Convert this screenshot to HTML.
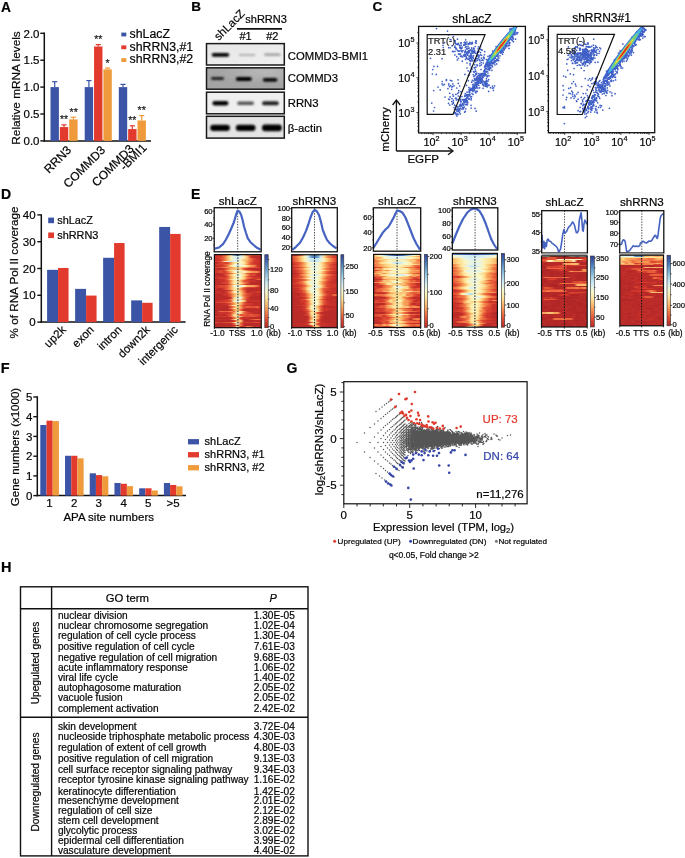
<!DOCTYPE html>
<html><head><meta charset="utf-8"><style>
html,body{margin:0;padding:0;background:#fff;}
body{width:685px;height:858px;position:relative;overflow:hidden;}
.hm{position:absolute;overflow:hidden;}
.hm i{position:absolute;left:0;right:0;display:block;}
svg{position:absolute;left:0;top:0;will-change:transform;}
svg text{font-family:"Liberation Sans",sans-serif;stroke-width:0.22px;}
</style></head><body>
<div class="hm" style="left:214px;top:255px;width:47px;height:73px">
<i style="top:0px;height:1px;background:linear-gradient(90deg,#bd2c29,#d0352b,#d3372c,#e05035,#f69653,#fdf1b6,#8cbedc,#4f7dba,#c1e3ee,#fccf81,#f17b47,#e65938,#d73f2e,#de4b33,#c8312a)"></i>
<i style="top:1px;height:2px;background:linear-gradient(90deg,#bf2d29,#d0352b,#d8402f,#ee683e,#fab165,#fdeeaf,#e4f3e8,#d2ecf2,#e4f3e8,#fdeeaf,#fab165,#d2362b,#b92a28,#b92a28,#b92a28)"></i>
<i style="top:3px;height:1px;background:linear-gradient(90deg,#d4392c,#cd342a,#de4c33,#ee683e,#fab165,#fdeeaf,#e4f3e8,#d2ecf2,#e4f3e8,#fdeeaf,#faba6e,#ee683e,#dd4932,#b92a28,#b92a28)"></i>
<i style="top:4px;height:2px;background:linear-gradient(90deg,#bf2d29,#c9312a,#d8402f,#ee683e,#fab165,#fdeeaf,#e4f3e8,#d2ecf2,#fdf1b7,#fbc77a,#fab165,#ee683e,#d8402f,#c8312a,#bf2d29)"></i>
<i style="top:6px;height:1px;background:linear-gradient(90deg,#d73f2f,#d1362b,#dd4a32,#fcd082,#eff5d9,#c2e3ee,#e5f3e7,#dbf1f4,#fcf8c6,#fdde90,#f58d4f,#ee6a3f,#d3382c,#d4392c,#ca322a)"></i>
<i style="top:7px;height:2px;background:linear-gradient(90deg,#b92a28,#bf2d29,#d94330,#da4430,#d8402f,#f69251,#fddd8e,#fdefb2,#faf7c9,#fde7a1,#f89e57,#e15035,#d2362b,#c8312a,#c6302a)"></i>
<i style="top:9px;height:1px;background:linear-gradient(90deg,#bf2d29,#d8412f,#d2372b,#e25336,#ef6f41,#f79c56,#f6f7ce,#e6f3e6,#edf5dc,#fddc8d,#f4874c,#e45537,#dc4832,#cb332a,#bf2d29)"></i>
<i style="top:10px;height:2px;background:linear-gradient(90deg,#b92a28,#c42f29,#cf352b,#da4531,#f07242,#fddb8c,#f3f6d3,#daf0f4,#f8f7cb,#f4f6d0,#fcd587,#f8a058,#f3824a,#cc332a,#bd2c28)"></i>
<i style="top:12px;height:1px;background:linear-gradient(90deg,#df4e34,#d7402f,#e55838,#f17745,#f79c56,#f48a4e,#fab86b,#fdde8f,#fcc97c,#f9a55a,#f48b4e,#e65a39,#e25236,#dd4a33,#d43a2d)"></i>
<i style="top:13px;height:2px;background:linear-gradient(90deg,#d0352b,#bb2b28,#b92a28,#cf342b,#eb633c,#f9a65b,#faba6d,#fccd7f,#fbbd71,#e55738,#c53029,#c8312a,#b92a28,#b92a28,#b92a28)"></i>
<i style="top:15px;height:1px;background:linear-gradient(90deg,#c32f29,#d2372b,#d94330,#da4430,#f9a45a,#fcd587,#eaf4e0,#ddf1f3,#fdf5be,#fab76b,#f3814a,#df4d34,#d3382c,#b92a28,#bf2d29)"></i>
<i style="top:16px;height:2px;background:linear-gradient(90deg,#d2372b,#cf352b,#e45537,#cf352b,#ec643d,#faae62,#fdf0b5,#f1f5d6,#fde59d,#f5f6d0,#fccd7f,#f9a85d,#f69352,#f4894d,#cd332a)"></i>
<i style="top:18px;height:1px;background:linear-gradient(90deg,#d0352b,#b92a28,#b92a28,#d7402f,#d8412f,#e65938,#f9ac60,#fdedae,#fdecab,#fab166,#e75c39,#d3372c,#d0352b,#c12e29,#b92a28)"></i>
<i style="top:19px;height:2px;background:linear-gradient(90deg,#be2c29,#b92a28,#b92a28,#c9322a,#ec643d,#fab96c,#fdf3ba,#eaf4df,#f4f6d1,#fdda8b,#f4874c,#d8402f,#df4d34,#b92a28,#bf2d29)"></i>
<i style="top:21px;height:1px;background:linear-gradient(90deg,#b92a28,#ce342b,#c6302a,#c32f29,#d73e2e,#f79d56,#fde399,#e9f4e1,#f5f6d0,#fbc275,#e95f3b,#d3392c,#b92a28,#b92a28,#b92a28)"></i>
<i style="top:22px;height:2px;background:linear-gradient(90deg,#d2362b,#c53029,#d73f2e,#d53b2d,#e35437,#f89d56,#fde59e,#f4f6d1,#fdf4bc,#fcd082,#ef6d40,#df4e34,#d3372b,#d1362b,#d43a2d)"></i>
<i style="top:24px;height:1px;background:linear-gradient(90deg,#b92a28,#b92a28,#c53029,#d1352b,#ea613c,#fcd183,#f1f6d5,#f2f6d4,#fde297,#f9a359,#d8402f,#ba2b28,#b92a28,#eb633c,#eb633c)"></i>
<i style="top:25px;height:2px;background:linear-gradient(90deg,#ba2a28,#c02e29,#c53029,#c9322a,#dc4932,#f4874c,#fde49b,#fdf4bd,#fab569,#e35537,#d94330,#ca322a,#c7312a,#b92a28,#c02d29)"></i>
<i style="top:27px;height:2px;background:linear-gradient(90deg,#b92a28,#c12e29,#c7312a,#d94230,#d9422f,#f79c56,#fdeeb0,#fdf3b9,#fdd889,#f27f49,#e35537,#b92a28,#b92a28,#b92a28,#b92a28)"></i>
<i style="top:29px;height:1px;background:linear-gradient(90deg,#b92a28,#b92a28,#b92a28,#b92a28,#cd342a,#f07243,#fbc476,#fde399,#f8a058,#e85d3a,#bb2b28,#b92a28,#b92a28,#b92a28,#b92a28)"></i>
<i style="top:30px;height:2px;background:linear-gradient(90deg,#d2372b,#d1352b,#dd4932,#db4631,#e9603b,#f69653,#f7f7cd,#dbf1f4,#e7f3e4,#fdf8c3,#fab468,#f9a75c,#f79b55,#ef6c40,#b92a28)"></i>
<i style="top:32px;height:1px;background:linear-gradient(90deg,#d1352b,#ce342b,#d8412f,#d9422f,#e65938,#f89f57,#fde9a5,#faf7c8,#fdda8b,#ef7042,#da4430,#d8412f,#d8412f,#c8312a,#cc332a)"></i>
<i style="top:33px;height:2px;background:linear-gradient(90deg,#d1352b,#c53029,#b92a28,#d63e2e,#eb633c,#f89f57,#fde7a2,#fdefb1,#f79754,#dc4832,#c22f29,#b92a28,#b92a28,#bd2c28,#c43029)"></i>
<i style="top:35px;height:1px;background:linear-gradient(90deg,#b92a28,#b92a28,#b92a28,#b92a28,#c53029,#dc4832,#fbc477,#fddd8e,#fab065,#e95f3b,#b92a28,#b92a28,#b92a28,#b92a28,#b92a28)"></i>
<i style="top:36px;height:2px;background:linear-gradient(90deg,#b92a28,#ca322a,#c8312a,#b92a28,#db4631,#f27d48,#fdf0b4,#ebf4df,#fcc97c,#ed673d,#c32f29,#c53029,#c6302a,#d63d2e,#d7402f)"></i>
<i style="top:38px;height:1px;background:linear-gradient(90deg,#d4392c,#bc2c28,#c22f29,#c7312a,#d43a2c,#f17644,#fab367,#fde296,#fccb7d,#f48c4e,#dd4a33,#da4531,#c22e29,#c02d29,#b92a28)"></i>
<i style="top:39px;height:2px;background:linear-gradient(90deg,#b92a28,#b92a28,#b92a28,#cb332a,#d0352b,#e55938,#faad62,#fdeeb1,#fcd586,#ee683e,#dc4732,#cd342a,#be2d29,#c6302a,#b92a28)"></i>
<i style="top:41px;height:1px;background:linear-gradient(90deg,#bd2c28,#b92a28,#b92a28,#b92a28,#c9322a,#e45537,#f9ab60,#fdedad,#fde7a0,#f17a46,#de4c33,#c32f29,#b92a28,#b92a28,#b92a28)"></i>
<i style="top:42px;height:2px;background:linear-gradient(90deg,#b92a28,#b92a28,#b92a28,#b92a28,#b92a28,#ca322a,#fcd587,#e7f3e4,#e8f4e2,#f4884d,#d8412f,#b92a28,#b92a28,#b92a28,#b92a28)"></i>
<i style="top:44px;height:1px;background:linear-gradient(90deg,#b92a28,#b92a28,#bf2d29,#c22e29,#d0352b,#f17a46,#fde195,#f5f6cf,#fccd80,#f07444,#cd342a,#c6302a,#b92a28,#b92a28,#b92a28)"></i>
<i style="top:45px;height:2px;background:linear-gradient(90deg,#bc2c28,#c7312a,#cd342a,#d3382c,#d8412f,#e15135,#fdefb1,#dff2f0,#f5f6d0,#fbc073,#ca322a,#c32f29,#cd342a,#c8312a,#cc332a)"></i>
<i style="top:47px;height:1px;background:linear-gradient(90deg,#b92a28,#dd4a33,#dd4a33,#dd4a33,#e65938,#f48b4e,#fab064,#fde7a2,#fab86c,#e55738,#b92a28,#b92a28,#b92a28,#b92a28,#b92a28)"></i>
<i style="top:48px;height:2px;background:linear-gradient(90deg,#c53029,#bd2c28,#bc2b28,#ca322a,#cd342a,#e45537,#f89d56,#fde7a2,#fab568,#e35437,#d53c2d,#d2362b,#c02e29,#b92a28,#d63d2e)"></i>
<i style="top:50px;height:1px;background:linear-gradient(90deg,#b92a28,#bf2d29,#be2d29,#b92a28,#c53029,#f79854,#fdefb2,#fde7a0,#f17645,#d2362b,#c9322a,#c8312a,#bc2b28,#c12e29,#b92a28)"></i>
<i style="top:51px;height:2px;background:linear-gradient(90deg,#b92a28,#b92a28,#c02e29,#b92a28,#b92a28,#da4531,#f69352,#fde9a5,#f79c56,#df4c34,#e85e3a,#e15135,#e05035,#eb633c,#bd2c28)"></i>
<i style="top:53px;height:1px;background:linear-gradient(90deg,#c42f29,#be2d29,#b92a28,#b92a28,#b92a28,#ec653d,#fde092,#fde49b,#f89e57,#d63d2d,#bb2b28,#c6302a,#bc2c28,#d53b2d,#bc2b28)"></i>
<i style="top:54px;height:2px;background:linear-gradient(90deg,#bd2c29,#b92a28,#ba2b28,#b92a28,#b92a28,#d2362b,#f4874c,#fdd98a,#ec653d,#b92a28,#b92a28,#bf2d29,#b92a28,#b92a28,#b92a28)"></i>
<i style="top:56px;height:1px;background:linear-gradient(90deg,#b92a28,#bd2c29,#ef6c40,#eb633c,#eb633c,#f4884d,#ef7041,#fdf4bb,#fde9a5,#f48a4e,#c7312a,#b92a28,#bf2d29,#c32f29,#b92a28)"></i>
<i style="top:57px;height:2px;background:linear-gradient(90deg,#c02d29,#bd2c29,#cc332a,#cc332a,#c9322a,#dc4832,#f79b56,#f5f6d0,#fddf90,#eb633c,#dd4932,#cf352b,#bf2d29,#b92a28,#b92a28)"></i>
<i style="top:59px;height:2px;background:linear-gradient(90deg,#ba2a28,#ba2b28,#c53029,#b92a28,#d3382c,#e15235,#fde195,#fcd385,#dc4832,#e9603b,#de4b33,#e65a39,#de4b33,#dd4a33,#c7312a)"></i>
<i style="top:61px;height:1px;background:linear-gradient(90deg,#d53b2d,#ce342a,#ca322a,#d8402f,#c53029,#ec643c,#fbc578,#e6f3e5,#fbbc6f,#de4c33,#de4b33,#e25236,#e75c39,#d3372b,#cd342a)"></i>
<i style="top:62px;height:2px;background:linear-gradient(90deg,#bb2b28,#bd2c28,#b92a28,#ba2b28,#b92a28,#b92a28,#ee673e,#fddf90,#d3382c,#c12e29,#ca322a,#ba2a28,#b92a28,#bd2c28,#bb2b28)"></i>
<i style="top:64px;height:1px;background:linear-gradient(90deg,#b92a28,#c43029,#c22e29,#c32f29,#c02d29,#d53c2d,#fcd485,#fcf8c5,#eb633c,#ba2b28,#b92a28,#da4430,#ec653d,#f17645,#ec643d)"></i>
<i style="top:65px;height:2px;background:linear-gradient(90deg,#b92a28,#b92a28,#b92a28,#b92a28,#b92a28,#b92a28,#d2372b,#fbbb6e,#fcca7d,#bc2b28,#b92a28,#b92a28,#b92a28,#b92a28,#b92a28)"></i>
<i style="top:67px;height:1px;background:linear-gradient(90deg,#de4c33,#dd4932,#cd342a,#dd4a32,#de4c33,#e75b39,#fcca7c,#eaf4df,#f28049,#cf352b,#db4731,#cc332a,#dd4a33,#db4631,#d53b2d)"></i>
<i style="top:68px;height:2px;background:linear-gradient(90deg,#b92a28,#b92a28,#b92a28,#b92a28,#bf2d29,#b92a28,#e55838,#f2f6d4,#ec643d,#b92a28,#b92a28,#b92a28,#b92a28,#b92a28,#b92a28)"></i>
<i style="top:70px;height:1px;background:linear-gradient(90deg,#bc2c28,#ba2a28,#b92a28,#ba2b28,#b92a28,#be2d29,#bc2c28,#ee6a3f,#f17b47,#b92a28,#b92a28,#b92a28,#ba2b28,#b92a28,#b92a28)"></i>
<i style="top:71px;height:2px;background:linear-gradient(90deg,#b92a28,#b92a28,#b92a28,#c32f29,#c7312a,#bd2c28,#dd4a33,#fde8a3,#cb332a,#c6302a,#f27c47,#eb633c,#bd2c28,#c8312a,#b92a28)"></i>
</div>
<div class="hm" style="left:292px;top:255px;width:45px;height:73px">
<i style="top:0px;height:1px;background:linear-gradient(90deg,#b92a28,#be2c29,#da4531,#f07142,#fde297,#d4edf2,#6a9ecb,#4672b4,#6a9ecb,#d4edf2,#fde69f,#f8a158,#f48a4e,#e55838,#d7402f)"></i>
<i style="top:1px;height:2px;background:linear-gradient(90deg,#e04f35,#ed663d,#f69753,#fccd7f,#fdf4bc,#d4edf2,#6a9ecb,#4672b4,#6a9ecb,#d4edf2,#fdd88a,#f48a4e,#ec653d,#d53c2d,#d2362b)"></i>
<i style="top:3px;height:1px;background:linear-gradient(90deg,#d94330,#e95f3b,#f58e4f,#fbc87a,#fdf0b3,#e7f3e3,#cae8f0,#bde1ed,#cae8f0,#e7f3e3,#fdf0b3,#fbc87a,#f58e4f,#e95f3b,#d94230)"></i>
<i style="top:4px;height:2px;background:linear-gradient(90deg,#d94230,#e95f3b,#f58e4f,#fbc87a,#fdf0b3,#e7f3e3,#cae8f0,#bde1ed,#cae8f0,#e7f3e3,#fdf0b3,#fbc87a,#f58e4f,#e95f3b,#d94230)"></i>
<i style="top:6px;height:1px;background:linear-gradient(90deg,#d94230,#e95f3b,#f58e4f,#fbc87a,#fdf0b3,#e7f3e3,#cae8f0,#bde1ed,#cae8f0,#e7f3e3,#fdf0b3,#fbc87a,#f58e4f,#e95f3b,#d94230)"></i>
<i style="top:7px;height:2px;background:linear-gradient(90deg,#c9322a,#d94330,#e04f35,#ef6f41,#fab165,#fdeba9,#f7f7cd,#e7f3e4,#f1f5d6,#fde69f,#fab266,#f17a46,#ea603b,#db4731,#ca322a)"></i>
<i style="top:9px;height:1px;background:linear-gradient(90deg,#c02d29,#cf352b,#e25236,#f17a46,#fab165,#fdefb2,#e6f3e6,#d3ecf2,#e6f3e6,#fdf0b4,#fbbc70,#f17946,#e25236,#c6302a,#be2c29)"></i>
<i style="top:10px;height:2px;background:linear-gradient(90deg,#d1362b,#dd4932,#e65a39,#f3854b,#fab76b,#fdeeb0,#f0f5d7,#e4f3e9,#f1f5d6,#fde7a2,#faba6e,#f4874c,#e04f35,#d8412f,#cd332a)"></i>
<i style="top:12px;height:1px;background:linear-gradient(90deg,#c42f29,#ca322a,#d63d2e,#e35537,#f48a4e,#fbc87a,#fdf1b6,#ebf4df,#eef5da,#fdf2b8,#fccb7e,#f48a4d,#e55938,#d53c2d,#d4392c)"></i>
<i style="top:13px;height:2px;background:linear-gradient(90deg,#c42f29,#d63e2e,#e85e3a,#f27e48,#fbc275,#fdeba9,#edf5dc,#dbf0f4,#f4f6d1,#fde9a5,#f9a259,#ee693e,#dc4932,#d3382c,#c9322a)"></i>
<i style="top:15px;height:1px;background:linear-gradient(90deg,#c12e29,#cc332a,#d9422f,#ed673d,#f79954,#fccb7e,#f8f7cc,#e3f2ea,#ecf4dc,#f9f7ca,#fdda8c,#f69753,#ec643d,#d8412f,#cb332a)"></i>
<i style="top:16px;height:2px;background:linear-gradient(90deg,#c02e29,#c53029,#dd4a33,#ea613b,#f8a158,#fddd8e,#fdf8c4,#f0f5d6,#fbf8c7,#fde195,#f89f57,#e85d3a,#d73f2e,#c9322a,#bf2d29)"></i>
<i style="top:18px;height:1px;background:linear-gradient(90deg,#b92a28,#b92a28,#c9322a,#e35436,#f3844b,#fbc77a,#fdf5bd,#f0f5d6,#fdf0b4,#fcd284,#f58d4f,#e25236,#cf352b,#bb2b28,#bd2c28)"></i>
<i style="top:19px;height:2px;background:linear-gradient(90deg,#be2c29,#cc332a,#d53c2d,#f17946,#f9a95d,#fde195,#ebf4de,#d8eff3,#e8f3e3,#fdf2b8,#fbc376,#f4874c,#e95e3a,#d73f2e,#ca322a)"></i>
<i style="top:21px;height:2px;background:linear-gradient(90deg,#ca322a,#cb332a,#d8422f,#e45637,#f59151,#fccd7f,#fdf5bd,#e7f3e4,#f2f6d4,#fde297,#f9a459,#e95f3b,#dc4832,#d0352b,#c8312a)"></i>
<i style="top:23px;height:1px;background:linear-gradient(90deg,#ce342b,#d7402f,#e15035,#f28049,#fab96c,#fdf3bb,#e0f2ee,#dbf0f4,#fdf8c3,#fdda8b,#f17a46,#e25336,#db4631,#d53b2d,#ca322a)"></i>
<i style="top:24px;height:2px;background:linear-gradient(90deg,#c12e29,#cb322a,#d43a2d,#dc4832,#ed673d,#fab569,#fdeeaf,#e6f3e6,#f7f7cc,#fde49b,#f9a459,#eb633c,#d73f2e,#c8312a,#c42f29)"></i>
<i style="top:26px;height:1px;background:linear-gradient(90deg,#ce342b,#c6302a,#d8422f,#f07343,#fab76a,#fdf6c0,#e8f3e3,#e6f3e5,#f9f7ca,#fab76a,#f3824a,#dc4832,#cd342a,#c8312a,#b92a28)"></i>
<i style="top:27px;height:2px;background:linear-gradient(90deg,#cf352b,#d2362b,#df4d34,#ec653d,#f9ab60,#fdeba9,#eff5d9,#eaf4df,#fdf6c0,#fbbc70,#ef6d40,#dc4832,#cf352b,#c53029,#cc332a)"></i>
<i style="top:29px;height:1px;background:linear-gradient(90deg,#cd342a,#d1362b,#d4392c,#df4e34,#f28049,#fddf90,#f8f7cc,#e4f3e8,#f7f7cc,#fcca7c,#f17644,#dd4a32,#d3382c,#d63d2e,#cb332a)"></i>
<i style="top:30px;height:2px;background:linear-gradient(90deg,#c9322a,#c02e29,#d1352b,#dc4832,#eb633c,#fab96c,#fdedad,#e3f2ea,#eff5d8,#fde196,#f4884d,#d8412f,#d53b2d,#d0352b,#ce342b)"></i>
<i style="top:32px;height:1px;background:linear-gradient(90deg,#cf352b,#d3372c,#d9422f,#e04f35,#f3864c,#fdde8f,#f7f7cd,#dbf0f4,#e6f3e6,#fdde8f,#f58c4f,#e55838,#d53b2d,#cb332a,#d2362b)"></i>
<i style="top:33px;height:2px;background:linear-gradient(90deg,#c02d29,#c42f29,#cf342b,#e55838,#f58f50,#fde8a4,#f2f6d4,#e9f4e1,#fdf0b5,#f9a95e,#e35537,#db4631,#cb332a,#c42f29,#c8312a)"></i>
<i style="top:35px;height:1px;background:linear-gradient(90deg,#ce342b,#c32f29,#cb332a,#d3382c,#f17745,#fccd7f,#eff5d8,#edf5db,#fdf0b4,#f9a65b,#e35436,#d63e2e,#cf352b,#ca322a,#c6302a)"></i>
<i style="top:36px;height:2px;background:linear-gradient(90deg,#c02d29,#c42f29,#d0352b,#da4531,#ee683e,#fcca7c,#f5f6d0,#d9f0f3,#fdf8c3,#fab165,#e55938,#cb332a,#ce342a,#cb332a,#c7312a)"></i>
<i style="top:38px;height:1px;background:linear-gradient(90deg,#ba2b28,#b92a28,#b92a28,#c22e29,#df4d34,#f58f50,#fde7a1,#f9f7ca,#faf7c8,#fab96d,#ee683e,#d8412f,#ca322a,#b92a28,#b92a28)"></i>
<i style="top:39px;height:2px;background:linear-gradient(90deg,#be2c29,#c12e29,#b92a28,#d2362b,#d8412f,#f58e50,#fcd687,#eff5d9,#f6f7cd,#fcd385,#f07644,#d94230,#c8312a,#ee683e,#f07544)"></i>
<i style="top:41px;height:1px;background:linear-gradient(90deg,#c22e29,#c53029,#c9312a,#d2362b,#e05035,#f58c4f,#fdebaa,#ecf4dd,#fdeaa8,#f9a55a,#e15035,#d4392c,#c6302a,#ca322a,#c6302a)"></i>
<i style="top:42px;height:2px;background:linear-gradient(90deg,#b92a28,#bf2d29,#c32f29,#bd2c29,#d2362b,#ef7041,#fcd688,#eff5d8,#fdf5be,#f9ab60,#e25236,#c6302a,#c22e29,#bd2c29,#b92a28)"></i>
<i style="top:44px;height:1px;background:linear-gradient(90deg,#b92a28,#bd2c29,#be2d29,#d63d2d,#e85d3a,#fbbc6f,#fdf4bc,#f0f5d6,#fddb8d,#f07443,#d73f2e,#c22f29,#bc2b28,#c22e29,#c7312a)"></i>
<i style="top:45px;height:2px;background:linear-gradient(90deg,#bf2d29,#b92a28,#be2d29,#d1352b,#d2362b,#f07444,#fde093,#e4f3e8,#fdf2b8,#f9a459,#e25236,#cf352b,#c02d29,#c9322a,#bd2c28)"></i>
<i style="top:47px;height:1px;background:linear-gradient(90deg,#c02e29,#c43029,#be2d29,#cd332a,#d43a2c,#ef7042,#fde298,#eff5d8,#fdf2b8,#f79c56,#e25336,#d1352b,#cd332a,#c02e29,#c02e29)"></i>
<i style="top:48px;height:2px;background:linear-gradient(90deg,#b92a28,#b92a28,#c02d29,#c22e29,#d3392c,#ef6d40,#fccb7d,#f0f5d7,#f8f7cb,#f9ac60,#e15035,#d2362b,#c42f29,#c9322a,#bb2b28)"></i>
<i style="top:50px;height:1px;background:linear-gradient(90deg,#c02d29,#c7312a,#ca322a,#c8312a,#d73f2e,#ef6f41,#fdebaa,#e7f3e4,#fdd98a,#ee673e,#c8312a,#ca322a,#c8312a,#cd342a,#bf2d29)"></i>
<i style="top:51px;height:2px;background:linear-gradient(90deg,#b92a28,#b92a28,#b92a28,#c02d29,#d0352b,#f27c47,#fdeaa8,#f7f7cd,#fab367,#e55938,#c12e29,#be2d29,#b92a28,#b92a28,#b92a28)"></i>
<i style="top:53px;height:1px;background:linear-gradient(90deg,#c22e29,#c32f29,#c22e29,#c9322a,#d63d2e,#f9a65b,#f7f7cc,#c9e7f0,#fcd587,#ed673e,#ce342b,#cb332a,#c8312a,#c22e29,#c42f29)"></i>
<i style="top:54px;height:2px;background:linear-gradient(90deg,#bc2c28,#be2d29,#be2d29,#c02d29,#d2362b,#ed663d,#fddf91,#f0f5d7,#fddd8e,#e55938,#c7312a,#ce342b,#bf2d29,#bd2c29,#bf2d29)"></i>
<i style="top:56px;height:1px;background:linear-gradient(90deg,#b92a28,#b92a28,#b92a28,#b92a28,#c9322a,#dc4731,#f9a75c,#f1f5d6,#fde7a2,#ee673e,#c8312a,#b92a28,#b92a28,#b92a28,#b92a28)"></i>
<i style="top:57px;height:2px;background:linear-gradient(90deg,#b92a28,#b92a28,#b92a28,#bd2c29,#c02d29,#e15135,#fde195,#fde39a,#e65a39,#c7312a,#b92a28,#b92a28,#b92a28,#b92a28,#b92a28)"></i>
<i style="top:59px;height:2px;background:linear-gradient(90deg,#ba2b28,#b92a28,#bc2c28,#b92a28,#cb332a,#dc4832,#fbc779,#f5f6cf,#fab165,#db4631,#c32f29,#b92a28,#bc2c28,#b92a28,#c02e29)"></i>
<i style="top:61px;height:1px;background:linear-gradient(90deg,#b92a28,#b92a28,#b92a28,#b92a28,#b92a28,#b92a28,#fab96c,#eef5da,#f69352,#d0352b,#be2d29,#be2c29,#b92a28,#b92a28,#bb2b28)"></i>
<i style="top:62px;height:2px;background:linear-gradient(90deg,#bb2b28,#b92a28,#bb2b28,#b92a28,#bc2b28,#c6302a,#f79c56,#fdf5bd,#f9a65b,#cd342a,#b92a28,#b92a28,#b92a28,#b92a28,#b92a28)"></i>
<i style="top:64px;height:1px;background:linear-gradient(90deg,#c32f29,#b92a28,#b92a28,#bd2c28,#be2c29,#ca322a,#faaf64,#fdf7c2,#ed673e,#c7312a,#b92a28,#b92a28,#b92a28,#b92a28,#bf2d29)"></i>
<i style="top:65px;height:2px;background:linear-gradient(90deg,#be2d29,#bc2c28,#b92a28,#b92a28,#ba2b28,#d53a2d,#fddb8d,#fdf8c3,#e65a39,#c9312a,#bb2b28,#b92a28,#b92a28,#be2d29,#c32f29)"></i>
<i style="top:67px;height:1px;background:linear-gradient(90deg,#b92a28,#b92a28,#b92a28,#b92a28,#b92a28,#b92a28,#d8412f,#fde49c,#f9a75c,#c8312a,#bf2d29,#b92a28,#b92a28,#b92a28,#b92a28)"></i>
<i style="top:68px;height:2px;background:linear-gradient(90deg,#c02d29,#bf2d29,#c43029,#be2c29,#c8312a,#d73f2f,#fde196,#fdefb1,#dd4a32,#ca322a,#ce342b,#c32f29,#c02d29,#c02e29,#c22e29)"></i>
<i style="top:70px;height:1px;background:linear-gradient(90deg,#ba2a28,#bf2d29,#c02d29,#c12e29,#bc2b28,#b92a28,#dd4a32,#fdf4bc,#f79a55,#c7312a,#c32f29,#c6302a,#c02e29,#be2d29,#bf2d29)"></i>
<i style="top:71px;height:2px;background:linear-gradient(90deg,#b92a28,#b92a28,#bd2c28,#b92a28,#b92a28,#bc2c28,#c32f29,#fab76a,#fccc7e,#bc2c28,#be2c29,#ba2a28,#b92a28,#b92a28,#b92a28)"></i>
</div>
<div class="hm" style="left:374px;top:254px;width:47px;height:74px">
<i style="top:0px;height:2px;background:linear-gradient(90deg,#fab064,#fde399,#f2f6d4,#c0e2ed,#83b6d7,#5685be,#4163ac,#3d58a5,#4163ac,#5685be,#83b6d7,#c0e2ed,#f2f6d4,#fde399,#fab064)"></i>
<i style="top:2px;height:1px;background:linear-gradient(90deg,#fab66a,#fcd587,#fde8a4,#fdf6bf,#f1f6d5,#e6f3e6,#dff2f0,#dcf1f4,#dff2f0,#e6f3e6,#fdecac,#fde195,#fbc779,#f9a75c,#f3864c)"></i>
<i style="top:3px;height:2px;background:linear-gradient(90deg,#fab66a,#f79b56,#fbbb6f,#fdf6bf,#f1f6d5,#e6f3e6,#dff2f0,#dcf1f4,#dff2f0,#e6f3e6,#f1f6d5,#fdf6bf,#fde8a4,#fcd587,#fab66a)"></i>
<i style="top:5px;height:1px;background:linear-gradient(90deg,#ef6c40,#fbc375,#fdde8f,#fbc174,#fdda8b,#fde59e,#fdebab,#fdeeaf,#fdebab,#fde59e,#fdda8b,#fccf81,#f9a55a,#f4884d,#ef6c40)"></i>
<i style="top:6px;height:2px;background:linear-gradient(90deg,#ef6c40,#f4884d,#f9a55a,#fcd183,#fdeeaf,#f4f6d1,#fdeeb0,#e1f2ec,#fdf0b5,#f0f5d7,#fde7a0,#fbc87b,#fcd183,#f4884d,#ef6c40)"></i>
<i style="top:8px;height:2px;background:linear-gradient(90deg,#f58f50,#f4884d,#fcd688,#fde6a0,#fdf0b5,#fbf8c7,#d2ecf2,#c9e7f0,#d0ebf1,#f6f6ce,#fdf8c4,#fde9a5,#f9a95e,#f59151,#f69553)"></i>
<i style="top:10px;height:1px;background:linear-gradient(90deg,#ef6c40,#f4884d,#f9a55a,#fbc174,#fdda8b,#fde59e,#fdedad,#eaf4df,#f1f5d6,#fdf2b8,#f7f7cd,#fdeba9,#fdde8f,#fbc375,#f9a95e)"></i>
<i style="top:11px;height:2px;background:linear-gradient(90deg,#ef6c40,#f4884d,#f9a55a,#fbc174,#fdda8b,#fde59e,#fdebab,#fdeeaf,#fdebab,#fde59e,#fdda8b,#fbc174,#f07444,#e65a39,#ef6c40)"></i>
<i style="top:13px;height:1px;background:linear-gradient(90deg,#b92a28,#d7402f,#df4e34,#f59251,#fab569,#fcca7c,#fde196,#fdecac,#fde49a,#f9a85d,#f27f49,#ef6f41,#ef6e41,#d1352b,#d3392c)"></i>
<i style="top:14px;height:2px;background:linear-gradient(90deg,#eb633c,#f9a85d,#f58f50,#fdde90,#fde9a6,#fdf7c2,#f3f6d3,#f2f6d4,#fdeba9,#fdeeb0,#fdeaa7,#f9a55a,#f48b4e,#eb623c,#e65a39)"></i>
<i style="top:16px;height:1px;background:linear-gradient(90deg,#db4631,#dc4832,#f48a4e,#faad62,#f4884d,#fccb7e,#fdedae,#fdeeb0,#fdf5bd,#f2f6d4,#fde6a0,#fbc87b,#f69653,#fab064,#e65a39)"></i>
<i style="top:17px;height:2px;background:linear-gradient(90deg,#eb633c,#f89d56,#fab064,#fde093,#fdd88a,#f4f6d1,#fdf3ba,#eff5d8,#fdf4bc,#fdefb3,#fde59e,#f9a55a,#f69753,#f3834a,#f07343)"></i>
<i style="top:19px;height:1px;background:linear-gradient(90deg,#fbc073,#fab468,#fcd587,#f27c47,#fcd082,#fdde90,#fddf91,#fde094,#fde59d,#fdd789,#fbc376,#f69753,#ea613b,#dc4832,#d43a2d)"></i>
<i style="top:20px;height:2px;background:linear-gradient(90deg,#f58d4f,#ef6e41,#fbc376,#fde194,#fde69f,#e9f4e1,#f5f6d0,#e1f2ec,#d2ecf2,#e0f2ee,#f4f6d1,#fccf81,#f79c56,#f9ac60,#ef6d40)"></i>
<i style="top:22px;height:1px;background:linear-gradient(90deg,#e35436,#ed673e,#ef6c40,#f48b4e,#fdd788,#fdeaa8,#fdefb2,#fdf6bf,#fdf0b5,#fcd688,#fbc477,#ef6b40,#fab96d,#e65a39,#e45637)"></i>
<i style="top:23px;height:2px;background:linear-gradient(90deg,#c8312a,#dc4932,#e15035,#fbc174,#fcce81,#fcc97b,#fddf92,#fde398,#fab367,#fbba6e,#f9aa5e,#f17b47,#d73f2e,#db4731,#f07443)"></i>
<i style="top:25px;height:1px;background:linear-gradient(90deg,#bb2b28,#c53029,#c7312a,#f3814a,#f89f57,#fccb7e,#faaf63,#fcd687,#fddc8d,#f79854,#f27f48,#de4c33,#d3382c,#bb2b28,#b92a28)"></i>
<i style="top:26px;height:2px;background:linear-gradient(90deg,#c7312a,#db4631,#ed653d,#fbc77a,#fbbf73,#fde093,#fdf4bc,#fdf2b7,#fde399,#fbc87b,#f9a95d,#e85d3a,#ee693e,#d3382c,#e04f35)"></i>
<i style="top:28px;height:1px;background:linear-gradient(90deg,#f9a45a,#f27f48,#fbbc6f,#fbc679,#fdde90,#fcd183,#e6f3e5,#f5f6d0,#f8f7cc,#f9aa5e,#f69753,#f69754,#f3834a,#f17946,#f17745)"></i>
<i style="top:29px;height:2px;background:linear-gradient(90deg,#c7312a,#cc332a,#ed663d,#f48b4e,#fde195,#fdeaa8,#fcd284,#fdda8b,#fbbd70,#fbc073,#f3844b,#e35436,#da4430,#bc2b28,#b92a28)"></i>
<i style="top:31px;height:1px;background:linear-gradient(90deg,#b92a28,#ca322a,#c32f29,#e55738,#f28049,#faad61,#fcce80,#fdf1b6,#fdda8c,#f89f57,#f79b55,#e85d3a,#e45537,#ca322a,#b92a28)"></i>
<i style="top:32px;height:2px;background:linear-gradient(90deg,#de4b33,#d4392c,#cf352b,#ed673e,#f48b4e,#f9a85d,#fdf4bc,#e3f2ea,#e7f3e5,#fde297,#fcd183,#e15035,#cf352b,#c8312a,#d1362b)"></i>
<i style="top:34px;height:1px;background:linear-gradient(90deg,#cf352b,#d94330,#ed663d,#f27e48,#f9aa5f,#fcd586,#fde69f,#fbf7c7,#fdf2b9,#fdd98a,#fde093,#ee693e,#dd4932,#e95f3a,#e75b39)"></i>
<i style="top:35px;height:2px;background:linear-gradient(90deg,#d1362b,#e85e3a,#ec653d,#f3814a,#f79954,#fcd082,#fde195,#fdf2b8,#fde69f,#faaf63,#f48b4e,#f4884d,#df4d34,#e55838,#e15235)"></i>
<i style="top:37px;height:1px;background:linear-gradient(90deg,#cb322a,#ed663d,#e45637,#fab367,#f9ac60,#fdeaa7,#fde093,#fdefb2,#fdf3ba,#fab96c,#fdeeaf,#fcd082,#faad61,#f79b56,#f79954)"></i>
<i style="top:38px;height:2px;background:linear-gradient(90deg,#ca322a,#c42f29,#cc332a,#c9322a,#ea623c,#faac61,#fbc376,#fde296,#fbbe71,#fcd082,#f79a55,#ee693e,#e25336,#eb633c,#ef7041)"></i>
<i style="top:40px;height:2px;background:linear-gradient(90deg,#f07343,#ed663d,#ee683e,#f17845,#faac61,#fccb7e,#fdde90,#fddf91,#fcd284,#fde093,#f07544,#f48a4d,#e35436,#d2372b,#d2372b)"></i>
<i style="top:42px;height:1px;background:linear-gradient(90deg,#d43a2d,#d3392c,#d43a2d,#e85d3a,#f4874c,#fab165,#fdefb1,#fdde90,#fde7a1,#f8a058,#fbc174,#f17b47,#de4b33,#cc332a,#e45637)"></i>
<i style="top:43px;height:2px;background:linear-gradient(90deg,#b92a28,#bd2c28,#c12e29,#b92a28,#e15035,#f69452,#fab86c,#fddd8e,#fddc8d,#f69452,#e85e3a,#da4430,#b92a28,#c22e29,#c32f29)"></i>
<i style="top:45px;height:1px;background:linear-gradient(90deg,#cb322a,#cc332a,#cd342a,#e65a39,#ed663d,#fbc275,#fdd98a,#fde8a3,#fde8a4,#fbc477,#ee673e,#e35537,#dc4832,#bf2d29,#b92a28)"></i>
<i style="top:46px;height:2px;background:linear-gradient(90deg,#d8422f,#da4430,#d2372b,#d73e2e,#f69251,#fde195,#fab86c,#fdeaa7,#fdf4bb,#f8a158,#f79a55,#ed663d,#ca322a,#c7312a,#dd4a32)"></i>
<i style="top:48px;height:1px;background:linear-gradient(90deg,#e45637,#e15135,#e04f35,#ee693f,#f07142,#fcd284,#fcd385,#fdf0b3,#fcd385,#f9a459,#f48a4e,#eb643c,#d4392c,#d8412f,#db4731)"></i>
<i style="top:49px;height:2px;background:linear-gradient(90deg,#cd342a,#b92a28,#b92a28,#bb2b28,#ef6d40,#f27e48,#fdda8b,#fde59e,#fde49c,#f79b56,#f8a158,#d63d2e,#b92a28,#d3382c,#c12e29)"></i>
<i style="top:51px;height:1px;background:linear-gradient(90deg,#cd342a,#b92a28,#db4631,#e85d3a,#f8a259,#fde196,#fdd889,#fdf5be,#fdf0b3,#fab66a,#f28049,#e55838,#e65938,#b92a28,#bf2d29)"></i>
<i style="top:52px;height:2px;background:linear-gradient(90deg,#d3382c,#d8412f,#e85d3a,#e45737,#f8a158,#fbc275,#fdebaa,#fde59d,#fde399,#fbba6e,#fbc87a,#f17a46,#f69452,#f3834a,#e75c39)"></i>
<i style="top:54px;height:1px;background:linear-gradient(90deg,#bd2c29,#c12e29,#cd342a,#d73f2e,#f4884d,#f69452,#fccb7e,#fcc97c,#f27f49,#f17a46,#db4731,#d43a2d,#bf2d29,#b92a28,#b92a28)"></i>
<i style="top:55px;height:2px;background:linear-gradient(90deg,#b92a28,#d63e2e,#cc332a,#db4731,#ef6b3f,#ee6a3f,#f69753,#fcd688,#fcc97c,#f27c47,#ec643d,#e45537,#b92a28,#d3382c,#cf342b)"></i>
<i style="top:57px;height:1px;background:linear-gradient(90deg,#cd342a,#d53c2d,#d53c2d,#d9422f,#e95f3b,#f17946,#fab86c,#fddd8e,#fde6a0,#fcd385,#f69553,#f07042,#ee693f,#dc4832,#d94230)"></i>
<i style="top:58px;height:2px;background:linear-gradient(90deg,#b92a28,#b92a28,#b92a28,#b92a28,#de4c33,#ea613b,#fbba6e,#fab86b,#fab76b,#ef6d40,#de4c33,#bc2c28,#c12e29,#b92a28,#b92a28)"></i>
<i style="top:60px;height:1px;background:linear-gradient(90deg,#df4e34,#e25336,#e75b39,#ed673e,#f3844b,#fddd8e,#fde8a3,#fdeeb0,#e1f2ec,#fdd98a,#fbc073,#ef6c40,#eb633c,#e15035,#f17946)"></i>
<i style="top:61px;height:2px;background:linear-gradient(90deg,#dd4a33,#dd4a33,#e75b39,#ca322a,#e9603b,#f59051,#fcd384,#fddf90,#fcce80,#f17b47,#f3814a,#d3372b,#d3382c,#b92a28,#bd2c29)"></i>
<i style="top:63px;height:1px;background:linear-gradient(90deg,#b92a28,#b92a28,#c53029,#dd4932,#cd342a,#e25236,#f4884d,#fab165,#fbbc6f,#f8a259,#f27c47,#e35537,#b92a28,#b92a28,#b92a28)"></i>
<i style="top:64px;height:2px;background:linear-gradient(90deg,#d0352b,#c8312a,#cc332a,#e04f34,#dd4a32,#f27f49,#fab66a,#fde6a0,#fbc275,#f4874c,#e55838,#bb2b28,#f17745,#f4884d,#ef6f41)"></i>
<i style="top:66px;height:1px;background:linear-gradient(90deg,#b92a28,#cb322a,#d63e2e,#de4b33,#ef6e41,#f79954,#fde8a4,#fddd8e,#fab266,#eb623c,#e55838,#df4e34,#c5302a,#dd4a33,#c12e29)"></i>
<i style="top:67px;height:2px;background:linear-gradient(90deg,#d0352b,#b92a28,#d43a2c,#e45637,#d63e2e,#fab266,#fbc073,#fdedad,#fde298,#fbbe71,#f27e48,#ee683e,#ee683e,#ed663d,#d9422f)"></i>
<i style="top:69px;height:1px;background:linear-gradient(90deg,#bc2b28,#c43029,#b92a28,#e35436,#de4c33,#e35436,#f79a55,#fccd7f,#fab468,#f28049,#d94230,#ce342b,#c42f29,#c12e29,#bd2c29)"></i>
<i style="top:70px;height:2px;background:linear-gradient(90deg,#f27f48,#f07242,#e85d3a,#fab468,#f3864c,#fddf91,#fdf8c5,#f3f6d2,#fddd8e,#fcd183,#f69653,#ec643d,#e85d3a,#f07644,#e45737)"></i>
<i style="top:72px;height:2px;background:linear-gradient(90deg,#c02d29,#db4631,#ea613b,#da4531,#da4430,#ee6a3f,#fab66a,#fdf7c1,#fde6a0,#f3834a,#f3834a,#e04f35,#d8412f,#df4d34,#bb2b28)"></i>
</div>
<div class="hm" style="left:452px;top:253px;width:45px;height:74px">
<i style="top:0px;height:2px;background:linear-gradient(90deg,#5a8ac1,#4f7dba,#4672b4,#4369af,#4061aa,#3e5ca7,#3d59a6,#3d58a5,#3d59a6,#3e5ca7,#4061aa,#4369af,#4672b4,#4f7dba,#5a8ac1)"></i>
<i style="top:2px;height:1px;background:linear-gradient(90deg,#fdf6c0,#f5f6cf,#ecf4dd,#e4f3e8,#def1f1,#d8eff3,#d3ecf2,#c7e6ef,#cfeaf1,#d8eff3,#def1f1,#e4f3e8,#ecf4dd,#f5f6cf,#fdf6c0)"></i>
<i style="top:3px;height:2px;background:linear-gradient(90deg,#fdf6c0,#f5f6cf,#ecf4dd,#e4f3e8,#def1f1,#d8eff3,#d3ecf2,#d2ecf2,#d3ecf2,#d8eff3,#def1f1,#e4f3e8,#ecf4dd,#f5f6cf,#fdf6c0)"></i>
<i style="top:5px;height:2px;background:linear-gradient(90deg,#faaf64,#fbc679,#fddc8d,#fdedae,#ecf4dd,#e6f3e6,#dcf1f4,#dbf1f4,#e2f2eb,#f9f7ca,#fdedae,#fde69f,#fddc8d,#fbc679,#faaf64)"></i>
<i style="top:7px;height:1px;background:linear-gradient(90deg,#faaf64,#fbc679,#fddc8d,#fde69f,#fdf7c2,#e6f3e5,#e0f2ef,#d6eef3,#e9f4e1,#e4f3e8,#fdf4bc,#fde69f,#fddc8d,#fbc679,#faaf64)"></i>
<i style="top:8px;height:2px;background:linear-gradient(90deg,#faaf64,#fbc679,#fddc8d,#fde69f,#fdf4bc,#f7f7cd,#ebf4de,#eef5da,#eff5d8,#faf7c8,#fdedae,#fde69f,#fddc8d,#fbc679,#faaf64)"></i>
<i style="top:10px;height:1px;background:linear-gradient(90deg,#faaf64,#fbc679,#fddc8d,#fde69f,#fdf5bd,#eff5d8,#e1f2ed,#d5edf2,#def1f1,#e3f2ea,#fdf5be,#fde69f,#fddc8d,#fbc679,#faaf64)"></i>
<i style="top:11px;height:2px;background:linear-gradient(90deg,#ec643d,#f69653,#fbbb6e,#fde69f,#fdecac,#eaf4df,#e2f2eb,#e0f2ee,#e8f4e2,#f5f6d0,#fdecac,#fcd385,#fab468,#f58c4f,#ee673e)"></i>
<i style="top:13px;height:1px;background:linear-gradient(90deg,#f27e48,#f89e57,#fccc7e,#fde8a3,#ecf4dd,#dcf1f3,#bbe0ec,#b7deeb,#cce9f0,#e6f3e6,#fbf8c7,#fcd587,#fbbd71,#f79854,#f17a46)"></i>
<i style="top:14px;height:2px;background:linear-gradient(90deg,#e25236,#ee6b3f,#f79c56,#fcce80,#fdedae,#fdf4bb,#e4f3e8,#e7f3e4,#f2f6d5,#faf7c8,#fdebaa,#fddf90,#faae62,#f07243,#ee683e)"></i>
<i style="top:16px;height:1px;background:linear-gradient(90deg,#f07544,#f3834a,#f9ab5f,#fcd082,#fde9a5,#f8f7cc,#e8f4e2,#ecf4dd,#f1f5d6,#fdf7c3,#fde196,#fab669,#f79854,#f07544,#e85d3a)"></i>
<i style="top:17px;height:2px;background:linear-gradient(90deg,#e45637,#ee673e,#f58f50,#fab76b,#fdf5be,#e1f2ed,#f1f5d5,#e0f2ee,#e4f3e8,#eaf4e0,#fdf8c4,#fddd8e,#fbbf72,#f69753,#e95f3b)"></i>
<i style="top:19px;height:1px;background:linear-gradient(90deg,#e55838,#f3844b,#f58d4f,#fcce81,#fdecab,#fdf8c4,#eff5d8,#edf5dc,#f0f5d6,#f1f6d5,#fddc8e,#fbc77a,#f59151,#f3854b,#e75b39)"></i>
<i style="top:20px;height:2px;background:linear-gradient(90deg,#e65a39,#ef6c40,#f69251,#fbc578,#fde7a2,#fdf6c0,#edf5dc,#f9f7ca,#f8f7cb,#fde6a0,#fdd98a,#f9ab60,#f27f49,#e9603b,#da4431)"></i>
<i style="top:22px;height:1px;background:linear-gradient(90deg,#ea603b,#eb623c,#f58f50,#f9a65b,#fde39a,#fdf4bd,#f3f6d2,#eaf4df,#f9f7ca,#fdf1b6,#fde297,#f89e57,#f69553,#ef7042,#de4c33)"></i>
<i style="top:23px;height:2px;background:linear-gradient(90deg,#d3382c,#d8412f,#d3382c,#ec653d,#f69452,#fccf81,#fdedad,#f7f7cd,#fbf8c7,#fbf8c6,#fdde90,#f9a459,#f48b4e,#e65a39,#df4c33)"></i>
<i style="top:25px;height:2px;background:linear-gradient(90deg,#d94330,#f07142,#f3864c,#fab266,#fde59d,#fdefb1,#e9f4e1,#e8f3e3,#ecf4dd,#fdf6c0,#fde49b,#fbbb6e,#f69552,#ef6c40,#e65a39)"></i>
<i style="top:27px;height:1px;background:linear-gradient(90deg,#db4731,#ef6c40,#f4894d,#fab66a,#fddf91,#fdf8c5,#ecf4dc,#e7f3e4,#e3f3e9,#fdf0b4,#fcd586,#f17a46,#e25236,#ed663d,#e35437)"></i>
<i style="top:28px;height:2px;background:linear-gradient(90deg,#de4b33,#ec643c,#f07443,#f9a75b,#fddf92,#fdf8c4,#f4f6d1,#e8f4e2,#fbf8c7,#fde59d,#fcc97b,#f9a45a,#ef6d40,#e25336,#d7402f)"></i>
<i style="top:30px;height:1px;background:linear-gradient(90deg,#cd342a,#de4c33,#ef6c40,#f17745,#fab86c,#fde69f,#f6f7ce,#eaf4df,#f6f7ce,#fde399,#f79d56,#ec653d,#e45637,#e85d3a,#d53b2d)"></i>
<i style="top:31px;height:2px;background:linear-gradient(90deg,#d4392c,#d94330,#e35537,#f3834b,#fab266,#fde49a,#fdf3b9,#edf5dc,#f2f6d5,#fdf0b3,#fdd98a,#faac61,#f4894d,#ea603b,#da4531)"></i>
<i style="top:33px;height:1px;background:linear-gradient(90deg,#dd4a33,#de4b33,#f17645,#f9a65b,#fcd788,#fdf2b7,#f1f5d6,#e6f3e6,#edf5db,#fdf3ba,#fde298,#fab76a,#ef7042,#e85e3a,#db4631)"></i>
<i style="top:34px;height:2px;background:linear-gradient(90deg,#ef6c40,#f17745,#f79c56,#fcce80,#fdeaa7,#faf7c8,#dcf1f4,#e7f3e4,#f8f7cb,#fde8a3,#fcce80,#f9a65b,#f3824a,#ec643c,#dc4832)"></i>
<i style="top:36px;height:1px;background:linear-gradient(90deg,#da4430,#db4631,#ee683e,#f79954,#fbc174,#fdf1b5,#fdf3bb,#f0f5d7,#fdf5be,#fde49c,#fab367,#f4874c,#ec653d,#d94230,#d94330)"></i>
<i style="top:37px;height:2px;background:linear-gradient(90deg,#cc332a,#ca322a,#da4430,#e25336,#f69352,#fcd183,#fde8a4,#fdf7c2,#f6f6cf,#fdf1b5,#fcd082,#f79c56,#f17645,#e25336,#db4731)"></i>
<i style="top:39px;height:1px;background:linear-gradient(90deg,#de4c33,#d7402f,#de4b33,#f69251,#faaf64,#fde7a2,#fdf7c2,#e7f3e4,#eef5da,#fdf0b3,#fcd082,#f89e57,#f89e57,#f8a057,#ed653d)"></i>
<i style="top:40px;height:2px;background:linear-gradient(90deg,#dd4932,#e25336,#ee693e,#fde49a,#edf5db,#ceeaf1,#b1dbea,#f5f6d0,#fde69e,#fbc477,#f28149,#e75b39,#d94330,#c32f29,#c7312a)"></i>
<i style="top:42px;height:1px;background:linear-gradient(90deg,#ca322a,#d1352b,#e25336,#ef6c40,#f79b55,#fcd385,#fdeeaf,#faf7c8,#fcf8c6,#fdecab,#fbc779,#f4884d,#e65a39,#d2362b,#d0352b)"></i>
<i style="top:43px;height:2px;background:linear-gradient(90deg,#d53b2d,#d94330,#eb623c,#ef6d40,#f4874c,#fcd385,#fdf7c3,#eff5d8,#e4f3e9,#f0f5d7,#fde59d,#fab367,#f4874c,#eb633c,#df4e34)"></i>
<i style="top:45px;height:2px;background:linear-gradient(90deg,#c9322a,#cb332a,#d94330,#de4c33,#f17644,#fbc073,#fdeba9,#fdf8c4,#f8f7cc,#fdde90,#f9aa5f,#f07142,#d73e2e,#d94330,#c53029)"></i>
<i style="top:47px;height:1px;background:linear-gradient(90deg,#d4392c,#db4531,#e25336,#ea613b,#f89e57,#fcd587,#fdf1b6,#faf7c8,#fdf5be,#fddf91,#f9a65b,#f07644,#da4531,#f58c4f,#f59151)"></i>
<i style="top:48px;height:2px;background:linear-gradient(90deg,#ca322a,#d2372b,#e04f35,#ec643d,#fab064,#fde8a4,#fddb8c,#fddb8c,#fde195,#f9a75c,#eb623c,#df4d34,#c53029,#cd342a,#c53029)"></i>
<i style="top:50px;height:1px;background:linear-gradient(90deg,#c9322a,#c8312a,#be2d29,#d0352b,#f79754,#fab266,#fde69f,#fdf8c3,#fdf6c0,#fdd98b,#f69452,#ee693e,#df4d34,#db4631,#d0352b)"></i>
<i style="top:51px;height:2px;background:linear-gradient(90deg,#d0352b,#c7312a,#d4392c,#e25336,#f17a46,#fbc174,#fdeba9,#fdf6c0,#fdefb2,#fbc779,#f48b4e,#ee683e,#df4e34,#c12e29,#d1362b)"></i>
<i style="top:53px;height:1px;background:linear-gradient(90deg,#b92a28,#c9322a,#d7402f,#ec643d,#f27f49,#fcc97c,#fdf0b3,#fdf5be,#fdf3ba,#fccf81,#f79955,#e35436,#d63d2e,#c7312a,#c42f29)"></i>
<i style="top:54px;height:2px;background:linear-gradient(90deg,#ce342b,#c22f29,#ca322a,#cb332a,#ef6c40,#f8a058,#fde7a2,#f9f7ca,#fde9a5,#fab76b,#ea613b,#df4d34,#d94230,#bf2d29,#c7312a)"></i>
<i style="top:56px;height:1px;background:linear-gradient(90deg,#bc2b28,#c42f29,#ce342b,#dd4932,#ea613b,#f9aa5e,#fde399,#fdf2b8,#fdeba9,#fbc275,#ea613c,#dc4832,#d3372c,#c9322a,#c32f29)"></i>
<i style="top:57px;height:2px;background:linear-gradient(90deg,#c8312a,#d2372b,#da4430,#d94230,#f07443,#fbbe72,#fdeeaf,#f9f7ca,#fdeaa7,#f89e57,#f17b47,#d94330,#d73e2e,#c9322a,#d3372b)"></i>
<i style="top:59px;height:1px;background:linear-gradient(90deg,#bb2b28,#c32f29,#b92a28,#d63d2e,#e35537,#f79b55,#fde196,#fdf3ba,#fdeba9,#fbbb6f,#ec653d,#da4431,#d1362b,#ba2a28,#bc2c28)"></i>
<i style="top:60px;height:2px;background:linear-gradient(90deg,#b92a28,#b92a28,#be2d29,#bb2b28,#db4631,#f27d48,#fbbd70,#fde59d,#fde9a6,#f8a258,#e45637,#d2362b,#c9312a,#b92a28,#b92a28)"></i>
<i style="top:62px;height:1px;background:linear-gradient(90deg,#b92a28,#c22e29,#bf2d29,#d53b2d,#ea603b,#f4884d,#fde8a4,#fdf7c2,#fde298,#f3844b,#db4631,#cc332a,#cd342a,#bb2b28,#c02e29)"></i>
<i style="top:63px;height:2px;background:linear-gradient(90deg,#b92a28,#b92a28,#c42f29,#f07243,#f79955,#ef6e41,#fcd586,#fdeeb0,#fde194,#f79a55,#e35537,#cd342a,#c9322a,#b92a28,#b92a28)"></i>
<i style="top:65px;height:2px;background:linear-gradient(90deg,#c53029,#cf352b,#cd342a,#d94230,#e55838,#f27f49,#fde298,#fdf3ba,#fdda8b,#f28049,#ed663d,#da4531,#d1362b,#c9312a,#c7312a)"></i>
<i style="top:67px;height:1px;background:linear-gradient(90deg,#c8312a,#c12e29,#bc2c28,#d53b2d,#e55938,#f9a75c,#fde196,#fde69f,#f79c56,#e25336,#d94230,#c9322a,#c22e29,#b92a28,#b92a28)"></i>
<i style="top:68px;height:2px;background:linear-gradient(90deg,#c8312a,#c42f29,#e75c39,#ee6a3f,#f3834a,#f27e48,#fddf91,#fdefb1,#fcd183,#f07142,#da4430,#d3372b,#cf352b,#c5302a,#c6302a)"></i>
<i style="top:70px;height:1px;background:linear-gradient(90deg,#b92a28,#b92a28,#b92a28,#b92a28,#c9322a,#e85d3a,#f9ac60,#daf0f4,#fdf8c3,#f8a258,#f07544,#bc2c28,#b92a28,#b92a28,#b92a28)"></i>
<i style="top:71px;height:2px;background:linear-gradient(90deg,#c12e29,#c6302a,#c32f29,#c12e29,#bc2b28,#d73f2e,#f17946,#fbc87b,#fddc8d,#ee693e,#bd2c29,#b92a28,#b92a28,#cf352b,#c8312a)"></i>
<i style="top:73px;height:1px;background:linear-gradient(90deg,#b92a28,#c8312a,#b92a28,#bd2c29,#d2372b,#fbbe72,#f6f7ce,#e4f3e9,#f79c56,#d63d2e,#c53029,#c53029,#c32f29,#be2c29,#c02d29)"></i>
</div>
<div class="hm" style="left:542px;top:256px;width:45px;height:71px">
<i style="top:0px;height:1px;background:linear-gradient(90deg,#fdecac,#f1f5d6,#e9f4e2,#de4b33,#de4b33,#dd4b33,#e45537,#df4e34,#e55938,#fdf8c4,#fdebaa,#73a9d0,#f2f6d4,#f1f5d5,#5f91c4)"></i>
<i style="top:1px;height:2px;background:linear-gradient(90deg,#b42727,#ba2a28,#e45637,#e35436,#e35436,#b02627,#bd2c28,#af2527,#b12627,#b42827,#b32727,#b22727,#c6302a,#cb332a,#dc4832)"></i>
<i style="top:3px;height:1px;background:linear-gradient(90deg,#e04f34,#e65a39,#de4b33,#e25336,#e55938,#fdf3b9,#fdf3b9,#fdf3b9,#fdf3b9,#fdf3b9,#fdf3b9,#fdf3b9,#fdf3b9,#e04f34,#e04f34)"></i>
<i style="top:4px;height:2px;background:linear-gradient(90deg,#e04f34,#e04f34,#fdf3b9,#fdf3b9,#fab367,#fab86c,#fab96c,#fab569,#f8a058,#fab76b,#fdf3b9,#bf2d29,#bf2d29,#d1352b,#cf352b)"></i>
<i style="top:6px;height:1px;background:linear-gradient(90deg,#ba2b28,#bc2c28,#b32727,#ba2b28,#be2d29,#b52827,#ba2b28,#b42827,#ac2427,#b52828,#b02627,#b52828,#b22727,#b62928,#aa2326)"></i>
<i style="top:7px;height:2px;background:linear-gradient(90deg,#bf2d29,#b02627,#b52828,#b82a28,#b72928,#b72928,#ab2326,#fab064,#f79955,#fab266,#fbbc70,#fbbe71,#ad2527,#af2627,#bb2b28)"></i>
<i style="top:9px;height:1px;background:linear-gradient(90deg,#b02627,#b32727,#b82a28,#b32727,#ba2b28,#d73f2e,#da4430,#e15135,#ce342a,#d2362b,#dc4732,#d94230,#d73f2e,#dd4a32,#db4631)"></i>
<i style="top:10px;height:2px;background:linear-gradient(90deg,#ae2527,#ae2527,#db4731,#d53b2d,#d94230,#d63c2d,#e15135,#de4b33,#b62928,#bc2c28,#b42827,#b42727,#b12627,#b52828,#b72928)"></i>
<i style="top:12px;height:1px;background:linear-gradient(90deg,#b62928,#b12627,#ef6f41,#e75b39,#ec643d,#ef6d40,#e85d3a,#ea613b,#b12627,#b12627,#b32727,#b32727,#ba2b28,#b92a28,#b32727)"></i>
<i style="top:13px;height:2px;background:linear-gradient(90deg,#bb2b28,#b32727,#ae2527,#bd2c29,#c22e29,#bf2d29,#db4631,#c32f29,#ca322a,#ba2b28,#b82a28,#b22727,#b12627,#f9a65b,#f07644)"></i>
<i style="top:15px;height:1px;background:linear-gradient(90deg,#b22727,#b52828,#b12627,#b12627,#b22727,#bd2c29,#b52828,#b42827,#b12627,#f9a55a,#f27c47,#f17946,#f3864c,#f28049,#f4874c)"></i>
<i style="top:16px;height:2px;background:linear-gradient(90deg,#b02627,#b22727,#b82a28,#af2527,#b42727,#af2527,#bb2b28,#b32727,#b42827,#b52827,#ba2b28,#be2c29,#af2527,#b42827,#b42827)"></i>
<i style="top:18px;height:1px;background:linear-gradient(90deg,#ae2527,#b12627,#b12627,#b02627,#b92a28,#b22727,#ad2427,#bb2b28,#b62928,#b92a28,#b52828,#b32727,#b92a28,#ae2527,#b12627)"></i>
<i style="top:19px;height:2px;background:linear-gradient(90deg,#b62928,#b82a28,#b92a28,#af2527,#b32727,#b32727,#b72928,#ad2427,#b02627,#b82a28,#b62928,#b82a28,#ad2427,#b42827,#b42827)"></i>
<i style="top:21px;height:1px;background:linear-gradient(90deg,#bc2c28,#f17645,#ee683e,#e9603b,#eb633c,#ed663d,#e85d3a,#f07243,#ef6d40,#b82928,#b72928,#b32727,#b12627,#b12627,#b82a28)"></i>
<i style="top:22px;height:2px;background:linear-gradient(90deg,#b52828,#b02627,#ce342b,#d63e2e,#d63c2d,#b72928,#b82a28,#ae2527,#b12627,#b22727,#c02e29,#b12627,#b42727,#b82a28,#b62928)"></i>
<i style="top:24px;height:1px;background:linear-gradient(90deg,#b52828,#b12627,#ba2b28,#be2d29,#b72928,#af2527,#b42827,#b02627,#b82a28,#b72928,#b42827,#ae2527,#b32727,#ad2527,#bb2b28)"></i>
<i style="top:25px;height:2px;background:linear-gradient(90deg,#b72928,#ad2427,#be2d29,#ba2b28,#b12627,#b52828,#b32727,#b02627,#b72928,#b12627,#de4b33,#db4731,#e25336,#db4531,#df4d34)"></i>
<i style="top:27px;height:1px;background:linear-gradient(90deg,#b62928,#b52828,#b52828,#b62928,#b92a28,#b12627,#ef6e41,#ef6d40,#ef7042,#ed673e,#ef6f41,#ed663d,#f07142,#ed653d,#ee683e)"></i>
<i style="top:28px;height:2px;background:linear-gradient(90deg,#ad2427,#bd2c29,#b22727,#ae2527,#a92226,#b72928,#ba2b28,#ba2a28,#b32727,#bc2b28,#b42827,#fbbb6e,#fab165,#fbc275,#fab266)"></i>
<i style="top:30px;height:1px;background:linear-gradient(90deg,#bd2c28,#b72928,#b82a28,#af2527,#aa2326,#b12627,#b02627,#b52828,#b52827,#bd2c28,#b82a28,#b32727,#b52828,#a82226,#b02627)"></i>
<i style="top:31px;height:2px;background:linear-gradient(90deg,#b62928,#e75b39,#e15035,#d94230,#b62928,#b42827,#b52828,#b62928,#ef7041,#ef6b40,#ef7042,#f17b47,#ea603b,#f3864c,#f17a46)"></i>
<i style="top:33px;height:1px;background:linear-gradient(90deg,#b52828,#d73f2e,#d0352b,#e35436,#d94230,#d94330,#e15035,#b62928,#b12627,#b82a28,#b72928,#bc2c28,#b92a28,#b62928,#b12627)"></i>
<i style="top:34px;height:2px;background:linear-gradient(90deg,#e55838,#ed663d,#f27e48,#ec643d,#ef6c40,#ef6f41,#ef6b3f,#ed673e,#b92a28,#b52828,#b72928,#b42827,#b72928,#b52828,#b12627)"></i>
<i style="top:36px;height:1px;background:linear-gradient(90deg,#bc2c28,#bc2c28,#b82a28,#b32727,#b42827,#b72928,#b52828,#ae2527,#bc2c28,#da4430,#d8412f,#d73f2e,#da4430,#d94230,#d53a2d)"></i>
<i style="top:37px;height:1px;background:linear-gradient(90deg,#b52828,#b22727,#b02627,#bf2d29,#af2627,#b62928,#ad2427,#b82928,#ba2b28,#d63d2e,#d3382c,#cf342b,#bc2c28,#ba2b28,#b32727)"></i>
<i style="top:38px;height:2px;background:linear-gradient(90deg,#b12627,#b52828,#b62928,#b12627,#ac2426,#b42827,#d2362b,#d0352b,#d1362b,#ac2426,#af2527,#ab2426,#ba2b28,#b72928,#b32727)"></i>
<i style="top:40px;height:1px;background:linear-gradient(90deg,#b72928,#b32727,#b62928,#b02627,#b02627,#ab2426,#ae2527,#ae2527,#b42827,#b52828,#ae2527,#b42827,#b72928,#b92a28,#b42827)"></i>
<i style="top:41px;height:2px;background:linear-gradient(90deg,#b62928,#d0352b,#c22f29,#d8402f,#bd2c29,#b92a28,#aa2326,#b22727,#ae2527,#ac2426,#b32727,#b02627,#ba2a28,#b22727,#af2527)"></i>
<i style="top:43px;height:1px;background:linear-gradient(90deg,#ac2426,#ea603b,#e25236,#e25336,#e35437,#b72928,#b52828,#b92a28,#b42827,#af2527,#bc2b28,#bb2b28,#b22727,#af2527,#b22727)"></i>
<i style="top:44px;height:2px;background:linear-gradient(90deg,#b82a28,#bb2b28,#be2c29,#ae2527,#b12627,#b12627,#bb2b28,#b92a28,#ad2427,#b22727,#ad2427,#bc2c28,#b62828,#b92a28,#b42827)"></i>
<i style="top:46px;height:1px;background:linear-gradient(90deg,#bc2b28,#af2527,#ae2527,#b52828,#b62928,#ac2426,#b12627,#ba2b28,#af2527,#b02627,#b72928,#aa2326,#b32727,#b32727,#b82a28)"></i>
<i style="top:47px;height:2px;background:linear-gradient(90deg,#b52828,#b62928,#b92a28,#b92a28,#b22727,#b32727,#b72928,#bb2b28,#b02627,#ae2527,#b42827,#b32727,#ab2326,#b62828,#b92a28)"></i>
<i style="top:49px;height:1px;background:linear-gradient(90deg,#b32727,#b82a28,#b32727,#b12627,#ab2426,#b22727,#b52828,#b62828,#b72928,#b72928,#b62928,#b32727,#b32727,#b52828,#ac2427)"></i>
<i style="top:50px;height:2px;background:linear-gradient(90deg,#b22727,#a92326,#bb2b28,#b32727,#b72928,#b42827,#b62928,#b62928,#b62928,#b92a28,#ad2427,#b72928,#b52827,#b22727,#af2627)"></i>
<i style="top:52px;height:1px;background:linear-gradient(90deg,#b82a28,#b12627,#b22727,#b22727,#af2527,#c02e29,#b22727,#bc2c28,#b82a28,#b42827,#b02627,#b92a28,#b82a28,#b02627,#bb2b28)"></i>
<i style="top:53px;height:2px;background:linear-gradient(90deg,#b32727,#ba2b28,#b22727,#ac2427,#b12627,#b32727,#b02627,#bd2c28,#b32727,#b42827,#b12627,#b62928,#b42827,#b32727,#b42827)"></i>
<i style="top:55px;height:1px;background:linear-gradient(90deg,#b72928,#b02627,#b32727,#b72928,#b42827,#af2527,#bc2b28,#bd2c29,#b52828,#b42827,#b52828,#b52827,#ba2b28,#b02627,#b92a28)"></i>
<i style="top:56px;height:2px;background:linear-gradient(90deg,#f9a95e,#f8a259,#fbc275,#fbc275,#f89f57,#f69653,#b22727,#af2527,#b92a28,#b62928,#b62828,#af2527,#ac2426,#af2527,#b02627)"></i>
<i style="top:58px;height:1px;background:linear-gradient(90deg,#c22e29,#b72928,#b32727,#b62828,#af2627,#c53029,#b22727,#b62928,#ba2a28,#b42827,#ba2b28,#b32727,#bc2b28,#b72928,#b72928)"></i>
<i style="top:59px;height:2px;background:linear-gradient(90deg,#ad2427,#bc2b28,#b72928,#b22727,#be2c29,#b62928,#bb2b28,#b32727,#b72928,#b72928,#bf2d29,#af2527,#b82a28,#b52828,#b12627)"></i>
<i style="top:61px;height:1px;background:linear-gradient(90deg,#b62928,#b52828,#b22727,#a82226,#b32727,#b42827,#b32727,#ba2b28,#b92a28,#b12627,#b82a28,#ae2527,#b62828,#b82a28,#b42827)"></i>
<i style="top:62px;height:2px;background:linear-gradient(90deg,#ad2427,#b22727,#b82a28,#b92a28,#ef6f41,#ef6d40,#ef6c40,#f07544,#ea613b,#ed663d,#b52828,#b32727,#b32727,#b52827,#b12627)"></i>
<i style="top:64px;height:1px;background:linear-gradient(90deg,#bb2b28,#b12627,#b82928,#b82a28,#af2527,#b22727,#ae2527,#b82a28,#b62928,#b32727,#b32727,#ab2426,#b42827,#b12627,#b82a28)"></i>
<i style="top:65px;height:2px;background:linear-gradient(90deg,#bb2b28,#b52828,#b32727,#b42827,#b42827,#b22727,#b82a28,#b12627,#b02627,#bc2c28,#b22727,#b52828,#b72928,#b72928,#b82a28)"></i>
<i style="top:67px;height:1px;background:linear-gradient(90deg,#b52828,#b32727,#ae2527,#bd2c28,#ad2427,#b82a28,#af2527,#ab2326,#b02627,#b32727,#b72928,#ad2427,#b72928,#af2527,#b02627)"></i>
<i style="top:68px;height:2px;background:linear-gradient(90deg,#b02627,#b72928,#af2527,#b42727,#af2527,#b22727,#b22727,#ad2427,#b32727,#ae2527,#bc2c28,#b72928,#b32727,#ba2b28,#ab2426)"></i>
<i style="top:70px;height:1px;background:linear-gradient(90deg,#b22727,#b42827,#ba2a28,#b32727,#ba2a28,#b12727,#be2d29,#b12627,#bb2b28,#b02627,#b52828,#ae2527,#ab2326,#b22727,#bb2b28)"></i>
</div>
<div class="hm" style="left:620px;top:255px;width:44px;height:71px">
<i style="top:0px;height:2px;background:linear-gradient(90deg,#dcf1f4,#dcf1f4,#dcf1f4,#dcf1f4,#dcf1f4,#5c8dc2,#5c8dc2,#5c8dc2,#fbbb6e,#fbbd70,#fcd385,#fab66a,#f9aa5f,#fbbc6f,#fbc376)"></i>
<i style="top:2px;height:1px;background:linear-gradient(90deg,#fde39a,#fde39a,#fde39a,#fde39a,#fde39a,#fde39a,#fde39a,#fde39a,#fde39a,#fde39a,#fde39a,#fde39a,#fde39a,#fde39a,#fde39a)"></i>
<i style="top:3px;height:2px;background:linear-gradient(90deg,#fbbc6f,#fdd889,#f9a55a,#f89e57,#f89d56,#f69352,#f07544,#f07243,#f69352,#f07443,#ef6c40,#f4894d,#fab96d,#fab66a,#f28049)"></i>
<i style="top:5px;height:1px;background:linear-gradient(90deg,#fab569,#fbc174,#fbbc6f,#f69553,#ee693f,#f3814a,#f58c4f,#ef6c40,#ed663d,#f27d48,#ef6c40,#f27c47,#f58e4f,#ea613b,#ee6a3f)"></i>
<i style="top:6px;height:2px;background:linear-gradient(90deg,#fde195,#f79954,#f69653,#f9aa5f,#f07042,#f27c47,#f69352,#f89f57,#f69553,#f69754,#dc4732,#dc4832,#e75b39,#e55838,#e95f3a)"></i>
<i style="top:8px;height:1px;background:linear-gradient(90deg,#f9a55a,#fde296,#f07544,#fab76b,#f9a65b,#d0352b,#de4c33,#dc4832,#f3814a,#f28149,#f4884d,#f58c4f,#faba6d,#f3864c,#ef6e41)"></i>
<i style="top:9px;height:1px;background:linear-gradient(90deg,#f79c56,#f89f57,#faad62,#f79a55,#faac61,#f07142,#f27f49,#f27e48,#f28149,#f17745,#f69251,#da4430,#d94330,#d73f2e,#fbc679)"></i>
<i style="top:10px;height:2px;background:linear-gradient(90deg,#bb2b28,#b72928,#b62928,#b82a28,#b52828,#be2d29,#bc2c28,#b42827,#c02d29,#b62928,#af2627,#bd2c28,#bc2c28,#b92a28,#ba2b28)"></i>
<i style="top:12px;height:1px;background:linear-gradient(90deg,#c22f29,#b92a28,#be2d29,#c22e29,#c43029,#bd2c28,#c02e29,#bb2b28,#fab76b,#fbbd71,#f79954,#faba6e,#faae62,#fbc073,#faba6d)"></i>
<i style="top:13px;height:2px;background:linear-gradient(90deg,#c02d29,#bc2b28,#c42f29,#c32f29,#dc4932,#e45537,#e45537,#df4d34,#bc2b28,#b92a28,#bb2b28,#bb2b28,#bb2b28,#bb2b28,#bc2b28)"></i>
<i style="top:15px;height:1px;background:linear-gradient(90deg,#c22f29,#b52828,#be2c29,#c12e29,#b12627,#bb2b28,#f17b47,#ed663d,#ee6a3f,#e95e3a,#e85d3a,#f07544,#c22e29,#be2c29,#bb2b28)"></i>
<i style="top:16px;height:2px;background:linear-gradient(90deg,#c12e29,#c42f29,#c22e29,#b42827,#b92a28,#be2d29,#d2362b,#df4d34,#d2362b,#e65a39,#e95f3b,#e55838,#c12e29,#be2d29,#bc2c28)"></i>
<i style="top:18px;height:1px;background:linear-gradient(90deg,#bd2c28,#c42f29,#b62928,#b72928,#c22e29,#b82a28,#bd2c29,#b42827,#b02627,#bb2b28,#bc2c28,#ca322a,#d53a2d,#cf342b,#d4392c)"></i>
<i style="top:19px;height:2px;background:linear-gradient(90deg,#bf2d29,#bf2d29,#c12e29,#b82a28,#ba2b28,#b82a28,#be2d29,#ba2b28,#b92a28,#bd2c28,#ea613b,#eb633c,#e95f3a,#e65a39,#e25236)"></i>
<i style="top:21px;height:1px;background:linear-gradient(90deg,#c32f29,#c12e29,#b42827,#c22e29,#bf2d29,#c12e29,#b62928,#bc2b28,#c12e29,#bc2b28,#bc2c28,#b92a28,#ba2b28,#bb2b28,#c8312a)"></i>
<i style="top:22px;height:2px;background:linear-gradient(90deg,#ba2b28,#bd2c29,#bc2c28,#b82a28,#b22727,#c53029,#ba2b28,#b72928,#bc2c28,#b62928,#ba2a28,#f07343,#e35436,#da4430,#bf2d29)"></i>
<i style="top:24px;height:1px;background:linear-gradient(90deg,#b92a28,#b72928,#ba2a28,#bd2c29,#b72928,#bf2d29,#b62928,#bc2c28,#bf2d29,#ba2b28,#bf2d29,#c02d29,#ba2b28,#e25336,#e55738)"></i>
<i style="top:25px;height:2px;background:linear-gradient(90deg,#b72928,#b72928,#c02e29,#b62928,#c12e29,#c12e29,#bd2c28,#bb2b28,#be2c29,#b92a28,#b82928,#bc2c28,#bd2c28,#bb2b28,#b82a28)"></i>
<i style="top:27px;height:1px;background:linear-gradient(90deg,#b62928,#b82a28,#b72928,#bd2c28,#b32727,#c22e29,#d3372b,#d53a2d,#d53b2d,#d0352b,#cd342a,#d63d2e,#bb2b28,#bd2c28,#bb2b28)"></i>
<i style="top:28px;height:2px;background:linear-gradient(90deg,#b32727,#b52828,#b92a28,#b32727,#ba2a28,#c12e29,#b92a28,#b02627,#bb2b28,#bc2b28,#c12e29,#bd2c28,#bd2c28,#b92a28,#bc2c28)"></i>
<i style="top:30px;height:1px;background:linear-gradient(90deg,#b42827,#c22e29,#c02e29,#bd2c28,#bd2c28,#b62928,#be2d29,#bf2d29,#bd2c28,#bc2c28,#bd2c29,#f3844b,#f48a4d,#f89d56,#f58d4f)"></i>
<i style="top:31px;height:2px;background:linear-gradient(90deg,#b72928,#ba2b28,#bd2c29,#b62928,#b62928,#d8412f,#cb322a,#c53029,#d53b2d,#b22727,#b82928,#b92a28,#bf2d29,#bc2b28,#c32f29)"></i>
<i style="top:33px;height:1px;background:linear-gradient(90deg,#bd2c28,#b42827,#ba2b28,#b92a28,#ba2b28,#b92a28,#d2372b,#cd342a,#d63d2e,#d3382c,#d2362b,#b72928,#b92a28,#af2527,#c02e29)"></i>
<i style="top:34px;height:1px;background:linear-gradient(90deg,#bb2b28,#ba2a28,#b22727,#a92326,#b82a28,#bd2c28,#be2c29,#b62928,#ba2b28,#ba2b28,#ba2b28,#bc2c28,#b82928,#bb2b28,#b72928)"></i>
<i style="top:35px;height:2px;background:linear-gradient(90deg,#c32f29,#b32727,#bd2c29,#b72928,#d2362b,#cb332a,#d53b2d,#c6302a,#d7402f,#ec653d,#f28049,#e85e3a,#bd2c29,#c32f29,#bd2c29)"></i>
<i style="top:37px;height:1px;background:linear-gradient(90deg,#b82a28,#b82a28,#be2d29,#c42f29,#b52828,#b92a28,#bf2d29,#c8312a,#b02627,#b92a28,#fbbb6f,#fbc275,#fab266,#fbbf72,#fab165)"></i>
<i style="top:38px;height:2px;background:linear-gradient(90deg,#c53029,#b92a28,#bc2c28,#be2d29,#c32f29,#b02627,#bc2b28,#be2d29,#b82a28,#ba2a28,#bf2d29,#bb2b28,#b22727,#c12e29,#b72928)"></i>
<i style="top:40px;height:1px;background:linear-gradient(90deg,#b42827,#bb2b28,#af2627,#c32f29,#c02e29,#b62928,#b72928,#bc2c28,#bd2c29,#b52828,#b62928,#be2c29,#b72928,#b82a28,#b42827)"></i>
<i style="top:41px;height:2px;background:linear-gradient(90deg,#b82a28,#c32f29,#ba2b28,#bc2c28,#bf2d29,#b92a28,#b82928,#bf2d29,#e55738,#e55838,#e15135,#b42827,#b92a28,#b82928,#bd2c28)"></i>
<i style="top:43px;height:1px;background:linear-gradient(90deg,#be2d29,#bb2b28,#b62928,#c7312a,#bc2b28,#ba2a28,#b72928,#be2c29,#be2c29,#be2d29,#c6302a,#ba2b28,#ba2a28,#c42f29,#c02d29)"></i>
<i style="top:44px;height:2px;background:linear-gradient(90deg,#c02d29,#ae2527,#b22727,#b12627,#b62828,#bb2b28,#c22e29,#bb2b28,#bd2c28,#bc2c28,#bb2b28,#b82a28,#be2d29,#be2c29,#c43029)"></i>
<i style="top:46px;height:1px;background:linear-gradient(90deg,#b22727,#b72928,#c22e29,#be2c29,#bf2d29,#b52828,#b72928,#ba2b28,#bc2c28,#be2c29,#b82a28,#be2d29,#bb2b28,#b82a28,#c12e29)"></i>
<i style="top:47px;height:2px;background:linear-gradient(90deg,#c12e29,#bb2b28,#ba2a28,#b72928,#bf2d29,#b72928,#ba2b28,#c12e29,#b82a28,#b82928,#c12e29,#b62928,#bf2d29,#b82a28,#b92a28)"></i>
<i style="top:49px;height:1px;background:linear-gradient(90deg,#c02d29,#b92a28,#b92a28,#bb2b28,#b62928,#bb2b28,#b52828,#b62928,#bc2c28,#bc2c28,#be2c29,#b92a28,#b72928,#b42827,#bb2b28)"></i>
<i style="top:50px;height:2px;background:linear-gradient(90deg,#ba2b28,#bb2b28,#bb2b28,#c12e29,#b62928,#b92a28,#b32727,#b82a28,#b92a28,#bb2b28,#bc2b28,#b72928,#b52828,#bf2d29,#bb2b28)"></i>
<i style="top:52px;height:1px;background:linear-gradient(90deg,#be2d29,#ba2a28,#c02e29,#b62928,#bb2b28,#b82a28,#bd2c28,#b62928,#bb2b28,#b92a28,#b92a28,#c12e29,#ba2b28,#c12e29,#be2c29)"></i>
<i style="top:53px;height:2px;background:linear-gradient(90deg,#bd2c29,#c02d29,#ba2b28,#b92a28,#c02d29,#b82a28,#b82928,#be2d29,#ba2b28,#b22727,#b62828,#ba2b28,#bf2d29,#b12627,#ba2b28)"></i>
<i style="top:55px;height:1px;background:linear-gradient(90deg,#ba2b28,#b92a28,#bd2c29,#b92a28,#c12e29,#bb2b28,#bc2c28,#bb2b28,#c02d29,#c8312a,#b92a28,#c53029,#be2d29,#ba2a28,#be2c29)"></i>
<i style="top:56px;height:2px;background:linear-gradient(90deg,#bd2c29,#b72928,#c32f29,#bc2b28,#bb2b28,#b62928,#c12e29,#c22e29,#b12627,#c6302a,#b42827,#b72928,#b72928,#c12e29,#bd2c29)"></i>
<i style="top:58px;height:1px;background:linear-gradient(90deg,#b42827,#bc2c28,#bd2c28,#ab2326,#ba2a28,#b42827,#c8312a,#b82928,#c8312a,#bb2b28,#bb2b28,#bb2b28,#ba2b28,#bd2c29,#c42f29)"></i>
<i style="top:59px;height:2px;background:linear-gradient(90deg,#bb2b28,#ba2b28,#b82928,#b82a28,#bf2d29,#b72928,#c22f29,#be2d29,#c42f29,#b62928,#bc2c28,#b52828,#c53029,#bb2b28,#c02d29)"></i>
<i style="top:61px;height:1px;background:linear-gradient(90deg,#c22f29,#bc2b28,#bd2c28,#b72928,#b22727,#be2d29,#bf2d29,#bc2c28,#bb2b28,#b72928,#bb2b28,#c12e29,#ba2b28,#be2c29,#c9322a)"></i>
<i style="top:62px;height:1px;background:linear-gradient(90deg,#c02d29,#bf2d29,#bf2d29,#af2627,#b82a28,#b92a28,#bd2c28,#bd2c28,#b92a28,#bb2b28,#be2d29,#c42f29,#b12627,#b62928,#c02d29)"></i>
<i style="top:63px;height:2px;background:linear-gradient(90deg,#bc2c28,#b72928,#bb2b28,#b82a28,#bd2c28,#bd2c29,#c12e29,#c7312a,#bb2b28,#c22e29,#c53029,#bc2b28,#bb2b28,#b32727,#bc2c28)"></i>
<i style="top:65px;height:1px;background:linear-gradient(90deg,#bb2b28,#bc2b28,#bb2b28,#b82a28,#c12e29,#b22727,#bc2c28,#c53029,#bf2d29,#c7312a,#bc2c28,#bb2b28,#ba2b28,#bd2c29,#bc2b28)"></i>
<i style="top:66px;height:2px;background:linear-gradient(90deg,#bc2c28,#c12e29,#b72928,#bb2b28,#c22e29,#ba2b28,#b12627,#ba2b28,#b32727,#b42827,#bd2c29,#b72928,#c02d29,#b62928,#bf2d29)"></i>
<i style="top:68px;height:1px;background:linear-gradient(90deg,#bc2b28,#b82a28,#b32727,#b92a28,#b02627,#ba2b28,#c6302a,#c22e29,#b52828,#bc2b28,#c22e29,#c12e29,#b32727,#bb2b28,#bc2c28)"></i>
<i style="top:69px;height:2px;background:linear-gradient(90deg,#b82a28,#bb2b28,#c22e29,#c22e29,#ba2a28,#ba2a28,#b72928,#ba2b28,#b32727,#bd2c29,#bc2b28,#ba2b28,#c6302a,#bc2b28,#c12e29)"></i>
</div>
<svg width="685" height="858" viewBox="0 0 685 858">
<text x="1.0" y="11.5" font-size="13.8" font-weight="bold" stroke="#111">A</text>
<text x="191.2" y="10.9" font-size="13.5" font-weight="bold" stroke="#111">B</text>
<text x="0.9" y="199.4" font-size="14" font-weight="bold" stroke="#111">D</text>
<text x="191.0" y="199.4" font-size="14" font-weight="bold" stroke="#111">E</text>
<text x="0.8" y="372.7" font-size="14.5" font-weight="bold" stroke="#111">F</text>
<text x="286.5" y="372.7" font-size="14" font-weight="bold" stroke="#111">G</text>
<text x="1.1" y="571.7" font-size="14.5" font-weight="bold" stroke="#111">H</text>
<line x1="44.3" y1="32.5" x2="44.3" y2="141.6" stroke="#111" stroke-width="1.5"/>
<line x1="43.6" y1="140.9" x2="151.0" y2="140.9" stroke="#111" stroke-width="1.5"/>
<line x1="40.3" y1="33.3" x2="44.3" y2="33.3" stroke="#111" stroke-width="1.4"/>
<text x="39.5" y="37.5" font-size="11.5" text-anchor="end" stroke="#111">2.0</text>
<line x1="40.3" y1="60.2" x2="44.3" y2="60.2" stroke="#111" stroke-width="1.4"/>
<text x="39.5" y="64.4" font-size="11.5" text-anchor="end" stroke="#111">1.5</text>
<line x1="40.3" y1="87.1" x2="44.3" y2="87.1" stroke="#111" stroke-width="1.4"/>
<text x="39.5" y="91.3" font-size="11.5" text-anchor="end" stroke="#111">1.0</text>
<line x1="40.3" y1="114.0" x2="44.3" y2="114.0" stroke="#111" stroke-width="1.4"/>
<text x="39.5" y="118.2" font-size="11.5" text-anchor="end" stroke="#111">0.5</text>
<line x1="40.3" y1="140.9" x2="44.3" y2="140.9" stroke="#111" stroke-width="1.4"/>
<text x="39.5" y="145.1" font-size="11.5" text-anchor="end" stroke="#111">0.0</text>
<text transform="translate(19.5,88.0) rotate(-90)" font-size="11.8" text-anchor="middle" stroke="#111">Relative mRNA levels</text>
<rect x="50.50" y="87.10" width="8.40" height="53.80" fill="#3B54A5"/>
<line x1="54.7" y1="81.7" x2="54.7" y2="87.1" stroke="#3B54A5" stroke-width="1.2"/>
<line x1="52.1" y1="81.7" x2="57.3" y2="81.7" stroke="#3B54A5" stroke-width="1.2"/>
<rect x="59.85" y="127.07" width="8.40" height="13.83" fill="#E23A2D"/>
<line x1="64.0" y1="124.8" x2="64.0" y2="127.1" stroke="#E23A2D" stroke-width="1.2"/>
<line x1="61.4" y1="124.8" x2="66.6" y2="124.8" stroke="#E23A2D" stroke-width="1.2"/>
<rect x="69.20" y="119.38" width="8.40" height="21.52" fill="#EF9B3C"/>
<line x1="73.4" y1="117.2" x2="73.4" y2="119.4" stroke="#EF9B3C" stroke-width="1.2"/>
<line x1="70.8" y1="117.2" x2="76.0" y2="117.2" stroke="#EF9B3C" stroke-width="1.2"/>
<rect x="84.70" y="87.10" width="8.40" height="53.80" fill="#3B54A5"/>
<line x1="88.9" y1="80.6" x2="88.9" y2="87.1" stroke="#3B54A5" stroke-width="1.2"/>
<line x1="86.3" y1="80.6" x2="91.5" y2="80.6" stroke="#3B54A5" stroke-width="1.2"/>
<rect x="94.05" y="46.48" width="8.40" height="94.42" fill="#E23A2D"/>
<line x1="98.2" y1="44.6" x2="98.2" y2="46.5" stroke="#E23A2D" stroke-width="1.2"/>
<line x1="95.7" y1="44.6" x2="100.8" y2="44.6" stroke="#E23A2D" stroke-width="1.2"/>
<rect x="103.40" y="69.35" width="8.40" height="71.55" fill="#EF9B3C"/>
<line x1="107.6" y1="68.0" x2="107.6" y2="69.3" stroke="#EF9B3C" stroke-width="1.2"/>
<line x1="105.0" y1="68.0" x2="110.2" y2="68.0" stroke="#EF9B3C" stroke-width="1.2"/>
<rect x="118.80" y="87.10" width="8.40" height="53.80" fill="#3B54A5"/>
<line x1="123.0" y1="84.4" x2="123.0" y2="87.1" stroke="#3B54A5" stroke-width="1.2"/>
<line x1="120.4" y1="84.4" x2="125.6" y2="84.4" stroke="#3B54A5" stroke-width="1.2"/>
<rect x="128.15" y="129.06" width="8.40" height="11.84" fill="#E23A2D"/>
<line x1="132.3" y1="125.8" x2="132.3" y2="129.1" stroke="#E23A2D" stroke-width="1.2"/>
<line x1="129.8" y1="125.8" x2="134.9" y2="125.8" stroke="#E23A2D" stroke-width="1.2"/>
<rect x="137.50" y="120.46" width="8.40" height="20.44" fill="#EF9B3C"/>
<line x1="141.7" y1="115.6" x2="141.7" y2="120.5" stroke="#EF9B3C" stroke-width="1.2"/>
<line x1="139.1" y1="115.6" x2="144.3" y2="115.6" stroke="#EF9B3C" stroke-width="1.2"/>
<text x="64.1" y="123.3" font-size="10.5" text-anchor="middle" fill="#222" stroke="#222">**</text>
<text x="73.7" y="116.3" font-size="10.5" text-anchor="middle" fill="#222" stroke="#222">**</text>
<text x="98.3" y="43.2" font-size="10.5" text-anchor="middle" fill="#222" stroke="#222">**</text>
<text x="107.6" y="67.4" font-size="10.5" text-anchor="middle" fill="#222" stroke="#222">*</text>
<text x="132.3" y="124.3" font-size="10.5" text-anchor="middle" fill="#222" stroke="#222">**</text>
<text x="141.7" y="114.2" font-size="10.5" text-anchor="middle" fill="#222" stroke="#222">**</text>
<rect x="121.30" y="32.60" width="5.00" height="3.80" fill="#3B54A5"/>
<text x="129.6" y="37.8" font-size="12.3" stroke="#111">shLacZ</text>
<rect x="121.30" y="45.40" width="5.00" height="3.80" fill="#E23A2D"/>
<text x="129.6" y="50.6" font-size="12.3" stroke="#111">shRRN3,#1</text>
<rect x="121.30" y="58.20" width="5.00" height="3.80" fill="#EF9B3C"/>
<text x="129.6" y="63.4" font-size="12.3" stroke="#111">shRRN3,#2</text>
<text transform="translate(72.0,150.8) rotate(-45)" font-size="12" text-anchor="end" stroke="#111">RRN3</text>
<text transform="translate(106.0,150.8) rotate(-45)" font-size="12" text-anchor="end" stroke="#111">COMMD3</text>
<text transform="translate(134.5,149.6) rotate(-45)" font-size="12" text-anchor="end" stroke="#111">COMMD3</text>
<text transform="translate(147.4,148.5) rotate(-45)" font-size="12" text-anchor="end" stroke="#111">-BMI1</text>
<text transform="translate(218.8,41.0) rotate(-45)" font-size="11.5" stroke="#111">shLacZ</text>
<text x="245.3" y="23.2" font-size="11" stroke="#111">shRRN3</text>
<line x1="237.0" y1="28.8" x2="282.0" y2="28.8" stroke="#111" stroke-width="1.8"/>
<text x="239.5" y="40.1" font-size="11" stroke="#111">#1</text>
<text x="266.2" y="40.1" font-size="11" stroke="#111">#2</text>
<defs><filter id="bl" x="-30%" y="-100%" width="160%" height="300%"><feGaussianBlur stdDeviation="1.3 0.8"/></filter><linearGradient id="b2g" x1="0" y1="0" x2="1" y2="0"><stop offset="0" stop-color="#a2a2a2"/><stop offset="0.5" stop-color="#b0b0b0"/><stop offset="1" stop-color="#a6a6a6"/></linearGradient></defs>
<defs><linearGradient id="b1g" x1="0" y1="0" x2="1" y2="1"><stop offset="0" stop-color="#e6e6e6"/><stop offset="1" stop-color="#f0f0f0"/></linearGradient><radialGradient id="b2r" cx="0.75" cy="0.2" r="0.6"><stop offset="0" stop-color="#b8b8b8"/><stop offset="1" stop-color="#a4a4a4"/></radialGradient></defs>
<rect x="206.5" y="43.6" width="77.8" height="21.4" fill="url(#b1g)" stroke="#1a1a1a" stroke-width="1.5"/>
<rect x="211.7" y="52.9" width="17.5" height="3.8" rx="1.9" fill="#000" opacity="1.0" filter="url(#bl)"/>
<rect x="238.9" y="53.9" width="16.5" height="2.0" rx="1.0" fill="#000" opacity="0.25" filter="url(#bl)"/>
<rect x="264.1" y="53.6" width="16.5" height="2.2" rx="1.1" fill="#000" opacity="0.36" filter="url(#bl)"/>
<rect x="206.5" y="67.8" width="77.8" height="21.4" fill="url(#b2r)" stroke="#1a1a1a" stroke-width="1.5"/>
<rect x="211.0" y="77.1" width="13.0" height="2.8" rx="1.4" fill="#000" opacity="0.8" filter="url(#bl)"/>
<rect x="235.8" y="77.0" width="16.0" height="3.9" rx="1.9" fill="#000" opacity="1.0" filter="url(#bl)"/>
<rect x="262.8" y="78.0" width="14.6" height="3.7" rx="1.9" fill="#000" opacity="0.95" filter="url(#bl)"/>
<rect x="206.5" y="92.2" width="77.8" height="21.6" fill="#efefef" stroke="#1a1a1a" stroke-width="1.5"/>
<rect x="212.4" y="101.1" width="16.0" height="4.3" rx="2.1" fill="#000" opacity="1.0" filter="url(#bl)"/>
<rect x="237.2" y="101.5" width="16.8" height="3.6" rx="1.8" fill="#000" opacity="0.65" filter="url(#bl)"/>
<rect x="262.0" y="101.3" width="16.8" height="4.0" rx="2.0" fill="#000" opacity="0.88" filter="url(#bl)"/>
<rect x="206.5" y="116.3" width="77.8" height="21.8" fill="#e4e4e4" stroke="#1a1a1a" stroke-width="1.5"/>
<rect x="210.2" y="124.7" width="19.7" height="6.4" rx="3.0" fill="#000" opacity="1.0" filter="url(#bl)"/>
<rect x="235.8" y="124.7" width="19.7" height="6.4" rx="3.0" fill="#000" opacity="1.0" filter="url(#bl)"/>
<rect x="262.0" y="124.6" width="19.8" height="6.6" rx="3.0" fill="#000" opacity="1.0" filter="url(#bl)"/>
<text x="287.8" y="59.8" font-size="11.3" stroke="#111">COMMD3-BMI1</text>
<text x="287.8" y="82.0" font-size="11.3" stroke="#111">COMMD3</text>
<text x="287.8" y="107.2" font-size="11.3" stroke="#111">RRN3</text>
<text x="287.8" y="131.5" font-size="11.3" stroke="#111">&#946;-actin</text>
<text x="372.6" y="10.9" font-size="13.5" font-weight="bold" stroke="#111">C</text>
<g fill="#3F5FC6">
<circle cx="468.8" cy="99.2" r="0.85"/>
<circle cx="472.6" cy="84.7" r="0.85"/>
<circle cx="486.7" cy="64.8" r="0.85"/>
<circle cx="505.4" cy="45.3" r="0.85"/>
<circle cx="467.4" cy="104.6" r="0.85"/>
<circle cx="486.3" cy="71.9" r="0.85"/>
<circle cx="505.2" cy="48.0" r="0.85"/>
<circle cx="501.2" cy="49.6" r="0.85"/>
<circle cx="477.1" cy="91.5" r="0.85"/>
<circle cx="457.4" cy="108.9" r="0.85"/>
<circle cx="454.1" cy="107.6" r="0.85"/>
<circle cx="481.6" cy="74.9" r="0.85"/>
<circle cx="472.3" cy="89.7" r="0.85"/>
<circle cx="473.2" cy="89.7" r="0.85"/>
<circle cx="484.7" cy="70.2" r="0.85"/>
<circle cx="473.6" cy="88.7" r="0.85"/>
<circle cx="471.4" cy="88.8" r="0.85"/>
<circle cx="458.2" cy="111.3" r="0.85"/>
<circle cx="504.7" cy="39.5" r="0.85"/>
<circle cx="469.7" cy="92.2" r="0.85"/>
<circle cx="515.2" cy="30.9" r="0.85"/>
<circle cx="479.2" cy="79.3" r="0.85"/>
<circle cx="500.2" cy="48.8" r="0.85"/>
<circle cx="481.0" cy="69.5" r="0.85"/>
<circle cx="506.0" cy="41.3" r="0.85"/>
<circle cx="492.9" cy="58.5" r="0.85"/>
<circle cx="510.5" cy="38.9" r="0.85"/>
<circle cx="492.5" cy="58.1" r="0.85"/>
<circle cx="459.2" cy="109.3" r="0.85"/>
<circle cx="487.9" cy="75.3" r="0.85"/>
<circle cx="467.1" cy="92.2" r="0.85"/>
<circle cx="497.9" cy="52.4" r="0.85"/>
<circle cx="480.4" cy="74.8" r="0.85"/>
<circle cx="504.9" cy="46.0" r="0.85"/>
<circle cx="489.0" cy="63.4" r="0.85"/>
<circle cx="459.9" cy="110.8" r="0.85"/>
<circle cx="458.4" cy="107.0" r="0.85"/>
<circle cx="489.6" cy="55.6" r="0.85"/>
<circle cx="484.5" cy="75.4" r="0.85"/>
<circle cx="516.0" cy="32.5" r="0.85"/>
<circle cx="500.2" cy="43.6" r="0.85"/>
<circle cx="472.8" cy="88.0" r="0.85"/>
<circle cx="492.5" cy="66.7" r="0.85"/>
<circle cx="486.5" cy="68.9" r="0.85"/>
<circle cx="471.7" cy="82.2" r="0.85"/>
<circle cx="454.6" cy="112.7" r="0.85"/>
<circle cx="506.0" cy="46.2" r="0.85"/>
<circle cx="498.8" cy="45.8" r="0.85"/>
<circle cx="503.4" cy="41.6" r="0.85"/>
<circle cx="485.1" cy="71.9" r="0.85"/>
<circle cx="462.6" cy="107.6" r="0.85"/>
<circle cx="469.8" cy="90.4" r="0.85"/>
<circle cx="488.0" cy="64.6" r="0.85"/>
<circle cx="480.8" cy="78.7" r="0.85"/>
<circle cx="489.8" cy="62.0" r="0.85"/>
<circle cx="485.4" cy="68.3" r="0.85"/>
<circle cx="458.6" cy="110.2" r="0.85"/>
<circle cx="495.2" cy="60.5" r="0.85"/>
<circle cx="509.2" cy="40.3" r="0.85"/>
<circle cx="503.0" cy="40.6" r="0.85"/>
<circle cx="476.6" cy="87.5" r="0.85"/>
<circle cx="461.0" cy="101.8" r="0.85"/>
<circle cx="460.3" cy="113.9" r="0.85"/>
<circle cx="475.0" cy="87.2" r="0.85"/>
<circle cx="464.1" cy="99.7" r="0.85"/>
<circle cx="460.9" cy="104.1" r="0.85"/>
<circle cx="467.7" cy="94.7" r="0.85"/>
<circle cx="476.0" cy="84.8" r="0.85"/>
<circle cx="499.2" cy="49.2" r="0.85"/>
<circle cx="488.5" cy="68.6" r="0.85"/>
<circle cx="456.6" cy="109.7" r="0.85"/>
<circle cx="472.0" cy="93.5" r="0.85"/>
<circle cx="466.9" cy="101.8" r="0.85"/>
<circle cx="470.9" cy="89.8" r="0.85"/>
<circle cx="495.3" cy="58.2" r="0.85"/>
<circle cx="457.1" cy="111.4" r="0.85"/>
<circle cx="467.7" cy="96.6" r="0.85"/>
<circle cx="499.3" cy="50.0" r="0.85"/>
<circle cx="497.8" cy="51.8" r="0.85"/>
<circle cx="513.5" cy="31.4" r="0.85"/>
<circle cx="503.8" cy="43.2" r="0.85"/>
<circle cx="497.3" cy="54.8" r="0.85"/>
<circle cx="482.1" cy="73.6" r="0.85"/>
<circle cx="495.8" cy="55.7" r="0.85"/>
<circle cx="459.8" cy="105.2" r="0.85"/>
<circle cx="513.4" cy="41.7" r="0.85"/>
<circle cx="479.3" cy="82.7" r="0.85"/>
<circle cx="510.9" cy="33.3" r="0.85"/>
<circle cx="501.2" cy="47.1" r="0.85"/>
<circle cx="457.0" cy="113.6" r="0.85"/>
<circle cx="512.3" cy="40.6" r="0.85"/>
<circle cx="514.0" cy="33.1" r="0.85"/>
<circle cx="495.0" cy="62.0" r="0.85"/>
<circle cx="516.9" cy="34.0" r="0.85"/>
<circle cx="498.6" cy="49.6" r="0.85"/>
<circle cx="480.6" cy="78.5" r="0.85"/>
<circle cx="471.1" cy="90.4" r="0.85"/>
<circle cx="469.5" cy="90.9" r="0.85"/>
<circle cx="464.1" cy="100.5" r="0.85"/>
<circle cx="488.1" cy="65.3" r="0.85"/>
<circle cx="482.1" cy="82.3" r="0.85"/>
<circle cx="454.6" cy="109.6" r="0.85"/>
<circle cx="469.1" cy="89.7" r="0.85"/>
<circle cx="509.0" cy="48.4" r="0.85"/>
<circle cx="480.9" cy="79.7" r="0.85"/>
<circle cx="509.7" cy="43.1" r="0.85"/>
<circle cx="509.7" cy="33.2" r="0.85"/>
<circle cx="502.5" cy="54.2" r="0.85"/>
<circle cx="489.9" cy="68.3" r="0.85"/>
<circle cx="501.3" cy="49.2" r="0.85"/>
<circle cx="465.2" cy="104.6" r="0.85"/>
<circle cx="475.9" cy="92.8" r="0.85"/>
<circle cx="500.3" cy="44.9" r="0.85"/>
<circle cx="479.9" cy="75.4" r="0.85"/>
<circle cx="479.4" cy="78.5" r="0.85"/>
<circle cx="498.6" cy="60.7" r="0.85"/>
<circle cx="513.5" cy="33.6" r="0.85"/>
<circle cx="491.6" cy="61.8" r="0.85"/>
<circle cx="465.5" cy="101.5" r="0.85"/>
<circle cx="508.7" cy="39.3" r="0.85"/>
<circle cx="505.4" cy="45.3" r="0.85"/>
<circle cx="494.2" cy="56.4" r="0.85"/>
<circle cx="502.6" cy="44.0" r="0.85"/>
<circle cx="474.7" cy="90.5" r="0.85"/>
<circle cx="462.7" cy="103.3" r="0.85"/>
<circle cx="496.7" cy="63.9" r="0.85"/>
<circle cx="510.0" cy="34.1" r="0.85"/>
<circle cx="504.9" cy="45.1" r="0.85"/>
<circle cx="509.2" cy="43.8" r="0.85"/>
<circle cx="464.1" cy="102.6" r="0.85"/>
<circle cx="466.0" cy="100.2" r="0.85"/>
<circle cx="473.8" cy="87.7" r="0.85"/>
<circle cx="513.6" cy="30.3" r="0.85"/>
<circle cx="469.8" cy="95.0" r="0.85"/>
<circle cx="474.2" cy="87.7" r="0.85"/>
<circle cx="509.8" cy="35.5" r="0.85"/>
<circle cx="486.4" cy="78.7" r="0.85"/>
<circle cx="476.8" cy="82.6" r="0.85"/>
<circle cx="474.2" cy="86.1" r="0.85"/>
<circle cx="497.7" cy="54.7" r="0.85"/>
<circle cx="464.6" cy="112.2" r="0.85"/>
<circle cx="478.0" cy="83.2" r="0.85"/>
<circle cx="493.2" cy="57.7" r="0.85"/>
<circle cx="462.1" cy="106.0" r="0.85"/>
<circle cx="515.5" cy="39.2" r="0.85"/>
<circle cx="464.5" cy="99.7" r="0.85"/>
<circle cx="468.8" cy="87.5" r="0.85"/>
<circle cx="488.4" cy="60.5" r="0.85"/>
<circle cx="498.8" cy="51.4" r="0.85"/>
<circle cx="490.6" cy="62.1" r="0.85"/>
<circle cx="478.4" cy="81.9" r="0.85"/>
<circle cx="477.5" cy="84.8" r="0.85"/>
<circle cx="511.7" cy="29.4" r="0.85"/>
<circle cx="498.0" cy="55.9" r="0.85"/>
<circle cx="510.9" cy="33.2" r="0.85"/>
<circle cx="480.5" cy="80.9" r="0.85"/>
<circle cx="481.1" cy="82.7" r="0.85"/>
<circle cx="475.0" cy="80.1" r="0.85"/>
<circle cx="477.7" cy="78.0" r="0.85"/>
<circle cx="494.0" cy="58.4" r="0.85"/>
<circle cx="475.8" cy="88.3" r="0.85"/>
<circle cx="462.5" cy="104.7" r="0.85"/>
<circle cx="492.9" cy="62.7" r="0.85"/>
<circle cx="497.0" cy="56.1" r="0.85"/>
<circle cx="477.9" cy="83.7" r="0.85"/>
<circle cx="506.3" cy="38.0" r="0.85"/>
<circle cx="465.2" cy="93.7" r="0.85"/>
<circle cx="462.7" cy="104.0" r="0.85"/>
<circle cx="514.0" cy="34.5" r="0.85"/>
<circle cx="517.0" cy="33.0" r="0.85"/>
<circle cx="505.9" cy="42.1" r="0.85"/>
<circle cx="491.0" cy="65.6" r="0.85"/>
<circle cx="510.1" cy="34.8" r="0.85"/>
<circle cx="471.2" cy="99.8" r="0.85"/>
<circle cx="512.2" cy="37.2" r="0.85"/>
<circle cx="510.6" cy="36.9" r="0.85"/>
<circle cx="508.3" cy="45.7" r="0.85"/>
<circle cx="500.6" cy="46.4" r="0.85"/>
<circle cx="500.4" cy="52.5" r="0.85"/>
<circle cx="470.4" cy="96.8" r="0.85"/>
<circle cx="500.2" cy="49.5" r="0.85"/>
<circle cx="460.5" cy="104.7" r="0.85"/>
<circle cx="514.0" cy="33.1" r="0.85"/>
<circle cx="489.6" cy="61.5" r="0.85"/>
<circle cx="506.0" cy="39.1" r="0.85"/>
<circle cx="480.8" cy="79.6" r="0.85"/>
<circle cx="477.9" cy="88.1" r="0.85"/>
<circle cx="485.2" cy="73.1" r="0.85"/>
<circle cx="494.9" cy="61.8" r="0.85"/>
<circle cx="468.0" cy="98.0" r="0.85"/>
<circle cx="466.2" cy="98.7" r="0.85"/>
<circle cx="487.1" cy="76.7" r="0.85"/>
<circle cx="482.9" cy="73.4" r="0.85"/>
<circle cx="455.3" cy="112.7" r="0.85"/>
<circle cx="488.4" cy="62.1" r="0.85"/>
<circle cx="486.0" cy="71.1" r="0.85"/>
<circle cx="499.3" cy="52.0" r="0.85"/>
<circle cx="487.9" cy="65.6" r="0.85"/>
<circle cx="488.6" cy="68.0" r="0.85"/>
<circle cx="494.6" cy="62.8" r="0.85"/>
<circle cx="511.7" cy="37.3" r="0.85"/>
<circle cx="496.6" cy="54.5" r="0.85"/>
<circle cx="462.2" cy="108.9" r="0.85"/>
<circle cx="510.0" cy="39.1" r="0.85"/>
<circle cx="469.2" cy="95.7" r="0.85"/>
<circle cx="474.9" cy="78.9" r="0.85"/>
<circle cx="500.7" cy="52.4" r="0.85"/>
<circle cx="498.8" cy="50.0" r="0.85"/>
<circle cx="499.0" cy="46.4" r="0.85"/>
<circle cx="508.0" cy="35.7" r="0.85"/>
<circle cx="512.1" cy="32.0" r="0.85"/>
<circle cx="474.3" cy="86.6" r="0.85"/>
<circle cx="470.0" cy="88.0" r="0.85"/>
<circle cx="459.4" cy="106.1" r="0.85"/>
<circle cx="498.8" cy="52.2" r="0.85"/>
<circle cx="488.7" cy="63.9" r="0.85"/>
<circle cx="469.1" cy="94.9" r="0.85"/>
<circle cx="513.6" cy="30.9" r="0.85"/>
<circle cx="504.6" cy="42.6" r="0.85"/>
<circle cx="509.8" cy="35.3" r="0.85"/>
<circle cx="515.0" cy="34.2" r="0.85"/>
<circle cx="509.7" cy="42.6" r="0.85"/>
<circle cx="497.4" cy="53.6" r="0.85"/>
<circle cx="509.5" cy="33.9" r="0.85"/>
<circle cx="511.2" cy="30.3" r="0.85"/>
<circle cx="487.9" cy="73.0" r="0.85"/>
<circle cx="468.8" cy="94.6" r="0.85"/>
<circle cx="511.4" cy="36.8" r="0.85"/>
<circle cx="514.8" cy="34.0" r="0.85"/>
<circle cx="486.0" cy="74.7" r="0.85"/>
<circle cx="465.5" cy="99.3" r="0.85"/>
<circle cx="503.9" cy="48.4" r="0.85"/>
<circle cx="456.4" cy="114.5" r="0.85"/>
<circle cx="459.5" cy="112.4" r="0.85"/>
<circle cx="493.6" cy="54.6" r="0.85"/>
<circle cx="469.9" cy="89.4" r="0.85"/>
<circle cx="475.6" cy="82.9" r="0.85"/>
<circle cx="493.7" cy="59.3" r="0.85"/>
<circle cx="473.6" cy="86.0" r="0.85"/>
<circle cx="502.7" cy="41.2" r="0.85"/>
<circle cx="511.7" cy="30.4" r="0.85"/>
<circle cx="507.4" cy="39.5" r="0.85"/>
<circle cx="502.0" cy="45.0" r="0.85"/>
<circle cx="476.2" cy="83.4" r="0.85"/>
<circle cx="465.4" cy="100.9" r="0.85"/>
<circle cx="501.7" cy="47.1" r="0.85"/>
<circle cx="494.9" cy="64.8" r="0.85"/>
<circle cx="513.1" cy="31.3" r="0.85"/>
<circle cx="464.9" cy="96.1" r="0.85"/>
<circle cx="478.6" cy="81.6" r="0.85"/>
<circle cx="488.3" cy="65.0" r="0.85"/>
<circle cx="456.9" cy="115.9" r="0.85"/>
<circle cx="484.8" cy="69.7" r="0.85"/>
<circle cx="484.3" cy="74.5" r="0.85"/>
<circle cx="503.5" cy="44.5" r="0.85"/>
<circle cx="495.5" cy="53.6" r="0.85"/>
<circle cx="482.6" cy="76.0" r="0.85"/>
<circle cx="476.7" cy="84.6" r="0.85"/>
<circle cx="497.3" cy="60.4" r="0.85"/>
<circle cx="487.8" cy="63.7" r="0.85"/>
<circle cx="511.1" cy="28.5" r="0.85"/>
<circle cx="485.2" cy="74.0" r="0.85"/>
<circle cx="503.9" cy="48.9" r="0.85"/>
<circle cx="469.4" cy="94.3" r="0.85"/>
<circle cx="494.3" cy="55.8" r="0.85"/>
<circle cx="455.3" cy="113.8" r="0.85"/>
<circle cx="481.6" cy="73.9" r="0.85"/>
<circle cx="509.1" cy="40.2" r="0.85"/>
<circle cx="493.7" cy="59.4" r="0.85"/>
<circle cx="498.8" cy="44.9" r="0.85"/>
<circle cx="489.0" cy="66.7" r="0.85"/>
<circle cx="494.9" cy="53.1" r="0.85"/>
<circle cx="494.3" cy="54.8" r="0.85"/>
<circle cx="498.1" cy="57.0" r="0.85"/>
<circle cx="512.7" cy="34.8" r="0.85"/>
<circle cx="500.1" cy="43.8" r="0.85"/>
<circle cx="504.6" cy="41.9" r="0.85"/>
<circle cx="474.7" cy="84.9" r="0.85"/>
<circle cx="502.1" cy="51.6" r="0.85"/>
<circle cx="466.7" cy="95.0" r="0.85"/>
<circle cx="504.8" cy="40.1" r="0.85"/>
<circle cx="460.3" cy="108.0" r="0.85"/>
<circle cx="490.0" cy="65.3" r="0.85"/>
<circle cx="479.3" cy="76.5" r="0.85"/>
<circle cx="500.0" cy="55.8" r="0.85"/>
<circle cx="512.7" cy="33.9" r="0.85"/>
<circle cx="497.4" cy="50.2" r="0.85"/>
<circle cx="496.7" cy="59.3" r="0.85"/>
<circle cx="473.1" cy="91.4" r="0.85"/>
<circle cx="479.6" cy="87.8" r="0.85"/>
<circle cx="463.6" cy="105.1" r="0.85"/>
<circle cx="480.1" cy="75.4" r="0.85"/>
<circle cx="490.0" cy="65.2" r="0.85"/>
<circle cx="496.6" cy="53.8" r="0.85"/>
<circle cx="501.4" cy="50.5" r="0.85"/>
<circle cx="494.1" cy="56.9" r="0.85"/>
<circle cx="472.6" cy="87.9" r="0.85"/>
<circle cx="504.3" cy="44.3" r="0.85"/>
<circle cx="507.9" cy="38.8" r="0.85"/>
<circle cx="514.4" cy="33.3" r="0.85"/>
<circle cx="500.7" cy="50.8" r="0.85"/>
<circle cx="509.7" cy="36.7" r="0.85"/>
<circle cx="495.3" cy="56.3" r="0.85"/>
<circle cx="505.0" cy="47.9" r="0.85"/>
<circle cx="505.4" cy="45.6" r="0.85"/>
<circle cx="471.6" cy="96.5" r="0.85"/>
<circle cx="510.0" cy="29.2" r="0.85"/>
<circle cx="502.9" cy="50.0" r="0.85"/>
<circle cx="495.0" cy="57.9" r="0.85"/>
<circle cx="469.5" cy="99.1" r="0.85"/>
<circle cx="466.9" cy="97.3" r="0.85"/>
<circle cx="501.1" cy="46.2" r="0.85"/>
<circle cx="473.6" cy="87.4" r="0.85"/>
<circle cx="475.4" cy="80.1" r="0.85"/>
<circle cx="463.3" cy="99.7" r="0.85"/>
<circle cx="465.8" cy="102.4" r="0.85"/>
<circle cx="473.0" cy="94.4" r="0.85"/>
<circle cx="510.4" cy="38.2" r="0.85"/>
<circle cx="475.4" cy="91.9" r="0.85"/>
<circle cx="506.5" cy="43.3" r="0.85"/>
<circle cx="512.0" cy="31.6" r="0.85"/>
<circle cx="506.0" cy="40.5" r="0.85"/>
<circle cx="465.6" cy="99.4" r="0.85"/>
<circle cx="483.1" cy="73.7" r="0.85"/>
<circle cx="488.4" cy="66.0" r="0.85"/>
<circle cx="474.4" cy="89.1" r="0.85"/>
<circle cx="503.9" cy="40.8" r="0.85"/>
<circle cx="472.9" cy="90.8" r="0.85"/>
<circle cx="499.7" cy="49.2" r="0.85"/>
<circle cx="512.7" cy="37.7" r="0.85"/>
<circle cx="517.8" cy="32.6" r="0.85"/>
<circle cx="509.0" cy="40.5" r="0.85"/>
<circle cx="477.3" cy="79.6" r="0.85"/>
<circle cx="512.7" cy="36.7" r="0.85"/>
<circle cx="486.0" cy="75.7" r="0.85"/>
<circle cx="466.2" cy="94.7" r="0.85"/>
<circle cx="511.8" cy="36.6" r="0.85"/>
<circle cx="498.4" cy="53.8" r="0.85"/>
<circle cx="460.4" cy="105.9" r="0.85"/>
<circle cx="488.1" cy="69.6" r="0.85"/>
<circle cx="507.6" cy="41.4" r="0.85"/>
<circle cx="461.1" cy="105.8" r="0.85"/>
<circle cx="508.6" cy="42.0" r="0.85"/>
<circle cx="466.2" cy="99.9" r="0.85"/>
<circle cx="466.3" cy="104.3" r="0.85"/>
<circle cx="502.8" cy="48.2" r="0.85"/>
<circle cx="500.9" cy="53.1" r="0.85"/>
<circle cx="481.0" cy="73.5" r="0.85"/>
<circle cx="499.0" cy="58.0" r="0.85"/>
<circle cx="473.9" cy="87.2" r="0.85"/>
<circle cx="463.5" cy="107.6" r="0.85"/>
<circle cx="479.9" cy="77.7" r="0.85"/>
<circle cx="493.1" cy="56.7" r="0.85"/>
<circle cx="460.6" cy="105.4" r="0.85"/>
<circle cx="480.1" cy="77.3" r="0.85"/>
<circle cx="509.8" cy="38.7" r="0.85"/>
<circle cx="483.7" cy="71.2" r="0.85"/>
<circle cx="499.9" cy="46.2" r="0.85"/>
<circle cx="501.2" cy="49.6" r="0.85"/>
<circle cx="512.5" cy="30.6" r="0.85"/>
<circle cx="471.3" cy="98.4" r="0.85"/>
<circle cx="506.1" cy="39.0" r="0.85"/>
<circle cx="463.5" cy="108.9" r="0.85"/>
<circle cx="489.5" cy="69.9" r="0.85"/>
<circle cx="482.6" cy="77.0" r="0.85"/>
<circle cx="491.1" cy="63.7" r="0.85"/>
<circle cx="487.5" cy="71.5" r="0.85"/>
<circle cx="501.8" cy="51.5" r="0.85"/>
<circle cx="511.4" cy="39.6" r="0.85"/>
<circle cx="464.1" cy="102.8" r="0.85"/>
<circle cx="505.6" cy="44.2" r="0.85"/>
<circle cx="483.2" cy="75.6" r="0.85"/>
<circle cx="501.4" cy="48.5" r="0.85"/>
<circle cx="505.8" cy="44.9" r="0.85"/>
<circle cx="506.5" cy="44.1" r="0.85"/>
<circle cx="484.0" cy="71.3" r="0.85"/>
<circle cx="473.0" cy="86.3" r="0.85"/>
<circle cx="479.7" cy="78.9" r="0.85"/>
<circle cx="506.7" cy="46.7" r="0.85"/>
<circle cx="464.2" cy="100.6" r="0.85"/>
<circle cx="492.6" cy="51.0" r="0.85"/>
<circle cx="502.8" cy="50.9" r="0.85"/>
<circle cx="506.3" cy="41.0" r="0.85"/>
<circle cx="507.9" cy="35.6" r="0.85"/>
<circle cx="506.5" cy="41.5" r="0.85"/>
<circle cx="483.1" cy="77.3" r="0.85"/>
<circle cx="492.0" cy="65.5" r="0.85"/>
<circle cx="494.5" cy="61.1" r="0.85"/>
<circle cx="460.9" cy="108.8" r="0.85"/>
<circle cx="476.3" cy="79.7" r="0.85"/>
<circle cx="476.8" cy="82.0" r="0.85"/>
<circle cx="503.9" cy="48.5" r="0.85"/>
<circle cx="488.5" cy="65.4" r="0.85"/>
<circle cx="510.7" cy="35.8" r="0.85"/>
<circle cx="479.1" cy="80.1" r="0.85"/>
<circle cx="514.6" cy="31.8" r="0.85"/>
<circle cx="491.9" cy="70.3" r="0.85"/>
<circle cx="511.4" cy="30.6" r="0.85"/>
<circle cx="509.6" cy="45.3" r="0.85"/>
<circle cx="503.4" cy="42.5" r="0.85"/>
<circle cx="464.7" cy="96.3" r="0.85"/>
<circle cx="514.3" cy="30.3" r="0.85"/>
<circle cx="503.5" cy="44.4" r="0.85"/>
<circle cx="478.7" cy="75.3" r="0.85"/>
<circle cx="511.1" cy="33.1" r="0.85"/>
<circle cx="486.1" cy="68.0" r="0.85"/>
<circle cx="513.0" cy="30.6" r="0.85"/>
<circle cx="467.8" cy="96.4" r="0.85"/>
<circle cx="495.8" cy="49.5" r="0.85"/>
<circle cx="469.0" cy="91.9" r="0.85"/>
<circle cx="484.4" cy="73.2" r="0.85"/>
<circle cx="463.9" cy="101.2" r="0.85"/>
<circle cx="491.9" cy="62.6" r="0.85"/>
<circle cx="476.4" cy="86.5" r="0.85"/>
<circle cx="495.9" cy="55.6" r="0.85"/>
<circle cx="462.3" cy="104.5" r="0.85"/>
<circle cx="507.0" cy="39.8" r="0.85"/>
<circle cx="507.4" cy="38.9" r="0.85"/>
<circle cx="455.5" cy="109.3" r="0.85"/>
<circle cx="503.2" cy="52.2" r="0.85"/>
<circle cx="478.8" cy="85.3" r="0.85"/>
<circle cx="506.9" cy="38.2" r="0.85"/>
<circle cx="507.4" cy="35.7" r="0.85"/>
<circle cx="493.1" cy="63.6" r="0.85"/>
<circle cx="513.2" cy="34.4" r="0.85"/>
<circle cx="503.1" cy="41.0" r="0.85"/>
<circle cx="514.9" cy="30.1" r="0.85"/>
<circle cx="503.7" cy="48.6" r="0.85"/>
<circle cx="501.6" cy="44.6" r="0.85"/>
<circle cx="483.9" cy="73.7" r="0.85"/>
<circle cx="510.0" cy="38.6" r="0.85"/>
<circle cx="457.3" cy="106.9" r="0.85"/>
<circle cx="506.6" cy="39.5" r="0.85"/>
<circle cx="478.2" cy="82.8" r="0.85"/>
<circle cx="500.6" cy="52.4" r="0.85"/>
<circle cx="478.1" cy="82.4" r="0.85"/>
<circle cx="509.4" cy="37.7" r="0.85"/>
<circle cx="487.0" cy="59.5" r="0.85"/>
<circle cx="491.3" cy="59.2" r="0.85"/>
<circle cx="491.1" cy="62.4" r="0.85"/>
<circle cx="507.9" cy="43.8" r="0.85"/>
<circle cx="495.9" cy="55.9" r="0.85"/>
<circle cx="477.7" cy="81.4" r="0.85"/>
<circle cx="496.2" cy="61.0" r="0.85"/>
<circle cx="493.3" cy="63.1" r="0.85"/>
<circle cx="496.7" cy="55.7" r="0.85"/>
<circle cx="514.5" cy="30.2" r="0.85"/>
<circle cx="479.7" cy="75.1" r="0.85"/>
<circle cx="487.5" cy="76.5" r="0.85"/>
<circle cx="497.1" cy="52.3" r="0.85"/>
<circle cx="513.2" cy="39.1" r="0.85"/>
<circle cx="481.3" cy="74.4" r="0.85"/>
<circle cx="488.0" cy="69.3" r="0.85"/>
<circle cx="501.0" cy="46.3" r="0.85"/>
<circle cx="487.4" cy="66.9" r="0.85"/>
<circle cx="467.4" cy="101.0" r="0.85"/>
<circle cx="480.9" cy="77.7" r="0.85"/>
<circle cx="469.9" cy="94.3" r="0.85"/>
<circle cx="476.9" cy="87.1" r="0.85"/>
<circle cx="475.2" cy="82.4" r="0.85"/>
<circle cx="514.8" cy="30.1" r="0.85"/>
<circle cx="504.3" cy="49.8" r="0.85"/>
<circle cx="496.8" cy="49.7" r="0.85"/>
<circle cx="489.9" cy="68.2" r="0.85"/>
<circle cx="496.1" cy="46.6" r="0.85"/>
<circle cx="501.2" cy="50.1" r="0.85"/>
<circle cx="467.1" cy="104.7" r="0.85"/>
<circle cx="476.9" cy="91.2" r="0.85"/>
<circle cx="458.2" cy="110.4" r="0.85"/>
<circle cx="514.7" cy="34.7" r="0.85"/>
<circle cx="483.2" cy="73.8" r="0.85"/>
<circle cx="460.3" cy="100.3" r="0.85"/>
<circle cx="497.8" cy="59.2" r="0.85"/>
<circle cx="491.3" cy="63.5" r="0.85"/>
<circle cx="485.2" cy="81.7" r="0.85"/>
<circle cx="463.2" cy="100.1" r="0.85"/>
<circle cx="490.0" cy="60.4" r="0.85"/>
<circle cx="467.2" cy="100.5" r="0.85"/>
<circle cx="475.4" cy="85.3" r="0.85"/>
<circle cx="506.9" cy="45.8" r="0.85"/>
<circle cx="508.7" cy="40.2" r="0.85"/>
<circle cx="460.9" cy="101.1" r="0.85"/>
<circle cx="482.5" cy="74.5" r="0.85"/>
<circle cx="488.6" cy="64.6" r="0.85"/>
<circle cx="513.0" cy="38.4" r="0.85"/>
<circle cx="467.3" cy="102.6" r="0.85"/>
<circle cx="484.0" cy="76.0" r="0.85"/>
<circle cx="489.9" cy="64.1" r="0.85"/>
<circle cx="489.0" cy="75.8" r="0.85"/>
<circle cx="473.6" cy="81.0" r="0.85"/>
<circle cx="490.8" cy="68.0" r="0.85"/>
<circle cx="471.1" cy="89.2" r="0.85"/>
<circle cx="502.1" cy="46.0" r="0.85"/>
<circle cx="458.1" cy="114.4" r="0.85"/>
<circle cx="512.2" cy="29.2" r="0.85"/>
<circle cx="510.1" cy="29.7" r="0.85"/>
<circle cx="474.0" cy="84.1" r="0.85"/>
<circle cx="502.7" cy="46.4" r="0.85"/>
<circle cx="507.5" cy="41.0" r="0.85"/>
<circle cx="501.9" cy="51.7" r="0.85"/>
<circle cx="485.3" cy="73.8" r="0.85"/>
<circle cx="493.6" cy="62.1" r="0.85"/>
<circle cx="496.9" cy="60.1" r="0.85"/>
<circle cx="494.8" cy="57.5" r="0.85"/>
<circle cx="466.8" cy="95.6" r="0.85"/>
<circle cx="500.6" cy="52.0" r="0.85"/>
<circle cx="476.2" cy="85.7" r="0.85"/>
<circle cx="489.5" cy="69.7" r="0.85"/>
<circle cx="479.3" cy="78.6" r="0.85"/>
<circle cx="508.5" cy="37.8" r="0.85"/>
<circle cx="499.2" cy="51.1" r="0.85"/>
<circle cx="479.3" cy="80.2" r="0.85"/>
<circle cx="497.6" cy="50.4" r="0.85"/>
<circle cx="507.1" cy="35.6" r="0.85"/>
<circle cx="477.2" cy="80.1" r="0.85"/>
<circle cx="466.6" cy="98.6" r="0.85"/>
<circle cx="467.4" cy="97.3" r="0.85"/>
<circle cx="492.4" cy="63.7" r="0.85"/>
<circle cx="497.7" cy="49.1" r="0.85"/>
<circle cx="472.2" cy="88.4" r="0.85"/>
<circle cx="479.2" cy="55.9" r="0.85"/>
<circle cx="464.4" cy="45.0" r="0.85"/>
<circle cx="468.6" cy="51.1" r="0.85"/>
<circle cx="477.4" cy="60.4" r="0.85"/>
<circle cx="472.7" cy="50.8" r="0.85"/>
<circle cx="443.0" cy="45.3" r="0.85"/>
<circle cx="475.4" cy="60.9" r="0.85"/>
<circle cx="467.2" cy="52.9" r="0.85"/>
<circle cx="471.2" cy="55.5" r="0.85"/>
<circle cx="482.1" cy="60.2" r="0.85"/>
<circle cx="465.5" cy="51.3" r="0.85"/>
<circle cx="478.1" cy="48.8" r="0.85"/>
<circle cx="474.3" cy="51.2" r="0.85"/>
<circle cx="470.5" cy="53.7" r="0.85"/>
<circle cx="470.4" cy="49.9" r="0.85"/>
<circle cx="474.2" cy="67.5" r="0.85"/>
<circle cx="462.0" cy="51.6" r="0.85"/>
<circle cx="461.1" cy="50.2" r="0.85"/>
<circle cx="464.9" cy="55.8" r="0.85"/>
<circle cx="468.0" cy="46.4" r="0.85"/>
<circle cx="458.2" cy="43.3" r="0.85"/>
<circle cx="460.7" cy="43.0" r="0.85"/>
<circle cx="463.8" cy="45.1" r="0.85"/>
<circle cx="456.0" cy="48.9" r="0.85"/>
<circle cx="462.7" cy="57.0" r="0.85"/>
<circle cx="463.5" cy="55.6" r="0.85"/>
<circle cx="464.2" cy="42.6" r="0.85"/>
<circle cx="466.3" cy="53.0" r="0.85"/>
<circle cx="466.0" cy="54.8" r="0.85"/>
<circle cx="477.2" cy="55.8" r="0.85"/>
<circle cx="464.2" cy="54.4" r="0.85"/>
<circle cx="477.6" cy="58.6" r="0.85"/>
<circle cx="466.6" cy="57.6" r="0.85"/>
<circle cx="474.9" cy="51.1" r="0.85"/>
<circle cx="457.5" cy="50.5" r="0.85"/>
<circle cx="458.5" cy="58.3" r="0.85"/>
<circle cx="455.0" cy="46.1" r="0.85"/>
<circle cx="471.7" cy="48.8" r="0.85"/>
<circle cx="463.0" cy="50.6" r="0.85"/>
<circle cx="466.9" cy="48.4" r="0.85"/>
<circle cx="465.4" cy="47.3" r="0.85"/>
<circle cx="457.5" cy="39.2" r="0.85"/>
<circle cx="479.9" cy="65.7" r="0.85"/>
<circle cx="484.4" cy="54.8" r="0.85"/>
<circle cx="471.8" cy="59.2" r="0.85"/>
<circle cx="478.3" cy="51.6" r="0.85"/>
<circle cx="479.6" cy="59.9" r="0.85"/>
<circle cx="458.5" cy="43.9" r="0.85"/>
<circle cx="475.8" cy="40.9" r="0.85"/>
<circle cx="465.7" cy="42.7" r="0.85"/>
<circle cx="472.7" cy="60.6" r="0.85"/>
<circle cx="464.1" cy="44.5" r="0.85"/>
<circle cx="457.7" cy="44.5" r="0.85"/>
<circle cx="471.3" cy="67.0" r="0.85"/>
<circle cx="471.0" cy="61.0" r="0.85"/>
<circle cx="474.0" cy="48.7" r="0.85"/>
<circle cx="475.2" cy="46.5" r="0.85"/>
<circle cx="468.8" cy="50.6" r="0.85"/>
<circle cx="472.1" cy="51.7" r="0.85"/>
<circle cx="465.0" cy="56.2" r="0.85"/>
<circle cx="490.4" cy="67.3" r="0.85"/>
<circle cx="464.9" cy="42.4" r="0.85"/>
<circle cx="455.2" cy="40.8" r="0.85"/>
<circle cx="483.1" cy="60.4" r="0.85"/>
<circle cx="478.8" cy="57.7" r="0.85"/>
<circle cx="470.8" cy="55.9" r="0.85"/>
<circle cx="451.0" cy="39.8" r="0.85"/>
<circle cx="481.4" cy="64.8" r="0.85"/>
<circle cx="475.6" cy="61.7" r="0.85"/>
<circle cx="472.4" cy="43.6" r="0.85"/>
<circle cx="473.8" cy="49.0" r="0.85"/>
<circle cx="471.2" cy="57.6" r="0.85"/>
<circle cx="461.1" cy="45.2" r="0.85"/>
<circle cx="455.7" cy="47.7" r="0.85"/>
<circle cx="466.7" cy="53.4" r="0.85"/>
<circle cx="450.0" cy="47.8" r="0.85"/>
<circle cx="480.3" cy="54.8" r="0.85"/>
<circle cx="466.1" cy="56.7" r="0.85"/>
<circle cx="444.5" cy="42.7" r="0.85"/>
<circle cx="476.2" cy="43.3" r="0.85"/>
<circle cx="474.6" cy="64.7" r="0.85"/>
<circle cx="481.6" cy="55.3" r="0.85"/>
<circle cx="474.4" cy="51.0" r="0.85"/>
<circle cx="469.7" cy="43.9" r="0.85"/>
<circle cx="459.7" cy="45.7" r="0.85"/>
<circle cx="466.6" cy="58.5" r="0.85"/>
<circle cx="455.6" cy="43.4" r="0.85"/>
<circle cx="477.3" cy="55.0" r="0.85"/>
<circle cx="461.7" cy="56.4" r="0.85"/>
<circle cx="465.7" cy="39.8" r="0.85"/>
<circle cx="476.0" cy="53.0" r="0.85"/>
<circle cx="469.7" cy="51.8" r="0.85"/>
<circle cx="471.9" cy="50.7" r="0.85"/>
<circle cx="456.3" cy="44.3" r="0.85"/>
<circle cx="462.2" cy="47.1" r="0.85"/>
<circle cx="490.4" cy="55.4" r="0.85"/>
<circle cx="453.4" cy="36.5" r="0.85"/>
<circle cx="471.7" cy="47.8" r="0.85"/>
<circle cx="455.0" cy="51.4" r="0.85"/>
<circle cx="465.6" cy="43.9" r="0.85"/>
<circle cx="468.3" cy="52.7" r="0.85"/>
<circle cx="448.6" cy="34.8" r="0.85"/>
<circle cx="464.7" cy="42.3" r="0.85"/>
<circle cx="472.0" cy="56.9" r="0.85"/>
<circle cx="450.0" cy="39.3" r="0.85"/>
<circle cx="468.4" cy="48.4" r="0.85"/>
<circle cx="460.1" cy="54.0" r="0.85"/>
<circle cx="470.1" cy="63.3" r="0.85"/>
<circle cx="466.9" cy="42.0" r="0.85"/>
<circle cx="454.7" cy="47.3" r="0.85"/>
<circle cx="457.7" cy="50.5" r="0.85"/>
<circle cx="482.4" cy="60.2" r="0.85"/>
<circle cx="478.9" cy="51.6" r="0.85"/>
<circle cx="472.2" cy="60.6" r="0.85"/>
<circle cx="458.7" cy="51.2" r="0.85"/>
<circle cx="469.2" cy="48.0" r="0.85"/>
<circle cx="476.4" cy="41.1" r="0.85"/>
<circle cx="473.3" cy="57.0" r="0.85"/>
<circle cx="470.4" cy="60.8" r="0.85"/>
<circle cx="471.2" cy="43.9" r="0.85"/>
<circle cx="475.8" cy="59.8" r="0.85"/>
<circle cx="468.0" cy="59.1" r="0.85"/>
<circle cx="469.0" cy="55.9" r="0.85"/>
<circle cx="470.8" cy="58.6" r="0.85"/>
<circle cx="484.0" cy="57.7" r="0.85"/>
<circle cx="470.6" cy="55.8" r="0.85"/>
<circle cx="456.7" cy="56.7" r="0.85"/>
<circle cx="457.5" cy="44.2" r="0.85"/>
<circle cx="460.3" cy="48.2" r="0.85"/>
<circle cx="474.2" cy="52.6" r="0.85"/>
<circle cx="472.1" cy="57.4" r="0.85"/>
<circle cx="467.4" cy="55.2" r="0.85"/>
<circle cx="474.0" cy="52.2" r="0.85"/>
<circle cx="483.6" cy="57.2" r="0.85"/>
<circle cx="464.9" cy="54.3" r="0.85"/>
<circle cx="470.1" cy="64.9" r="0.85"/>
<circle cx="460.0" cy="54.5" r="0.85"/>
<circle cx="470.0" cy="56.4" r="0.85"/>
<circle cx="464.9" cy="52.0" r="0.85"/>
<circle cx="465.5" cy="50.0" r="0.85"/>
<circle cx="459.9" cy="47.4" r="0.85"/>
<circle cx="456.5" cy="48.8" r="0.85"/>
<circle cx="477.8" cy="52.2" r="0.85"/>
<circle cx="472.6" cy="50.4" r="0.85"/>
<circle cx="470.9" cy="57.5" r="0.85"/>
<circle cx="443.2" cy="47.5" r="0.85"/>
<circle cx="477.0" cy="64.8" r="0.85"/>
<circle cx="481.4" cy="58.2" r="0.85"/>
<circle cx="474.4" cy="60.2" r="0.85"/>
<circle cx="480.5" cy="49.1" r="0.85"/>
<circle cx="477.7" cy="55.8" r="0.85"/>
<circle cx="481.3" cy="62.6" r="0.85"/>
<circle cx="458.6" cy="53.9" r="0.85"/>
<circle cx="461.8" cy="48.2" r="0.85"/>
<circle cx="478.4" cy="46.8" r="0.85"/>
<circle cx="479.8" cy="63.5" r="0.85"/>
<circle cx="468.6" cy="43.7" r="0.85"/>
<circle cx="482.1" cy="50.2" r="0.85"/>
<circle cx="462.0" cy="51.7" r="0.85"/>
<circle cx="478.3" cy="56.0" r="0.85"/>
<circle cx="484.7" cy="51.7" r="0.85"/>
<circle cx="452.0" cy="45.8" r="0.85"/>
<circle cx="475.8" cy="67.2" r="0.85"/>
<circle cx="480.6" cy="52.6" r="0.85"/>
<circle cx="468.7" cy="52.4" r="0.85"/>
<circle cx="473.1" cy="51.9" r="0.85"/>
<circle cx="460.2" cy="47.0" r="0.85"/>
<circle cx="465.5" cy="59.3" r="0.85"/>
<circle cx="479.2" cy="59.5" r="0.85"/>
<circle cx="448.7" cy="47.6" r="0.85"/>
<circle cx="462.3" cy="61.2" r="0.85"/>
<circle cx="469.8" cy="42.4" r="0.85"/>
<circle cx="469.2" cy="57.1" r="0.85"/>
<circle cx="481.2" cy="49.8" r="0.85"/>
<circle cx="478.1" cy="52.2" r="0.85"/>
<circle cx="467.9" cy="53.8" r="0.85"/>
<circle cx="484.1" cy="58.6" r="0.85"/>
<circle cx="457.4" cy="59.9" r="0.85"/>
<circle cx="467.0" cy="49.1" r="0.85"/>
<circle cx="465.5" cy="51.4" r="0.85"/>
<circle cx="469.5" cy="58.9" r="0.85"/>
<circle cx="468.6" cy="44.1" r="0.85"/>
<circle cx="478.3" cy="55.2" r="0.85"/>
<circle cx="465.4" cy="54.7" r="0.85"/>
<circle cx="477.4" cy="65.7" r="0.85"/>
<circle cx="471.1" cy="42.9" r="0.85"/>
<circle cx="480.5" cy="46.6" r="0.85"/>
<circle cx="467.0" cy="63.0" r="0.85"/>
<circle cx="472.9" cy="53.2" r="0.85"/>
<circle cx="466.1" cy="46.6" r="0.85"/>
<circle cx="473.7" cy="48.1" r="0.85"/>
<circle cx="472.3" cy="42.4" r="0.85"/>
<circle cx="476.8" cy="73.0" r="0.85"/>
<circle cx="454.4" cy="40.6" r="0.85"/>
<circle cx="459.8" cy="51.1" r="0.85"/>
<circle cx="465.4" cy="44.6" r="0.85"/>
<circle cx="467.0" cy="44.1" r="0.85"/>
<circle cx="465.6" cy="44.5" r="0.85"/>
<circle cx="469.6" cy="60.5" r="0.85"/>
<circle cx="471.6" cy="55.6" r="0.85"/>
<circle cx="454.9" cy="54.9" r="0.85"/>
<circle cx="483.3" cy="63.0" r="0.85"/>
<circle cx="455.3" cy="42.1" r="0.85"/>
<circle cx="474.6" cy="75.8" r="0.85"/>
<circle cx="458.5" cy="44.4" r="0.85"/>
<circle cx="477.7" cy="51.4" r="0.85"/>
<circle cx="475.5" cy="42.7" r="0.85"/>
<circle cx="473.4" cy="58.3" r="0.85"/>
<circle cx="460.6" cy="56.3" r="0.85"/>
<circle cx="460.5" cy="54.0" r="0.85"/>
<circle cx="452.5" cy="51.3" r="0.85"/>
<circle cx="468.2" cy="59.1" r="0.85"/>
<circle cx="467.5" cy="51.5" r="0.85"/>
<circle cx="475.5" cy="53.3" r="0.85"/>
<circle cx="486.4" cy="59.6" r="0.85"/>
<circle cx="471.9" cy="52.5" r="0.85"/>
<circle cx="475.6" cy="59.5" r="0.85"/>
<circle cx="447.5" cy="31.1" r="0.85"/>
<circle cx="461.2" cy="42.9" r="0.85"/>
<circle cx="469.7" cy="50.7" r="0.85"/>
<circle cx="453.4" cy="51.6" r="0.85"/>
<circle cx="488.9" cy="65.7" r="0.85"/>
<circle cx="461.2" cy="56.0" r="0.85"/>
<circle cx="465.0" cy="52.1" r="0.85"/>
<circle cx="488.0" cy="56.4" r="0.85"/>
<circle cx="471.3" cy="54.2" r="0.85"/>
<circle cx="480.1" cy="61.0" r="0.85"/>
<circle cx="473.5" cy="55.5" r="0.85"/>
<circle cx="476.7" cy="58.3" r="0.85"/>
<circle cx="460.9" cy="48.3" r="0.85"/>
<circle cx="437.5" cy="66.4" r="0.85"/>
<circle cx="448.8" cy="85.0" r="0.85"/>
<circle cx="471.0" cy="105.3" r="0.85"/>
<circle cx="448.7" cy="83.8" r="0.85"/>
<circle cx="452.8" cy="94.6" r="0.85"/>
<circle cx="449.5" cy="86.6" r="0.85"/>
<circle cx="465.9" cy="100.6" r="0.85"/>
<circle cx="450.7" cy="85.7" r="0.85"/>
<circle cx="440.2" cy="89.9" r="0.85"/>
<circle cx="446.4" cy="79.7" r="0.85"/>
<circle cx="452.8" cy="83.9" r="0.85"/>
<circle cx="456.8" cy="88.0" r="0.85"/>
<circle cx="447.9" cy="88.7" r="0.85"/>
<circle cx="458.6" cy="92.3" r="0.85"/>
<circle cx="468.3" cy="80.7" r="0.85"/>
<circle cx="471.1" cy="108.1" r="0.85"/>
<circle cx="444.4" cy="84.4" r="0.85"/>
<circle cx="451.8" cy="87.0" r="0.85"/>
<circle cx="452.5" cy="86.5" r="0.85"/>
<circle cx="465.1" cy="95.7" r="0.85"/>
<circle cx="458.1" cy="79.8" r="0.85"/>
<circle cx="466.5" cy="85.4" r="0.85"/>
<circle cx="458.4" cy="83.4" r="0.85"/>
<circle cx="460.9" cy="91.7" r="0.85"/>
<circle cx="449.7" cy="93.3" r="0.85"/>
<circle cx="458.1" cy="99.4" r="0.85"/>
<circle cx="458.8" cy="90.5" r="0.85"/>
<circle cx="443.0" cy="85.1" r="0.85"/>
<circle cx="450.4" cy="80.4" r="0.85"/>
<circle cx="451.7" cy="89.3" r="0.85"/>
<circle cx="454.0" cy="85.9" r="0.85"/>
<circle cx="438.0" cy="87.1" r="0.85"/>
<circle cx="451.8" cy="80.8" r="0.85"/>
<circle cx="442.1" cy="83.9" r="0.85"/>
<circle cx="459.7" cy="86.0" r="0.85"/>
<circle cx="445.0" cy="97.0" r="0.85"/>
<circle cx="457.7" cy="93.5" r="0.85"/>
<circle cx="452.3" cy="104.1" r="0.85"/>
<circle cx="455.7" cy="105.9" r="0.85"/>
<circle cx="448.7" cy="99.2" r="0.85"/>
<circle cx="453.4" cy="96.2" r="0.85"/>
<circle cx="456.6" cy="109.8" r="0.85"/>
<circle cx="449.4" cy="99.5" r="0.85"/>
<circle cx="449.8" cy="105.0" r="0.85"/>
<circle cx="453.4" cy="102.2" r="0.85"/>
<circle cx="465.8" cy="108.8" r="0.85"/>
<circle cx="462.3" cy="99.6" r="0.85"/>
<circle cx="456.0" cy="98.2" r="0.85"/>
<circle cx="458.8" cy="109.2" r="0.85"/>
<circle cx="455.9" cy="94.4" r="0.85"/>
<circle cx="451.8" cy="101.6" r="0.85"/>
<circle cx="459.2" cy="108.8" r="0.85"/>
<circle cx="465.4" cy="111.3" r="0.85"/>
<circle cx="461.9" cy="96.6" r="0.85"/>
<circle cx="452.0" cy="98.7" r="0.85"/>
<circle cx="460.4" cy="99.2" r="0.85"/>
<circle cx="448.5" cy="103.4" r="0.85"/>
<circle cx="455.5" cy="98.4" r="0.85"/>
<circle cx="460.6" cy="101.5" r="0.85"/>
<circle cx="460.2" cy="96.6" r="0.85"/>
<circle cx="467.8" cy="102.8" r="0.85"/>
<circle cx="458.3" cy="96.0" r="0.85"/>
<circle cx="476.2" cy="111.2" r="0.85"/>
<circle cx="453.4" cy="100.3" r="0.85"/>
<circle cx="450.1" cy="96.9" r="0.85"/>
<circle cx="453.3" cy="103.2" r="0.85"/>
<circle cx="464.4" cy="107.0" r="0.85"/>
<circle cx="454.5" cy="105.1" r="0.85"/>
<circle cx="456.5" cy="99.9" r="0.85"/>
<circle cx="475.0" cy="108.4" r="0.85"/>
<circle cx="430.5" cy="58.3" r="0.85"/>
<circle cx="433.9" cy="66.4" r="0.85"/>
<circle cx="433.7" cy="90.6" r="0.85"/>
<circle cx="436.5" cy="28.6" r="0.85"/>
<circle cx="446.4" cy="80.4" r="0.85"/>
<circle cx="434.5" cy="107.5" r="0.85"/>
<circle cx="436.3" cy="74.4" r="0.85"/>
<circle cx="431.8" cy="103.1" r="0.85"/>
<circle cx="442.1" cy="58.7" r="0.85"/>
<circle cx="433.6" cy="111.0" r="0.85"/>
<circle cx="432.7" cy="69.6" r="0.85"/>
<circle cx="432.4" cy="74.0" r="0.85"/>
<circle cx="442.2" cy="81.5" r="0.85"/>
<circle cx="485.8" cy="81.4" r="0.85"/>
<circle cx="476.8" cy="83.9" r="0.85"/>
<circle cx="468.2" cy="70.8" r="0.85"/>
<circle cx="480.8" cy="78.2" r="0.85"/>
<circle cx="482.9" cy="83.9" r="0.85"/>
<circle cx="486.6" cy="82.1" r="0.85"/>
<circle cx="478.9" cy="80.8" r="0.85"/>
<circle cx="474.6" cy="68.0" r="0.85"/>
<circle cx="480.3" cy="80.0" r="0.85"/>
<circle cx="486.7" cy="80.4" r="0.85"/>
<circle cx="478.2" cy="77.9" r="0.85"/>
<circle cx="482.4" cy="77.9" r="0.85"/>
<circle cx="481.0" cy="81.1" r="0.85"/>
<circle cx="481.3" cy="78.9" r="0.85"/>
<circle cx="486.0" cy="83.9" r="0.85"/>
<circle cx="477.2" cy="80.1" r="0.85"/>
<circle cx="485.0" cy="83.7" r="0.85"/>
<circle cx="477.4" cy="76.2" r="0.85"/>
<circle cx="475.8" cy="80.0" r="0.85"/>
<circle cx="485.6" cy="85.9" r="0.85"/>
<circle cx="481.4" cy="79.1" r="0.85"/>
<circle cx="469.1" cy="74.9" r="0.85"/>
<circle cx="484.5" cy="83.1" r="0.85"/>
<circle cx="478.8" cy="77.9" r="0.85"/>
<circle cx="466.9" cy="68.0" r="0.85"/>
<circle cx="492.4" cy="86.1" r="0.85"/>
<circle cx="482.0" cy="81.0" r="0.85"/>
<circle cx="486.0" cy="85.4" r="0.85"/>
<circle cx="474.5" cy="78.6" r="0.85"/>
<circle cx="470.5" cy="71.3" r="0.85"/>
<circle cx="484.0" cy="81.6" r="0.85"/>
<circle cx="476.5" cy="77.3" r="0.85"/>
<circle cx="478.9" cy="73.6" r="0.85"/>
<circle cx="486.0" cy="84.2" r="0.85"/>
<circle cx="487.4" cy="85.8" r="0.85"/>
<circle cx="481.8" cy="81.4" r="0.85"/>
<circle cx="484.7" cy="83.7" r="0.85"/>
<circle cx="485.3" cy="86.2" r="0.85"/>
<circle cx="474.2" cy="72.2" r="0.85"/>
<circle cx="468.3" cy="75.6" r="0.85"/>
<circle cx="483.7" cy="85.4" r="0.85"/>
<circle cx="493.4" cy="90.3" r="0.85"/>
<circle cx="471.6" cy="68.4" r="0.85"/>
<circle cx="477.3" cy="79.1" r="0.85"/>
<circle cx="488.0" cy="81.2" r="0.85"/>
<circle cx="475.7" cy="73.7" r="0.85"/>
<circle cx="475.3" cy="69.9" r="0.85"/>
<circle cx="473.2" cy="74.6" r="0.85"/>
<circle cx="480.4" cy="83.2" r="0.85"/>
<circle cx="483.5" cy="85.6" r="0.85"/>
<circle cx="481.2" cy="79.3" r="0.85"/>
<circle cx="489.0" cy="85.0" r="0.85"/>
<circle cx="473.6" cy="71.5" r="0.85"/>
<circle cx="487.3" cy="83.7" r="0.85"/>
<circle cx="476.7" cy="78.6" r="0.85"/>
<circle cx="486.5" cy="81.3" r="0.85"/>
<circle cx="490.4" cy="87.7" r="0.85"/>
<circle cx="493.7" cy="87.8" r="0.85"/>
<circle cx="486.4" cy="86.2" r="0.85"/>
<circle cx="472.4" cy="80.3" r="0.85"/>
<circle cx="475.7" cy="71.3" r="0.85"/>
<circle cx="477.3" cy="78.4" r="0.85"/>
<circle cx="488.8" cy="85.4" r="0.85"/>
<circle cx="481.4" cy="76.0" r="0.85"/>
<circle cx="486.7" cy="84.2" r="0.85"/>
<circle cx="479.8" cy="76.2" r="0.85"/>
<circle cx="471.9" cy="69.4" r="0.85"/>
<circle cx="470.7" cy="71.8" r="0.85"/>
<circle cx="473.7" cy="76.5" r="0.85"/>
<circle cx="494.6" cy="85.8" r="0.85"/>
<circle cx="482.3" cy="79.4" r="0.85"/>
<circle cx="464.9" cy="74.4" r="0.85"/>
<circle cx="485.5" cy="83.7" r="0.85"/>
<circle cx="475.6" cy="75.0" r="0.85"/>
<circle cx="482.6" cy="84.5" r="0.85"/>
<circle cx="488.7" cy="79.6" r="0.85"/>
<circle cx="479.2" cy="79.5" r="0.85"/>
<circle cx="482.9" cy="80.8" r="0.85"/>
<circle cx="488.7" cy="91.4" r="0.85"/>
<circle cx="484.7" cy="82.2" r="0.85"/>
<circle cx="487.2" cy="87.0" r="0.85"/>
<circle cx="476.4" cy="74.0" r="0.85"/>
<circle cx="476.5" cy="74.0" r="0.85"/>
<circle cx="483.1" cy="88.3" r="0.85"/>
<circle cx="474.6" cy="78.9" r="0.85"/>
<circle cx="478.0" cy="81.4" r="0.85"/>
<circle cx="480.6" cy="81.6" r="0.85"/>
<circle cx="492.3" cy="88.1" r="0.85"/>
<circle cx="484.3" cy="81.9" r="0.85"/>
<circle cx="486.5" cy="83.5" r="0.85"/>
</g>
<clipPath id="cp1"><rect x="418.6" y="26.4" width="106.8" height="106.5"/></clipPath><g clip-path="url(#cp1)">
<ellipse cx="501.0" cy="46.0" rx="27.8" ry="3.3" transform="rotate(-52.3 501.0 46.0)" fill="#3F62CC"/>
<ellipse cx="502.4" cy="44.2" rx="22.8" ry="2.5" transform="rotate(-52.3 502.4 44.2)" fill="#46B4E2"/>
<ellipse cx="502.0" cy="44.7" rx="17.8" ry="1.9" transform="rotate(-52.3 502.0 44.7)" fill="#74D36C"/>
<ellipse cx="501.7" cy="45.1" rx="12.8" ry="1.4" transform="rotate(-52.3 501.7 45.1)" fill="#E6DE3E"/>
<ellipse cx="501.7" cy="45.1" rx="10.0" ry="1.1" transform="rotate(-52.3 501.7 45.1)" fill="#F28A2A"/>
<ellipse cx="501.7" cy="45.1" rx="7.8" ry="0.8" transform="rotate(-52.3 501.7 45.1)" fill="#E02A1E"/>
</g>
<rect x="418.6" y="26.4" width="106.8" height="106.5" fill="none" stroke="#111" stroke-width="1.3"/>
<polygon points="427.2,34.6 485.0,34.6 453.0,114.4 427.2,114.4" fill="none" stroke="#111" stroke-width="1.2"/>
<text x="472.0" y="23.4" font-size="12" text-anchor="middle" stroke="#111">shLacZ</text>
<text x="428.0" y="43.8" font-size="9.3" fill="#222" stroke="#222">TRT(-)</text>
<text x="428.0" y="54.5" font-size="9.3" fill="#222" stroke="#222">2.31</text>
<line x1="417.4" y1="130.8" x2="418.6" y2="130.8" stroke="#111" stroke-width="0.8"/>
<line x1="417.4" y1="126.4" x2="418.6" y2="126.4" stroke="#111" stroke-width="0.8"/>
<line x1="417.4" y1="123.1" x2="418.6" y2="123.1" stroke="#111" stroke-width="0.8"/>
<line x1="417.4" y1="120.3" x2="418.6" y2="120.3" stroke="#111" stroke-width="0.8"/>
<line x1="417.4" y1="118.0" x2="418.6" y2="118.0" stroke="#111" stroke-width="0.8"/>
<line x1="417.4" y1="116.0" x2="418.6" y2="116.0" stroke="#111" stroke-width="0.8"/>
<line x1="417.4" y1="114.2" x2="418.6" y2="114.2" stroke="#111" stroke-width="0.8"/>
<line x1="416.4" y1="112.6" x2="418.6" y2="112.6" stroke="#111" stroke-width="0.8"/>
<line x1="417.4" y1="102.1" x2="418.6" y2="102.1" stroke="#111" stroke-width="0.8"/>
<line x1="417.4" y1="96.0" x2="418.6" y2="96.0" stroke="#111" stroke-width="0.8"/>
<line x1="417.4" y1="91.6" x2="418.6" y2="91.6" stroke="#111" stroke-width="0.8"/>
<line x1="417.4" y1="88.3" x2="418.6" y2="88.3" stroke="#111" stroke-width="0.8"/>
<line x1="417.4" y1="85.5" x2="418.6" y2="85.5" stroke="#111" stroke-width="0.8"/>
<line x1="417.4" y1="83.2" x2="418.6" y2="83.2" stroke="#111" stroke-width="0.8"/>
<line x1="417.4" y1="81.2" x2="418.6" y2="81.2" stroke="#111" stroke-width="0.8"/>
<line x1="417.4" y1="79.4" x2="418.6" y2="79.4" stroke="#111" stroke-width="0.8"/>
<line x1="416.4" y1="77.8" x2="418.6" y2="77.8" stroke="#111" stroke-width="0.8"/>
<line x1="417.4" y1="67.3" x2="418.6" y2="67.3" stroke="#111" stroke-width="0.8"/>
<line x1="417.4" y1="61.2" x2="418.6" y2="61.2" stroke="#111" stroke-width="0.8"/>
<line x1="417.4" y1="56.8" x2="418.6" y2="56.8" stroke="#111" stroke-width="0.8"/>
<line x1="417.4" y1="53.5" x2="418.6" y2="53.5" stroke="#111" stroke-width="0.8"/>
<line x1="417.4" y1="50.7" x2="418.6" y2="50.7" stroke="#111" stroke-width="0.8"/>
<line x1="417.4" y1="48.4" x2="418.6" y2="48.4" stroke="#111" stroke-width="0.8"/>
<line x1="417.4" y1="46.4" x2="418.6" y2="46.4" stroke="#111" stroke-width="0.8"/>
<line x1="417.4" y1="44.6" x2="418.6" y2="44.6" stroke="#111" stroke-width="0.8"/>
<line x1="416.4" y1="43.0" x2="418.6" y2="43.0" stroke="#111" stroke-width="0.8"/>
<line x1="417.4" y1="32.5" x2="418.6" y2="32.5" stroke="#111" stroke-width="0.8"/>
<line x1="421.8" y1="132.9" x2="421.8" y2="134.1" stroke="#111" stroke-width="0.8"/>
<line x1="424.5" y1="132.9" x2="424.5" y2="134.1" stroke="#111" stroke-width="0.8"/>
<line x1="426.8" y1="132.9" x2="426.8" y2="134.1" stroke="#111" stroke-width="0.8"/>
<line x1="428.6" y1="132.9" x2="428.6" y2="134.1" stroke="#111" stroke-width="0.8"/>
<line x1="430.3" y1="132.9" x2="430.3" y2="134.1" stroke="#111" stroke-width="0.8"/>
<line x1="431.7" y1="132.9" x2="431.7" y2="134.1" stroke="#111" stroke-width="0.8"/>
<line x1="433.0" y1="132.9" x2="433.0" y2="135.1" stroke="#111" stroke-width="0.8"/>
<line x1="441.5" y1="132.9" x2="441.5" y2="134.1" stroke="#111" stroke-width="0.8"/>
<line x1="446.4" y1="132.9" x2="446.4" y2="134.1" stroke="#111" stroke-width="0.8"/>
<line x1="449.9" y1="132.9" x2="449.9" y2="134.1" stroke="#111" stroke-width="0.8"/>
<line x1="452.6" y1="132.9" x2="452.6" y2="134.1" stroke="#111" stroke-width="0.8"/>
<line x1="454.9" y1="132.9" x2="454.9" y2="134.1" stroke="#111" stroke-width="0.8"/>
<line x1="456.7" y1="132.9" x2="456.7" y2="134.1" stroke="#111" stroke-width="0.8"/>
<line x1="458.4" y1="132.9" x2="458.4" y2="134.1" stroke="#111" stroke-width="0.8"/>
<line x1="459.8" y1="132.9" x2="459.8" y2="134.1" stroke="#111" stroke-width="0.8"/>
<line x1="461.1" y1="132.9" x2="461.1" y2="135.1" stroke="#111" stroke-width="0.8"/>
<line x1="469.6" y1="132.9" x2="469.6" y2="134.1" stroke="#111" stroke-width="0.8"/>
<line x1="474.5" y1="132.9" x2="474.5" y2="134.1" stroke="#111" stroke-width="0.8"/>
<line x1="478.0" y1="132.9" x2="478.0" y2="134.1" stroke="#111" stroke-width="0.8"/>
<line x1="480.7" y1="132.9" x2="480.7" y2="134.1" stroke="#111" stroke-width="0.8"/>
<line x1="483.0" y1="132.9" x2="483.0" y2="134.1" stroke="#111" stroke-width="0.8"/>
<line x1="484.8" y1="132.9" x2="484.8" y2="134.1" stroke="#111" stroke-width="0.8"/>
<line x1="486.5" y1="132.9" x2="486.5" y2="134.1" stroke="#111" stroke-width="0.8"/>
<line x1="487.9" y1="132.9" x2="487.9" y2="134.1" stroke="#111" stroke-width="0.8"/>
<line x1="489.2" y1="132.9" x2="489.2" y2="135.1" stroke="#111" stroke-width="0.8"/>
<line x1="497.7" y1="132.9" x2="497.7" y2="134.1" stroke="#111" stroke-width="0.8"/>
<line x1="502.6" y1="132.9" x2="502.6" y2="134.1" stroke="#111" stroke-width="0.8"/>
<line x1="506.1" y1="132.9" x2="506.1" y2="134.1" stroke="#111" stroke-width="0.8"/>
<line x1="508.8" y1="132.9" x2="508.8" y2="134.1" stroke="#111" stroke-width="0.8"/>
<line x1="511.1" y1="132.9" x2="511.1" y2="134.1" stroke="#111" stroke-width="0.8"/>
<line x1="512.9" y1="132.9" x2="512.9" y2="134.1" stroke="#111" stroke-width="0.8"/>
<line x1="514.6" y1="132.9" x2="514.6" y2="134.1" stroke="#111" stroke-width="0.8"/>
<line x1="516.0" y1="132.9" x2="516.0" y2="134.1" stroke="#111" stroke-width="0.8"/>
<line x1="517.3" y1="132.9" x2="517.3" y2="135.1" stroke="#111" stroke-width="0.8"/>
<text x="410.3" y="46.9" font-size="10.8" text-anchor="end" stroke="#111">10</text><text x="410.5" y="42.4" font-size="7.2" stroke="#111">5</text>
<text x="410.3" y="81.7" font-size="10.8" text-anchor="end" stroke="#111">10</text><text x="410.5" y="77.2" font-size="7.2" stroke="#111">4</text>
<text x="410.3" y="116.5" font-size="10.8" text-anchor="end" stroke="#111">10</text><text x="410.5" y="112.0" font-size="7.2" stroke="#111">3</text>
<text x="435.4" y="145.8" font-size="10.8" text-anchor="end" stroke="#111">10</text><text x="435.6" y="141.3" font-size="7.2" stroke="#111">2</text>
<text x="463.5" y="145.8" font-size="10.8" text-anchor="end" stroke="#111">10</text><text x="463.7" y="141.3" font-size="7.2" stroke="#111">3</text>
<text x="491.6" y="145.8" font-size="10.8" text-anchor="end" stroke="#111">10</text><text x="491.8" y="141.3" font-size="7.2" stroke="#111">4</text>
<text x="519.7" y="145.8" font-size="10.8" text-anchor="end" stroke="#111">10</text><text x="519.9" y="141.3" font-size="7.2" stroke="#111">5</text>
<g fill="#3F5FC6">
<circle cx="642.4" cy="31.6" r="0.85"/>
<circle cx="590.4" cy="103.6" r="0.85"/>
<circle cx="635.4" cy="39.6" r="0.85"/>
<circle cx="603.3" cy="79.6" r="0.85"/>
<circle cx="621.5" cy="55.6" r="0.85"/>
<circle cx="594.6" cy="94.7" r="0.85"/>
<circle cx="611.1" cy="69.4" r="0.85"/>
<circle cx="645.7" cy="29.7" r="0.85"/>
<circle cx="639.4" cy="30.1" r="0.85"/>
<circle cx="603.1" cy="84.9" r="0.85"/>
<circle cx="588.5" cy="111.4" r="0.85"/>
<circle cx="607.2" cy="81.0" r="0.85"/>
<circle cx="612.5" cy="76.7" r="0.85"/>
<circle cx="619.5" cy="59.6" r="0.85"/>
<circle cx="603.3" cy="89.5" r="0.85"/>
<circle cx="594.9" cy="98.3" r="0.85"/>
<circle cx="621.1" cy="66.7" r="0.85"/>
<circle cx="597.8" cy="93.5" r="0.85"/>
<circle cx="639.6" cy="36.2" r="0.85"/>
<circle cx="636.3" cy="32.5" r="0.85"/>
<circle cx="632.4" cy="45.5" r="0.85"/>
<circle cx="641.3" cy="28.1" r="0.85"/>
<circle cx="643.8" cy="31.9" r="0.85"/>
<circle cx="632.2" cy="50.7" r="0.85"/>
<circle cx="613.2" cy="67.0" r="0.85"/>
<circle cx="639.8" cy="33.0" r="0.85"/>
<circle cx="618.6" cy="66.0" r="0.85"/>
<circle cx="636.5" cy="35.2" r="0.85"/>
<circle cx="636.5" cy="33.4" r="0.85"/>
<circle cx="640.6" cy="34.1" r="0.85"/>
<circle cx="628.5" cy="47.1" r="0.85"/>
<circle cx="607.3" cy="80.3" r="0.85"/>
<circle cx="630.7" cy="51.4" r="0.85"/>
<circle cx="607.3" cy="87.9" r="0.85"/>
<circle cx="637.8" cy="33.0" r="0.85"/>
<circle cx="633.5" cy="52.6" r="0.85"/>
<circle cx="615.0" cy="63.1" r="0.85"/>
<circle cx="622.2" cy="58.2" r="0.85"/>
<circle cx="607.0" cy="81.8" r="0.85"/>
<circle cx="643.0" cy="34.3" r="0.85"/>
<circle cx="627.7" cy="58.0" r="0.85"/>
<circle cx="631.6" cy="49.1" r="0.85"/>
<circle cx="640.5" cy="35.4" r="0.85"/>
<circle cx="591.4" cy="109.0" r="0.85"/>
<circle cx="625.9" cy="53.3" r="0.85"/>
<circle cx="639.1" cy="37.9" r="0.85"/>
<circle cx="588.5" cy="98.7" r="0.85"/>
<circle cx="601.6" cy="87.1" r="0.85"/>
<circle cx="601.3" cy="91.8" r="0.85"/>
<circle cx="628.1" cy="47.6" r="0.85"/>
<circle cx="585.2" cy="109.9" r="0.85"/>
<circle cx="628.1" cy="52.6" r="0.85"/>
<circle cx="590.9" cy="104.3" r="0.85"/>
<circle cx="630.0" cy="47.5" r="0.85"/>
<circle cx="584.7" cy="111.9" r="0.85"/>
<circle cx="599.7" cy="98.5" r="0.85"/>
<circle cx="597.3" cy="92.8" r="0.85"/>
<circle cx="585.2" cy="107.6" r="0.85"/>
<circle cx="643.8" cy="28.9" r="0.85"/>
<circle cx="608.8" cy="78.8" r="0.85"/>
<circle cx="624.0" cy="56.3" r="0.85"/>
<circle cx="607.0" cy="78.4" r="0.85"/>
<circle cx="582.7" cy="108.3" r="0.85"/>
<circle cx="631.8" cy="47.6" r="0.85"/>
<circle cx="639.2" cy="35.1" r="0.85"/>
<circle cx="625.0" cy="46.7" r="0.85"/>
<circle cx="616.5" cy="68.0" r="0.85"/>
<circle cx="609.5" cy="83.0" r="0.85"/>
<circle cx="588.2" cy="99.2" r="0.85"/>
<circle cx="595.2" cy="100.0" r="0.85"/>
<circle cx="620.5" cy="57.4" r="0.85"/>
<circle cx="596.6" cy="98.4" r="0.85"/>
<circle cx="641.8" cy="30.7" r="0.85"/>
<circle cx="615.6" cy="73.9" r="0.85"/>
<circle cx="583.5" cy="111.7" r="0.85"/>
<circle cx="587.9" cy="106.9" r="0.85"/>
<circle cx="586.6" cy="110.5" r="0.85"/>
<circle cx="625.9" cy="55.3" r="0.85"/>
<circle cx="622.6" cy="68.0" r="0.85"/>
<circle cx="643.3" cy="28.1" r="0.85"/>
<circle cx="599.9" cy="87.6" r="0.85"/>
<circle cx="623.2" cy="58.6" r="0.85"/>
<circle cx="625.5" cy="56.3" r="0.85"/>
<circle cx="600.0" cy="84.3" r="0.85"/>
<circle cx="613.0" cy="71.7" r="0.85"/>
<circle cx="586.3" cy="109.9" r="0.85"/>
<circle cx="614.7" cy="74.7" r="0.85"/>
<circle cx="603.9" cy="89.2" r="0.85"/>
<circle cx="592.4" cy="102.5" r="0.85"/>
<circle cx="601.6" cy="91.0" r="0.85"/>
<circle cx="617.1" cy="62.6" r="0.85"/>
<circle cx="625.9" cy="54.6" r="0.85"/>
<circle cx="604.2" cy="93.5" r="0.85"/>
<circle cx="627.4" cy="45.7" r="0.85"/>
<circle cx="611.2" cy="69.1" r="0.85"/>
<circle cx="587.6" cy="107.7" r="0.85"/>
<circle cx="611.6" cy="71.3" r="0.85"/>
<circle cx="591.1" cy="102.6" r="0.85"/>
<circle cx="632.4" cy="41.1" r="0.85"/>
<circle cx="641.8" cy="34.8" r="0.85"/>
<circle cx="622.4" cy="55.7" r="0.85"/>
<circle cx="615.6" cy="79.9" r="0.85"/>
<circle cx="584.3" cy="112.0" r="0.85"/>
<circle cx="605.2" cy="81.3" r="0.85"/>
<circle cx="635.8" cy="39.3" r="0.85"/>
<circle cx="614.5" cy="69.2" r="0.85"/>
<circle cx="611.1" cy="71.9" r="0.85"/>
<circle cx="622.7" cy="58.5" r="0.85"/>
<circle cx="589.3" cy="104.8" r="0.85"/>
<circle cx="642.6" cy="33.9" r="0.85"/>
<circle cx="590.0" cy="104.8" r="0.85"/>
<circle cx="620.3" cy="58.8" r="0.85"/>
<circle cx="608.1" cy="72.2" r="0.85"/>
<circle cx="612.2" cy="74.7" r="0.85"/>
<circle cx="594.1" cy="100.1" r="0.85"/>
<circle cx="637.0" cy="39.1" r="0.85"/>
<circle cx="628.4" cy="56.4" r="0.85"/>
<circle cx="584.5" cy="110.9" r="0.85"/>
<circle cx="627.0" cy="53.3" r="0.85"/>
<circle cx="614.4" cy="63.4" r="0.85"/>
<circle cx="605.8" cy="75.0" r="0.85"/>
<circle cx="604.6" cy="85.9" r="0.85"/>
<circle cx="614.3" cy="59.9" r="0.85"/>
<circle cx="634.8" cy="42.6" r="0.85"/>
<circle cx="641.5" cy="33.4" r="0.85"/>
<circle cx="599.8" cy="87.7" r="0.85"/>
<circle cx="616.8" cy="66.3" r="0.85"/>
<circle cx="629.6" cy="52.9" r="0.85"/>
<circle cx="636.8" cy="31.6" r="0.85"/>
<circle cx="589.6" cy="101.2" r="0.85"/>
<circle cx="610.2" cy="78.3" r="0.85"/>
<circle cx="612.8" cy="72.3" r="0.85"/>
<circle cx="592.7" cy="108.4" r="0.85"/>
<circle cx="645.6" cy="30.3" r="0.85"/>
<circle cx="627.0" cy="54.6" r="0.85"/>
<circle cx="602.4" cy="89.5" r="0.85"/>
<circle cx="626.2" cy="51.4" r="0.85"/>
<circle cx="617.1" cy="62.2" r="0.85"/>
<circle cx="588.1" cy="97.4" r="0.85"/>
<circle cx="630.3" cy="44.8" r="0.85"/>
<circle cx="588.4" cy="100.3" r="0.85"/>
<circle cx="602.6" cy="86.1" r="0.85"/>
<circle cx="635.8" cy="33.4" r="0.85"/>
<circle cx="612.8" cy="73.9" r="0.85"/>
<circle cx="644.3" cy="28.7" r="0.85"/>
<circle cx="592.7" cy="95.5" r="0.85"/>
<circle cx="616.8" cy="72.1" r="0.85"/>
<circle cx="638.5" cy="36.8" r="0.85"/>
<circle cx="595.5" cy="92.1" r="0.85"/>
<circle cx="611.9" cy="73.2" r="0.85"/>
<circle cx="632.0" cy="51.0" r="0.85"/>
<circle cx="614.8" cy="66.9" r="0.85"/>
<circle cx="640.5" cy="29.6" r="0.85"/>
<circle cx="629.2" cy="55.0" r="0.85"/>
<circle cx="632.7" cy="45.8" r="0.85"/>
<circle cx="623.2" cy="55.1" r="0.85"/>
<circle cx="609.3" cy="71.6" r="0.85"/>
<circle cx="620.4" cy="51.5" r="0.85"/>
<circle cx="580.7" cy="111.4" r="0.85"/>
<circle cx="638.8" cy="36.8" r="0.85"/>
<circle cx="626.1" cy="53.8" r="0.85"/>
<circle cx="640.8" cy="31.8" r="0.85"/>
<circle cx="626.8" cy="45.3" r="0.85"/>
<circle cx="635.6" cy="34.4" r="0.85"/>
<circle cx="593.2" cy="102.9" r="0.85"/>
<circle cx="596.0" cy="89.6" r="0.85"/>
<circle cx="629.9" cy="45.7" r="0.85"/>
<circle cx="633.4" cy="41.6" r="0.85"/>
<circle cx="593.1" cy="96.8" r="0.85"/>
<circle cx="601.3" cy="85.7" r="0.85"/>
<circle cx="620.0" cy="59.3" r="0.85"/>
<circle cx="642.6" cy="30.5" r="0.85"/>
<circle cx="591.9" cy="106.8" r="0.85"/>
<circle cx="635.8" cy="39.7" r="0.85"/>
<circle cx="626.4" cy="53.1" r="0.85"/>
<circle cx="625.0" cy="50.2" r="0.85"/>
<circle cx="607.6" cy="79.1" r="0.85"/>
<circle cx="587.8" cy="112.7" r="0.85"/>
<circle cx="590.2" cy="104.4" r="0.85"/>
<circle cx="630.1" cy="45.2" r="0.85"/>
<circle cx="630.6" cy="41.8" r="0.85"/>
<circle cx="634.9" cy="44.5" r="0.85"/>
<circle cx="637.9" cy="38.3" r="0.85"/>
<circle cx="611.6" cy="75.9" r="0.85"/>
<circle cx="615.5" cy="68.3" r="0.85"/>
<circle cx="621.1" cy="61.1" r="0.85"/>
<circle cx="640.7" cy="29.2" r="0.85"/>
<circle cx="612.5" cy="76.5" r="0.85"/>
<circle cx="615.5" cy="71.0" r="0.85"/>
<circle cx="624.7" cy="52.9" r="0.85"/>
<circle cx="612.5" cy="63.8" r="0.85"/>
<circle cx="588.9" cy="104.0" r="0.85"/>
<circle cx="634.2" cy="39.9" r="0.85"/>
<circle cx="636.3" cy="44.6" r="0.85"/>
<circle cx="623.2" cy="51.3" r="0.85"/>
<circle cx="593.6" cy="104.5" r="0.85"/>
<circle cx="623.2" cy="53.6" r="0.85"/>
<circle cx="638.0" cy="39.7" r="0.85"/>
<circle cx="632.6" cy="41.7" r="0.85"/>
<circle cx="600.1" cy="87.7" r="0.85"/>
<circle cx="615.3" cy="69.0" r="0.85"/>
<circle cx="643.5" cy="32.1" r="0.85"/>
<circle cx="593.6" cy="101.3" r="0.85"/>
<circle cx="607.9" cy="75.5" r="0.85"/>
<circle cx="608.7" cy="82.1" r="0.85"/>
<circle cx="597.8" cy="95.7" r="0.85"/>
<circle cx="613.2" cy="69.4" r="0.85"/>
<circle cx="644.1" cy="36.4" r="0.85"/>
<circle cx="611.4" cy="68.2" r="0.85"/>
<circle cx="603.8" cy="77.6" r="0.85"/>
<circle cx="591.9" cy="102.2" r="0.85"/>
<circle cx="628.7" cy="52.4" r="0.85"/>
<circle cx="608.1" cy="74.4" r="0.85"/>
<circle cx="604.1" cy="90.5" r="0.85"/>
<circle cx="633.0" cy="40.8" r="0.85"/>
<circle cx="633.6" cy="39.6" r="0.85"/>
<circle cx="611.5" cy="81.0" r="0.85"/>
<circle cx="614.7" cy="63.1" r="0.85"/>
<circle cx="631.1" cy="52.8" r="0.85"/>
<circle cx="630.3" cy="45.3" r="0.85"/>
<circle cx="640.4" cy="39.5" r="0.85"/>
<circle cx="641.7" cy="28.6" r="0.85"/>
<circle cx="603.0" cy="81.7" r="0.85"/>
<circle cx="607.8" cy="75.1" r="0.85"/>
<circle cx="613.7" cy="75.7" r="0.85"/>
<circle cx="613.4" cy="80.8" r="0.85"/>
<circle cx="617.3" cy="68.1" r="0.85"/>
<circle cx="641.3" cy="30.2" r="0.85"/>
<circle cx="595.7" cy="100.4" r="0.85"/>
<circle cx="609.6" cy="77.4" r="0.85"/>
<circle cx="642.3" cy="35.6" r="0.85"/>
<circle cx="611.7" cy="69.1" r="0.85"/>
<circle cx="620.3" cy="62.3" r="0.85"/>
<circle cx="614.9" cy="77.2" r="0.85"/>
<circle cx="604.0" cy="83.3" r="0.85"/>
<circle cx="605.8" cy="80.4" r="0.85"/>
<circle cx="641.2" cy="33.9" r="0.85"/>
<circle cx="600.0" cy="91.7" r="0.85"/>
<circle cx="601.2" cy="86.0" r="0.85"/>
<circle cx="609.0" cy="79.1" r="0.85"/>
<circle cx="602.4" cy="87.4" r="0.85"/>
<circle cx="610.6" cy="81.1" r="0.85"/>
<circle cx="610.2" cy="76.1" r="0.85"/>
<circle cx="594.5" cy="96.8" r="0.85"/>
<circle cx="633.4" cy="36.5" r="0.85"/>
<circle cx="595.8" cy="99.5" r="0.85"/>
<circle cx="619.9" cy="64.3" r="0.85"/>
<circle cx="630.7" cy="43.7" r="0.85"/>
<circle cx="618.4" cy="53.0" r="0.85"/>
<circle cx="615.5" cy="77.3" r="0.85"/>
<circle cx="614.9" cy="66.7" r="0.85"/>
<circle cx="634.6" cy="38.8" r="0.85"/>
<circle cx="621.0" cy="56.2" r="0.85"/>
<circle cx="642.0" cy="28.2" r="0.85"/>
<circle cx="644.6" cy="29.6" r="0.85"/>
<circle cx="610.7" cy="71.4" r="0.85"/>
<circle cx="619.9" cy="64.1" r="0.85"/>
<circle cx="644.0" cy="28.5" r="0.85"/>
<circle cx="596.7" cy="100.9" r="0.85"/>
<circle cx="638.6" cy="33.2" r="0.85"/>
<circle cx="588.8" cy="103.8" r="0.85"/>
<circle cx="586.7" cy="116.3" r="0.85"/>
<circle cx="591.6" cy="100.9" r="0.85"/>
<circle cx="596.3" cy="97.7" r="0.85"/>
<circle cx="631.4" cy="55.2" r="0.85"/>
<circle cx="628.7" cy="55.7" r="0.85"/>
<circle cx="588.8" cy="108.8" r="0.85"/>
<circle cx="615.7" cy="66.4" r="0.85"/>
<circle cx="622.4" cy="61.8" r="0.85"/>
<circle cx="590.3" cy="107.9" r="0.85"/>
<circle cx="602.3" cy="94.0" r="0.85"/>
<circle cx="617.1" cy="62.4" r="0.85"/>
<circle cx="628.4" cy="51.8" r="0.85"/>
<circle cx="616.4" cy="65.6" r="0.85"/>
<circle cx="595.0" cy="99.1" r="0.85"/>
<circle cx="600.5" cy="91.0" r="0.85"/>
<circle cx="588.3" cy="107.9" r="0.85"/>
<circle cx="626.3" cy="57.1" r="0.85"/>
<circle cx="639.5" cy="39.9" r="0.85"/>
<circle cx="616.2" cy="63.6" r="0.85"/>
<circle cx="640.3" cy="34.2" r="0.85"/>
<circle cx="635.6" cy="41.6" r="0.85"/>
<circle cx="625.2" cy="55.7" r="0.85"/>
<circle cx="607.4" cy="83.9" r="0.85"/>
<circle cx="611.8" cy="69.9" r="0.85"/>
<circle cx="634.6" cy="43.2" r="0.85"/>
<circle cx="632.4" cy="40.1" r="0.85"/>
<circle cx="603.8" cy="83.2" r="0.85"/>
<circle cx="633.5" cy="45.9" r="0.85"/>
<circle cx="628.7" cy="49.5" r="0.85"/>
<circle cx="628.3" cy="49.7" r="0.85"/>
<circle cx="620.1" cy="61.0" r="0.85"/>
<circle cx="600.1" cy="92.1" r="0.85"/>
<circle cx="628.1" cy="55.7" r="0.85"/>
<circle cx="624.4" cy="55.4" r="0.85"/>
<circle cx="613.1" cy="65.3" r="0.85"/>
<circle cx="588.0" cy="108.6" r="0.85"/>
<circle cx="632.1" cy="37.2" r="0.85"/>
<circle cx="624.4" cy="58.6" r="0.85"/>
<circle cx="592.8" cy="101.3" r="0.85"/>
<circle cx="623.9" cy="53.9" r="0.85"/>
<circle cx="641.5" cy="30.9" r="0.85"/>
<circle cx="644.7" cy="30.8" r="0.85"/>
<circle cx="603.8" cy="82.2" r="0.85"/>
<circle cx="601.1" cy="91.8" r="0.85"/>
<circle cx="601.5" cy="82.5" r="0.85"/>
<circle cx="637.3" cy="33.6" r="0.85"/>
<circle cx="611.9" cy="71.8" r="0.85"/>
<circle cx="626.9" cy="46.4" r="0.85"/>
<circle cx="594.3" cy="100.2" r="0.85"/>
<circle cx="628.1" cy="49.2" r="0.85"/>
<circle cx="604.4" cy="93.3" r="0.85"/>
<circle cx="605.8" cy="78.1" r="0.85"/>
<circle cx="618.6" cy="63.1" r="0.85"/>
<circle cx="641.2" cy="34.1" r="0.85"/>
<circle cx="631.5" cy="52.6" r="0.85"/>
<circle cx="631.1" cy="42.0" r="0.85"/>
<circle cx="609.2" cy="78.9" r="0.85"/>
<circle cx="616.0" cy="67.6" r="0.85"/>
<circle cx="617.5" cy="68.3" r="0.85"/>
<circle cx="596.1" cy="90.7" r="0.85"/>
<circle cx="606.7" cy="81.9" r="0.85"/>
<circle cx="594.0" cy="92.5" r="0.85"/>
<circle cx="598.2" cy="87.9" r="0.85"/>
<circle cx="621.8" cy="54.7" r="0.85"/>
<circle cx="624.2" cy="48.8" r="0.85"/>
<circle cx="607.1" cy="82.4" r="0.85"/>
<circle cx="609.2" cy="85.0" r="0.85"/>
<circle cx="584.8" cy="114.0" r="0.85"/>
<circle cx="605.5" cy="80.6" r="0.85"/>
<circle cx="606.7" cy="80.6" r="0.85"/>
<circle cx="611.5" cy="80.8" r="0.85"/>
<circle cx="610.9" cy="68.0" r="0.85"/>
<circle cx="586.3" cy="113.7" r="0.85"/>
<circle cx="622.8" cy="59.6" r="0.85"/>
<circle cx="624.4" cy="57.6" r="0.85"/>
<circle cx="612.7" cy="77.5" r="0.85"/>
<circle cx="640.8" cy="34.8" r="0.85"/>
<circle cx="622.1" cy="51.5" r="0.85"/>
<circle cx="639.9" cy="34.0" r="0.85"/>
<circle cx="594.1" cy="95.5" r="0.85"/>
<circle cx="645.1" cy="36.7" r="0.85"/>
<circle cx="598.2" cy="90.6" r="0.85"/>
<circle cx="618.9" cy="55.5" r="0.85"/>
<circle cx="627.3" cy="48.7" r="0.85"/>
<circle cx="599.8" cy="90.3" r="0.85"/>
<circle cx="588.2" cy="106.1" r="0.85"/>
<circle cx="623.5" cy="55.2" r="0.85"/>
<circle cx="606.5" cy="71.1" r="0.85"/>
<circle cx="613.3" cy="75.8" r="0.85"/>
<circle cx="615.2" cy="66.8" r="0.85"/>
<circle cx="601.7" cy="90.1" r="0.85"/>
<circle cx="619.8" cy="63.1" r="0.85"/>
<circle cx="640.5" cy="31.3" r="0.85"/>
<circle cx="630.1" cy="53.8" r="0.85"/>
<circle cx="612.9" cy="74.3" r="0.85"/>
<circle cx="620.3" cy="65.6" r="0.85"/>
<circle cx="620.1" cy="64.8" r="0.85"/>
<circle cx="630.3" cy="41.8" r="0.85"/>
<circle cx="628.9" cy="46.2" r="0.85"/>
<circle cx="602.8" cy="91.2" r="0.85"/>
<circle cx="594.4" cy="99.1" r="0.85"/>
<circle cx="593.9" cy="96.8" r="0.85"/>
<circle cx="626.3" cy="57.8" r="0.85"/>
<circle cx="626.6" cy="54.5" r="0.85"/>
<circle cx="620.6" cy="60.6" r="0.85"/>
<circle cx="589.7" cy="102.9" r="0.85"/>
<circle cx="593.0" cy="96.4" r="0.85"/>
<circle cx="605.1" cy="80.6" r="0.85"/>
<circle cx="639.3" cy="30.6" r="0.85"/>
<circle cx="606.7" cy="75.9" r="0.85"/>
<circle cx="627.3" cy="59.7" r="0.85"/>
<circle cx="592.8" cy="101.6" r="0.85"/>
<circle cx="639.6" cy="30.4" r="0.85"/>
<circle cx="626.6" cy="55.7" r="0.85"/>
<circle cx="614.2" cy="61.9" r="0.85"/>
<circle cx="644.1" cy="31.6" r="0.85"/>
<circle cx="636.1" cy="39.8" r="0.85"/>
<circle cx="579.9" cy="111.7" r="0.85"/>
<circle cx="622.9" cy="44.1" r="0.85"/>
<circle cx="639.2" cy="39.4" r="0.85"/>
<circle cx="624.9" cy="57.6" r="0.85"/>
<circle cx="610.9" cy="68.6" r="0.85"/>
<circle cx="598.2" cy="96.6" r="0.85"/>
<circle cx="582.9" cy="105.6" r="0.85"/>
<circle cx="632.4" cy="38.4" r="0.85"/>
<circle cx="626.0" cy="51.1" r="0.85"/>
<circle cx="590.8" cy="112.1" r="0.85"/>
<circle cx="603.2" cy="88.0" r="0.85"/>
<circle cx="607.9" cy="70.6" r="0.85"/>
<circle cx="641.5" cy="35.9" r="0.85"/>
<circle cx="590.9" cy="107.0" r="0.85"/>
<circle cx="601.4" cy="88.6" r="0.85"/>
<circle cx="612.3" cy="73.4" r="0.85"/>
<circle cx="617.1" cy="65.1" r="0.85"/>
<circle cx="590.7" cy="109.6" r="0.85"/>
<circle cx="616.6" cy="62.7" r="0.85"/>
<circle cx="639.4" cy="33.8" r="0.85"/>
<circle cx="591.9" cy="97.8" r="0.85"/>
<circle cx="611.1" cy="76.7" r="0.85"/>
<circle cx="640.6" cy="28.4" r="0.85"/>
<circle cx="613.1" cy="69.6" r="0.85"/>
<circle cx="617.3" cy="72.9" r="0.85"/>
<circle cx="624.7" cy="53.1" r="0.85"/>
<circle cx="595.6" cy="94.8" r="0.85"/>
<circle cx="608.3" cy="77.5" r="0.85"/>
<circle cx="583.5" cy="110.6" r="0.85"/>
<circle cx="620.1" cy="50.9" r="0.85"/>
<circle cx="621.5" cy="59.9" r="0.85"/>
<circle cx="617.7" cy="69.8" r="0.85"/>
<circle cx="613.0" cy="71.7" r="0.85"/>
<circle cx="632.7" cy="47.0" r="0.85"/>
<circle cx="642.8" cy="32.2" r="0.85"/>
<circle cx="583.1" cy="109.2" r="0.85"/>
<circle cx="608.6" cy="84.2" r="0.85"/>
<circle cx="615.9" cy="58.5" r="0.85"/>
<circle cx="620.9" cy="59.6" r="0.85"/>
<circle cx="627.9" cy="48.0" r="0.85"/>
<circle cx="610.9" cy="77.6" r="0.85"/>
<circle cx="624.9" cy="51.4" r="0.85"/>
<circle cx="618.6" cy="59.5" r="0.85"/>
<circle cx="641.1" cy="31.0" r="0.85"/>
<circle cx="629.5" cy="44.3" r="0.85"/>
<circle cx="640.0" cy="36.1" r="0.85"/>
<circle cx="628.3" cy="44.3" r="0.85"/>
<circle cx="589.1" cy="97.3" r="0.85"/>
<circle cx="621.6" cy="56.6" r="0.85"/>
<circle cx="640.6" cy="29.5" r="0.85"/>
<circle cx="640.3" cy="28.8" r="0.85"/>
<circle cx="633.8" cy="46.1" r="0.85"/>
<circle cx="626.1" cy="48.5" r="0.85"/>
<circle cx="611.4" cy="80.0" r="0.85"/>
<circle cx="593.9" cy="96.0" r="0.85"/>
<circle cx="609.9" cy="71.3" r="0.85"/>
<circle cx="621.1" cy="68.1" r="0.85"/>
<circle cx="611.9" cy="72.9" r="0.85"/>
<circle cx="637.8" cy="33.0" r="0.85"/>
<circle cx="624.9" cy="53.3" r="0.85"/>
<circle cx="635.3" cy="45.2" r="0.85"/>
<circle cx="625.1" cy="51.1" r="0.85"/>
<circle cx="613.9" cy="75.1" r="0.85"/>
<circle cx="593.5" cy="100.9" r="0.85"/>
<circle cx="639.4" cy="30.9" r="0.85"/>
<circle cx="632.4" cy="48.8" r="0.85"/>
<circle cx="598.5" cy="94.4" r="0.85"/>
<circle cx="588.7" cy="103.2" r="0.85"/>
<circle cx="619.6" cy="55.0" r="0.85"/>
<circle cx="617.0" cy="71.8" r="0.85"/>
<circle cx="591.9" cy="103.0" r="0.85"/>
<circle cx="617.3" cy="66.0" r="0.85"/>
<circle cx="631.0" cy="49.9" r="0.85"/>
<circle cx="616.9" cy="67.6" r="0.85"/>
<circle cx="642.8" cy="38.1" r="0.85"/>
<circle cx="624.6" cy="54.0" r="0.85"/>
<circle cx="622.3" cy="59.8" r="0.85"/>
<circle cx="599.4" cy="97.0" r="0.85"/>
<circle cx="607.1" cy="83.0" r="0.85"/>
<circle cx="627.8" cy="46.3" r="0.85"/>
<circle cx="615.2" cy="68.0" r="0.85"/>
<circle cx="624.0" cy="61.2" r="0.85"/>
<circle cx="605.0" cy="89.9" r="0.85"/>
<circle cx="593.2" cy="90.3" r="0.85"/>
<circle cx="603.1" cy="88.5" r="0.85"/>
<circle cx="597.9" cy="87.3" r="0.85"/>
<circle cx="622.7" cy="58.8" r="0.85"/>
<circle cx="626.4" cy="61.2" r="0.85"/>
<circle cx="619.3" cy="65.3" r="0.85"/>
<circle cx="617.8" cy="68.9" r="0.85"/>
<circle cx="610.0" cy="77.4" r="0.85"/>
<circle cx="629.8" cy="50.7" r="0.85"/>
<circle cx="641.8" cy="34.4" r="0.85"/>
<circle cx="631.1" cy="41.5" r="0.85"/>
<circle cx="595.2" cy="99.0" r="0.85"/>
<circle cx="585.3" cy="117.6" r="0.85"/>
<circle cx="590.8" cy="104.0" r="0.85"/>
<circle cx="596.8" cy="92.3" r="0.85"/>
<circle cx="611.7" cy="74.2" r="0.85"/>
<circle cx="637.6" cy="36.6" r="0.85"/>
<circle cx="604.0" cy="80.6" r="0.85"/>
<circle cx="592.5" cy="99.0" r="0.85"/>
<circle cx="587.6" cy="53.5" r="0.85"/>
<circle cx="585.9" cy="44.4" r="0.85"/>
<circle cx="566.8" cy="63.9" r="0.85"/>
<circle cx="587.6" cy="55.6" r="0.85"/>
<circle cx="580.7" cy="56.5" r="0.85"/>
<circle cx="585.1" cy="48.9" r="0.85"/>
<circle cx="584.2" cy="51.1" r="0.85"/>
<circle cx="599.0" cy="53.3" r="0.85"/>
<circle cx="586.8" cy="60.0" r="0.85"/>
<circle cx="591.6" cy="58.4" r="0.85"/>
<circle cx="579.0" cy="57.5" r="0.85"/>
<circle cx="590.2" cy="54.9" r="0.85"/>
<circle cx="583.6" cy="52.4" r="0.85"/>
<circle cx="586.7" cy="62.0" r="0.85"/>
<circle cx="573.0" cy="51.0" r="0.85"/>
<circle cx="572.8" cy="50.1" r="0.85"/>
<circle cx="595.2" cy="62.4" r="0.85"/>
<circle cx="587.2" cy="55.0" r="0.85"/>
<circle cx="594.9" cy="58.1" r="0.85"/>
<circle cx="567.1" cy="59.5" r="0.85"/>
<circle cx="600.6" cy="48.8" r="0.85"/>
<circle cx="577.6" cy="53.8" r="0.85"/>
<circle cx="594.3" cy="50.3" r="0.85"/>
<circle cx="588.2" cy="60.7" r="0.85"/>
<circle cx="584.9" cy="55.3" r="0.85"/>
<circle cx="574.4" cy="51.4" r="0.85"/>
<circle cx="589.6" cy="47.0" r="0.85"/>
<circle cx="592.9" cy="59.7" r="0.85"/>
<circle cx="594.1" cy="51.7" r="0.85"/>
<circle cx="577.6" cy="57.6" r="0.85"/>
<circle cx="593.6" cy="55.7" r="0.85"/>
<circle cx="586.8" cy="54.0" r="0.85"/>
<circle cx="587.6" cy="44.0" r="0.85"/>
<circle cx="577.2" cy="65.5" r="0.85"/>
<circle cx="587.9" cy="58.1" r="0.85"/>
<circle cx="568.8" cy="55.0" r="0.85"/>
<circle cx="580.3" cy="55.8" r="0.85"/>
<circle cx="591.3" cy="50.4" r="0.85"/>
<circle cx="583.5" cy="51.7" r="0.85"/>
<circle cx="582.4" cy="57.8" r="0.85"/>
<circle cx="587.8" cy="59.7" r="0.85"/>
<circle cx="575.6" cy="61.8" r="0.85"/>
<circle cx="585.7" cy="50.7" r="0.85"/>
<circle cx="592.0" cy="49.7" r="0.85"/>
<circle cx="581.6" cy="58.9" r="0.85"/>
<circle cx="593.2" cy="50.8" r="0.85"/>
<circle cx="594.7" cy="54.7" r="0.85"/>
<circle cx="579.0" cy="60.6" r="0.85"/>
<circle cx="583.1" cy="51.8" r="0.85"/>
<circle cx="584.1" cy="62.0" r="0.85"/>
<circle cx="585.7" cy="53.6" r="0.85"/>
<circle cx="587.5" cy="47.0" r="0.85"/>
<circle cx="590.0" cy="60.9" r="0.85"/>
<circle cx="573.8" cy="52.3" r="0.85"/>
<circle cx="577.1" cy="56.1" r="0.85"/>
<circle cx="578.1" cy="56.9" r="0.85"/>
<circle cx="576.8" cy="58.8" r="0.85"/>
<circle cx="588.2" cy="56.7" r="0.85"/>
<circle cx="580.6" cy="60.8" r="0.85"/>
<circle cx="571.6" cy="55.2" r="0.85"/>
<circle cx="584.7" cy="62.0" r="0.85"/>
<circle cx="581.6" cy="59.3" r="0.85"/>
<circle cx="597.9" cy="62.2" r="0.85"/>
<circle cx="594.9" cy="48.3" r="0.85"/>
<circle cx="586.1" cy="57.5" r="0.85"/>
<circle cx="589.0" cy="56.8" r="0.85"/>
<circle cx="582.8" cy="56.0" r="0.85"/>
<circle cx="574.7" cy="61.7" r="0.85"/>
<circle cx="585.1" cy="52.0" r="0.85"/>
<circle cx="596.4" cy="52.1" r="0.85"/>
<circle cx="579.7" cy="59.7" r="0.85"/>
<circle cx="587.6" cy="57.9" r="0.85"/>
<circle cx="584.0" cy="59.5" r="0.85"/>
<circle cx="586.1" cy="61.3" r="0.85"/>
<circle cx="584.8" cy="50.9" r="0.85"/>
<circle cx="577.1" cy="60.3" r="0.85"/>
<circle cx="588.3" cy="46.5" r="0.85"/>
<circle cx="587.9" cy="54.0" r="0.85"/>
<circle cx="584.5" cy="51.0" r="0.85"/>
<circle cx="574.9" cy="54.8" r="0.85"/>
<circle cx="577.3" cy="55.0" r="0.85"/>
<circle cx="584.4" cy="55.6" r="0.85"/>
<circle cx="595.8" cy="47.3" r="0.85"/>
<circle cx="580.6" cy="56.9" r="0.85"/>
<circle cx="586.6" cy="49.3" r="0.85"/>
<circle cx="573.7" cy="59.6" r="0.85"/>
<circle cx="587.1" cy="57.7" r="0.85"/>
<circle cx="586.2" cy="46.7" r="0.85"/>
<circle cx="591.0" cy="52.9" r="0.85"/>
<circle cx="598.0" cy="49.6" r="0.85"/>
<circle cx="568.1" cy="59.1" r="0.85"/>
<circle cx="585.4" cy="56.7" r="0.85"/>
<circle cx="584.4" cy="52.5" r="0.85"/>
<circle cx="571.5" cy="57.9" r="0.85"/>
<circle cx="580.4" cy="52.9" r="0.85"/>
<circle cx="583.6" cy="53.9" r="0.85"/>
<circle cx="568.1" cy="55.3" r="0.85"/>
<circle cx="577.3" cy="55.9" r="0.85"/>
<circle cx="595.1" cy="52.2" r="0.85"/>
<circle cx="584.7" cy="44.1" r="0.85"/>
<circle cx="591.5" cy="50.6" r="0.85"/>
<circle cx="585.9" cy="49.2" r="0.85"/>
<circle cx="584.4" cy="59.6" r="0.85"/>
<circle cx="583.7" cy="56.7" r="0.85"/>
<circle cx="577.2" cy="53.5" r="0.85"/>
<circle cx="585.3" cy="54.1" r="0.85"/>
<circle cx="583.6" cy="52.0" r="0.85"/>
<circle cx="581.8" cy="60.0" r="0.85"/>
<circle cx="593.1" cy="50.9" r="0.85"/>
<circle cx="579.1" cy="57.4" r="0.85"/>
<circle cx="590.5" cy="55.1" r="0.85"/>
<circle cx="591.0" cy="52.5" r="0.85"/>
<circle cx="574.3" cy="48.1" r="0.85"/>
<circle cx="589.9" cy="55.2" r="0.85"/>
<circle cx="579.5" cy="58.5" r="0.85"/>
<circle cx="576.7" cy="62.8" r="0.85"/>
<circle cx="592.4" cy="59.3" r="0.85"/>
<circle cx="582.3" cy="63.4" r="0.85"/>
<circle cx="591.5" cy="61.8" r="0.85"/>
<circle cx="572.8" cy="63.3" r="0.85"/>
<circle cx="592.5" cy="51.6" r="0.85"/>
<circle cx="590.5" cy="54.3" r="0.85"/>
<circle cx="593.6" cy="51.6" r="0.85"/>
<circle cx="582.4" cy="49.7" r="0.85"/>
<circle cx="597.1" cy="47.6" r="0.85"/>
<circle cx="575.0" cy="53.1" r="0.85"/>
<circle cx="584.3" cy="55.7" r="0.85"/>
<circle cx="588.8" cy="62.4" r="0.85"/>
<circle cx="588.7" cy="46.5" r="0.85"/>
<circle cx="584.6" cy="54.3" r="0.85"/>
<circle cx="589.2" cy="54.7" r="0.85"/>
<circle cx="593.3" cy="53.7" r="0.85"/>
<circle cx="596.3" cy="47.1" r="0.85"/>
<circle cx="593.1" cy="57.8" r="0.85"/>
<circle cx="576.7" cy="50.4" r="0.85"/>
<circle cx="579.5" cy="58.7" r="0.85"/>
<circle cx="593.4" cy="45.2" r="0.85"/>
<circle cx="580.0" cy="49.9" r="0.85"/>
<circle cx="589.4" cy="54.8" r="0.85"/>
<circle cx="584.9" cy="59.1" r="0.85"/>
<circle cx="587.7" cy="62.2" r="0.85"/>
<circle cx="580.8" cy="53.2" r="0.85"/>
<circle cx="583.7" cy="55.4" r="0.85"/>
<circle cx="592.2" cy="51.2" r="0.85"/>
<circle cx="579.0" cy="53.2" r="0.85"/>
<circle cx="575.6" cy="47.3" r="0.85"/>
<circle cx="585.3" cy="57.8" r="0.85"/>
<circle cx="583.8" cy="51.5" r="0.85"/>
<circle cx="591.1" cy="57.3" r="0.85"/>
<circle cx="586.3" cy="58.2" r="0.85"/>
<circle cx="583.4" cy="57.7" r="0.85"/>
<circle cx="585.8" cy="48.6" r="0.85"/>
<circle cx="579.1" cy="53.0" r="0.85"/>
<circle cx="583.0" cy="42.1" r="0.85"/>
<circle cx="585.6" cy="54.9" r="0.85"/>
<circle cx="582.9" cy="57.8" r="0.85"/>
<circle cx="573.3" cy="59.5" r="0.85"/>
<circle cx="577.4" cy="54.0" r="0.85"/>
<circle cx="592.9" cy="51.3" r="0.85"/>
<circle cx="591.1" cy="53.3" r="0.85"/>
<circle cx="581.0" cy="54.2" r="0.85"/>
<circle cx="572.9" cy="56.6" r="0.85"/>
<circle cx="586.5" cy="62.2" r="0.85"/>
<circle cx="590.0" cy="58.2" r="0.85"/>
<circle cx="576.1" cy="53.7" r="0.85"/>
<circle cx="586.9" cy="57.4" r="0.85"/>
<circle cx="577.4" cy="62.7" r="0.85"/>
<circle cx="579.4" cy="58.1" r="0.85"/>
<circle cx="581.2" cy="60.0" r="0.85"/>
<circle cx="591.1" cy="58.9" r="0.85"/>
<circle cx="577.4" cy="58.0" r="0.85"/>
<circle cx="599.6" cy="51.3" r="0.85"/>
<circle cx="587.1" cy="55.3" r="0.85"/>
<circle cx="582.3" cy="65.0" r="0.85"/>
<circle cx="593.9" cy="49.2" r="0.85"/>
<circle cx="589.7" cy="63.7" r="0.85"/>
<circle cx="587.1" cy="55.1" r="0.85"/>
<circle cx="591.7" cy="57.8" r="0.85"/>
<circle cx="574.0" cy="53.9" r="0.85"/>
<circle cx="594.2" cy="49.7" r="0.85"/>
<circle cx="582.5" cy="52.5" r="0.85"/>
<circle cx="595.6" cy="45.8" r="0.85"/>
<circle cx="584.4" cy="53.3" r="0.85"/>
<circle cx="579.9" cy="50.1" r="0.85"/>
<circle cx="577.7" cy="56.1" r="0.85"/>
<circle cx="583.0" cy="46.0" r="0.85"/>
<circle cx="583.1" cy="51.1" r="0.85"/>
<circle cx="582.7" cy="53.4" r="0.85"/>
<circle cx="582.4" cy="54.6" r="0.85"/>
<circle cx="586.9" cy="54.7" r="0.85"/>
<circle cx="568.4" cy="46.9" r="0.85"/>
<circle cx="573.7" cy="59.7" r="0.85"/>
<circle cx="570.3" cy="53.7" r="0.85"/>
<circle cx="596.2" cy="50.2" r="0.85"/>
<circle cx="582.6" cy="57.6" r="0.85"/>
<circle cx="587.4" cy="51.7" r="0.85"/>
<circle cx="581.6" cy="45.3" r="0.85"/>
<circle cx="586.6" cy="57.7" r="0.85"/>
<circle cx="572.4" cy="63.3" r="0.85"/>
<circle cx="593.7" cy="39.2" r="0.85"/>
<circle cx="583.9" cy="62.8" r="0.85"/>
<circle cx="587.5" cy="50.7" r="0.85"/>
<circle cx="578.6" cy="54.8" r="0.85"/>
<circle cx="587.2" cy="49.9" r="0.85"/>
<circle cx="573.1" cy="59.0" r="0.85"/>
<circle cx="580.2" cy="65.3" r="0.85"/>
<circle cx="576.4" cy="58.8" r="0.85"/>
<circle cx="579.9" cy="48.6" r="0.85"/>
<circle cx="577.1" cy="46.6" r="0.85"/>
<circle cx="584.9" cy="50.0" r="0.85"/>
<circle cx="572.4" cy="50.0" r="0.85"/>
<circle cx="594.2" cy="55.4" r="0.85"/>
<circle cx="576.0" cy="56.6" r="0.85"/>
<circle cx="588.6" cy="57.1" r="0.85"/>
<circle cx="580.7" cy="45.1" r="0.85"/>
<circle cx="595.4" cy="51.6" r="0.85"/>
<circle cx="591.7" cy="46.4" r="0.85"/>
<circle cx="590.9" cy="60.6" r="0.85"/>
<circle cx="590.1" cy="47.1" r="0.85"/>
<circle cx="583.7" cy="63.7" r="0.85"/>
<circle cx="578.5" cy="60.5" r="0.85"/>
<circle cx="580.2" cy="48.4" r="0.85"/>
<circle cx="591.8" cy="59.1" r="0.85"/>
<circle cx="588.4" cy="55.5" r="0.85"/>
<circle cx="588.1" cy="43.7" r="0.85"/>
<circle cx="585.5" cy="64.1" r="0.85"/>
<circle cx="588.4" cy="59.9" r="0.85"/>
<circle cx="582.2" cy="57.7" r="0.85"/>
<circle cx="575.8" cy="60.3" r="0.85"/>
<circle cx="585.0" cy="53.1" r="0.85"/>
<circle cx="583.5" cy="56.0" r="0.85"/>
<circle cx="586.0" cy="58.9" r="0.85"/>
<circle cx="587.9" cy="42.8" r="0.85"/>
<circle cx="586.8" cy="60.6" r="0.85"/>
<circle cx="574.9" cy="56.9" r="0.85"/>
<circle cx="599.8" cy="47.8" r="0.85"/>
<circle cx="591.0" cy="54.8" r="0.85"/>
<circle cx="572.8" cy="57.0" r="0.85"/>
<circle cx="569.9" cy="57.3" r="0.85"/>
<circle cx="590.9" cy="57.0" r="0.85"/>
<circle cx="584.9" cy="52.2" r="0.85"/>
<circle cx="589.8" cy="60.4" r="0.85"/>
<circle cx="590.4" cy="59.0" r="0.85"/>
<circle cx="587.4" cy="56.9" r="0.85"/>
<circle cx="579.1" cy="64.8" r="0.85"/>
<circle cx="574.7" cy="53.1" r="0.85"/>
<circle cx="577.5" cy="53.2" r="0.85"/>
<circle cx="592.9" cy="51.9" r="0.85"/>
<circle cx="581.3" cy="54.6" r="0.85"/>
<circle cx="585.3" cy="62.2" r="0.85"/>
<circle cx="593.8" cy="50.4" r="0.85"/>
<circle cx="596.7" cy="55.2" r="0.85"/>
<circle cx="587.5" cy="61.5" r="0.85"/>
<circle cx="584.9" cy="56.9" r="0.85"/>
<circle cx="583.2" cy="49.4" r="0.85"/>
<circle cx="573.3" cy="53.1" r="0.85"/>
<circle cx="576.5" cy="54.3" r="0.85"/>
<circle cx="581.1" cy="62.1" r="0.85"/>
<circle cx="584.7" cy="59.4" r="0.85"/>
<circle cx="584.8" cy="50.6" r="0.85"/>
<circle cx="579.5" cy="48.6" r="0.85"/>
<circle cx="571.6" cy="60.7" r="0.85"/>
<circle cx="583.3" cy="56.0" r="0.85"/>
<circle cx="588.7" cy="46.8" r="0.85"/>
<circle cx="579.3" cy="44.6" r="0.85"/>
<circle cx="577.9" cy="60.1" r="0.85"/>
<circle cx="570.6" cy="51.9" r="0.85"/>
<circle cx="583.4" cy="64.4" r="0.85"/>
<circle cx="588.6" cy="53.0" r="0.85"/>
<circle cx="587.9" cy="54.7" r="0.85"/>
<circle cx="579.7" cy="53.6" r="0.85"/>
<circle cx="586.3" cy="54.0" r="0.85"/>
<circle cx="588.1" cy="51.2" r="0.85"/>
<circle cx="588.7" cy="51.8" r="0.85"/>
<circle cx="593.1" cy="58.1" r="0.85"/>
<circle cx="581.3" cy="68.2" r="0.85"/>
<circle cx="585.0" cy="51.4" r="0.85"/>
<circle cx="574.5" cy="58.3" r="0.85"/>
<circle cx="583.3" cy="51.4" r="0.85"/>
<circle cx="574.8" cy="55.2" r="0.85"/>
<circle cx="574.7" cy="54.2" r="0.85"/>
<circle cx="577.5" cy="59.3" r="0.85"/>
<circle cx="567.7" cy="70.3" r="0.85"/>
<circle cx="580.0" cy="56.1" r="0.85"/>
<circle cx="575.2" cy="63.4" r="0.85"/>
<circle cx="581.8" cy="54.0" r="0.85"/>
<circle cx="577.5" cy="60.2" r="0.85"/>
<circle cx="585.8" cy="51.4" r="0.85"/>
<circle cx="593.7" cy="47.8" r="0.85"/>
<circle cx="592.1" cy="54.0" r="0.85"/>
<circle cx="573.1" cy="56.7" r="0.85"/>
<circle cx="586.6" cy="52.3" r="0.85"/>
<circle cx="583.8" cy="54.8" r="0.85"/>
<circle cx="585.4" cy="51.4" r="0.85"/>
<circle cx="597.0" cy="53.5" r="0.85"/>
<circle cx="593.6" cy="51.4" r="0.85"/>
<circle cx="583.4" cy="50.2" r="0.85"/>
<circle cx="585.6" cy="62.9" r="0.85"/>
<circle cx="584.6" cy="51.2" r="0.85"/>
<circle cx="580.2" cy="59.4" r="0.85"/>
<circle cx="584.8" cy="65.9" r="0.85"/>
<circle cx="585.0" cy="55.1" r="0.85"/>
<circle cx="590.8" cy="62.2" r="0.85"/>
<circle cx="571.5" cy="54.9" r="0.85"/>
<circle cx="575.8" cy="46.9" r="0.85"/>
<circle cx="582.1" cy="55.3" r="0.85"/>
<circle cx="590.3" cy="57.0" r="0.85"/>
<circle cx="588.9" cy="57.2" r="0.85"/>
<circle cx="584.1" cy="70.6" r="0.85"/>
<circle cx="593.6" cy="51.0" r="0.85"/>
<circle cx="577.6" cy="59.7" r="0.85"/>
<circle cx="591.3" cy="55.9" r="0.85"/>
<circle cx="590.3" cy="58.9" r="0.85"/>
<circle cx="585.2" cy="50.1" r="0.85"/>
<circle cx="577.5" cy="47.6" r="0.85"/>
<circle cx="589.3" cy="51.0" r="0.85"/>
<circle cx="587.5" cy="65.7" r="0.85"/>
<circle cx="577.7" cy="57.1" r="0.85"/>
<circle cx="575.2" cy="47.9" r="0.85"/>
<circle cx="590.4" cy="53.1" r="0.85"/>
<circle cx="593.7" cy="105.7" r="0.85"/>
<circle cx="592.7" cy="105.9" r="0.85"/>
<circle cx="585.8" cy="93.5" r="0.85"/>
<circle cx="590.1" cy="100.8" r="0.85"/>
<circle cx="609.4" cy="108.3" r="0.85"/>
<circle cx="597.3" cy="113.1" r="0.85"/>
<circle cx="593.3" cy="104.5" r="0.85"/>
<circle cx="587.8" cy="99.8" r="0.85"/>
<circle cx="584.9" cy="107.3" r="0.85"/>
<circle cx="597.0" cy="112.2" r="0.85"/>
<circle cx="584.6" cy="97.5" r="0.85"/>
<circle cx="595.6" cy="108.5" r="0.85"/>
<circle cx="585.9" cy="108.9" r="0.85"/>
<circle cx="581.3" cy="97.4" r="0.85"/>
<circle cx="587.4" cy="95.7" r="0.85"/>
<circle cx="592.0" cy="98.4" r="0.85"/>
<circle cx="585.5" cy="104.2" r="0.85"/>
<circle cx="583.2" cy="93.6" r="0.85"/>
<circle cx="585.2" cy="105.1" r="0.85"/>
<circle cx="594.0" cy="102.3" r="0.85"/>
<circle cx="576.4" cy="100.8" r="0.85"/>
<circle cx="585.9" cy="101.4" r="0.85"/>
<circle cx="576.8" cy="94.0" r="0.85"/>
<circle cx="578.1" cy="99.2" r="0.85"/>
<circle cx="576.0" cy="86.1" r="0.85"/>
<circle cx="581.5" cy="103.6" r="0.85"/>
<circle cx="580.1" cy="107.4" r="0.85"/>
<circle cx="574.0" cy="98.3" r="0.85"/>
<circle cx="596.6" cy="109.8" r="0.85"/>
<circle cx="598.5" cy="107.4" r="0.85"/>
<circle cx="592.0" cy="97.2" r="0.85"/>
<circle cx="570.3" cy="93.6" r="0.85"/>
<circle cx="584.4" cy="111.6" r="0.85"/>
<circle cx="589.3" cy="102.5" r="0.85"/>
<circle cx="583.5" cy="104.4" r="0.85"/>
<circle cx="591.8" cy="110.3" r="0.85"/>
<circle cx="572.7" cy="92.7" r="0.85"/>
<circle cx="595.7" cy="109.9" r="0.85"/>
<circle cx="576.8" cy="101.5" r="0.85"/>
<circle cx="581.2" cy="103.7" r="0.85"/>
<circle cx="586.7" cy="100.8" r="0.85"/>
<circle cx="583.7" cy="98.8" r="0.85"/>
<circle cx="600.1" cy="105.4" r="0.85"/>
<circle cx="587.8" cy="107.0" r="0.85"/>
<circle cx="589.9" cy="101.5" r="0.85"/>
<circle cx="591.4" cy="104.2" r="0.85"/>
<circle cx="582.5" cy="100.1" r="0.85"/>
<circle cx="591.6" cy="108.5" r="0.85"/>
<circle cx="572.9" cy="96.3" r="0.85"/>
<circle cx="582.8" cy="101.7" r="0.85"/>
<circle cx="597.7" cy="102.8" r="0.85"/>
<circle cx="594.7" cy="112.0" r="0.85"/>
<circle cx="600.5" cy="107.3" r="0.85"/>
<circle cx="591.6" cy="107.0" r="0.85"/>
<circle cx="601.6" cy="105.8" r="0.85"/>
<circle cx="584.6" cy="107.3" r="0.85"/>
<circle cx="586.7" cy="100.6" r="0.85"/>
<circle cx="583.9" cy="104.6" r="0.85"/>
<circle cx="602.8" cy="110.1" r="0.85"/>
<circle cx="596.1" cy="106.4" r="0.85"/>
<circle cx="569.0" cy="93.3" r="0.85"/>
<circle cx="571.8" cy="91.2" r="0.85"/>
<circle cx="563.6" cy="90.0" r="0.85"/>
<circle cx="587.2" cy="89.9" r="0.85"/>
<circle cx="564.4" cy="123.6" r="0.85"/>
<circle cx="574.7" cy="95.2" r="0.85"/>
<circle cx="563.1" cy="85.7" r="0.85"/>
<circle cx="570.6" cy="87.7" r="0.85"/>
<circle cx="566.2" cy="99.6" r="0.85"/>
<circle cx="564.3" cy="106.6" r="0.85"/>
<circle cx="571.9" cy="83.6" r="0.85"/>
<circle cx="563.0" cy="95.0" r="0.85"/>
<circle cx="574.1" cy="68.5" r="0.85"/>
<circle cx="581.7" cy="86.5" r="0.85"/>
<circle cx="563.1" cy="107.7" r="0.85"/>
<circle cx="565.8" cy="76.9" r="0.85"/>
<circle cx="563.7" cy="76.1" r="0.85"/>
<circle cx="570.3" cy="73.9" r="0.85"/>
<circle cx="573.5" cy="74.7" r="0.85"/>
<circle cx="571.2" cy="56.8" r="0.85"/>
<circle cx="568.7" cy="88.4" r="0.85"/>
<circle cx="575.4" cy="84.2" r="0.85"/>
<circle cx="572.4" cy="94.4" r="0.85"/>
<circle cx="566.7" cy="97.4" r="0.85"/>
<circle cx="573.5" cy="81.6" r="0.85"/>
<circle cx="564.6" cy="107.9" r="0.85"/>
<circle cx="578.1" cy="92.3" r="0.85"/>
<circle cx="578.1" cy="110.7" r="0.85"/>
<circle cx="571.0" cy="97.9" r="0.85"/>
<circle cx="575.1" cy="96.7" r="0.85"/>
<circle cx="596.7" cy="83.1" r="0.85"/>
<circle cx="602.2" cy="84.4" r="0.85"/>
<circle cx="605.0" cy="83.7" r="0.85"/>
<circle cx="592.0" cy="79.2" r="0.85"/>
<circle cx="601.4" cy="86.4" r="0.85"/>
<circle cx="595.0" cy="82.0" r="0.85"/>
<circle cx="590.0" cy="86.7" r="0.85"/>
<circle cx="610.1" cy="91.8" r="0.85"/>
<circle cx="601.4" cy="89.5" r="0.85"/>
<circle cx="603.9" cy="91.7" r="0.85"/>
<circle cx="599.4" cy="85.4" r="0.85"/>
<circle cx="596.1" cy="81.3" r="0.85"/>
<circle cx="605.1" cy="90.6" r="0.85"/>
<circle cx="591.9" cy="83.6" r="0.85"/>
<circle cx="605.4" cy="86.6" r="0.85"/>
<circle cx="593.7" cy="83.1" r="0.85"/>
<circle cx="611.8" cy="93.0" r="0.85"/>
<circle cx="599.9" cy="80.6" r="0.85"/>
<circle cx="598.4" cy="85.6" r="0.85"/>
<circle cx="599.0" cy="89.6" r="0.85"/>
<circle cx="605.8" cy="90.4" r="0.85"/>
<circle cx="600.6" cy="87.9" r="0.85"/>
<circle cx="595.4" cy="83.7" r="0.85"/>
<circle cx="596.5" cy="77.4" r="0.85"/>
<circle cx="602.1" cy="86.9" r="0.85"/>
<circle cx="604.3" cy="82.5" r="0.85"/>
<circle cx="600.9" cy="87.0" r="0.85"/>
<circle cx="605.7" cy="83.9" r="0.85"/>
<circle cx="615.1" cy="93.7" r="0.85"/>
<circle cx="605.9" cy="91.8" r="0.85"/>
<circle cx="606.7" cy="92.2" r="0.85"/>
<circle cx="604.7" cy="86.8" r="0.85"/>
<circle cx="602.0" cy="85.6" r="0.85"/>
<circle cx="588.1" cy="85.4" r="0.85"/>
<circle cx="603.5" cy="81.2" r="0.85"/>
<circle cx="603.6" cy="87.9" r="0.85"/>
<circle cx="602.5" cy="84.0" r="0.85"/>
<circle cx="605.4" cy="85.7" r="0.85"/>
<circle cx="600.2" cy="86.9" r="0.85"/>
<circle cx="595.6" cy="78.9" r="0.85"/>
<circle cx="595.2" cy="81.5" r="0.85"/>
<circle cx="589.7" cy="78.6" r="0.85"/>
<circle cx="596.0" cy="81.9" r="0.85"/>
<circle cx="599.2" cy="81.3" r="0.85"/>
<circle cx="610.0" cy="86.0" r="0.85"/>
<circle cx="612.0" cy="95.7" r="0.85"/>
<circle cx="602.6" cy="86.5" r="0.85"/>
<circle cx="597.5" cy="87.1" r="0.85"/>
<circle cx="590.7" cy="80.5" r="0.85"/>
<circle cx="606.9" cy="93.2" r="0.85"/>
<circle cx="598.9" cy="85.9" r="0.85"/>
<circle cx="595.8" cy="84.5" r="0.85"/>
<circle cx="598.1" cy="85.4" r="0.85"/>
<circle cx="605.1" cy="88.6" r="0.85"/>
<circle cx="598.6" cy="84.4" r="0.85"/>
<circle cx="602.1" cy="89.1" r="0.85"/>
<circle cx="598.1" cy="82.6" r="0.85"/>
<circle cx="596.3" cy="88.0" r="0.85"/>
<circle cx="605.9" cy="95.5" r="0.85"/>
<circle cx="607.6" cy="90.4" r="0.85"/>
<circle cx="604.6" cy="89.1" r="0.85"/>
<circle cx="607.1" cy="85.2" r="0.85"/>
<circle cx="588.2" cy="80.0" r="0.85"/>
<circle cx="599.7" cy="86.7" r="0.85"/>
<circle cx="585.3" cy="78.5" r="0.85"/>
<circle cx="597.2" cy="85.2" r="0.85"/>
<circle cx="595.4" cy="87.7" r="0.85"/>
<circle cx="592.5" cy="77.9" r="0.85"/>
<circle cx="598.3" cy="83.9" r="0.85"/>
<circle cx="600.9" cy="85.3" r="0.85"/>
</g>
<clipPath id="cp2"><rect x="548.4" y="26.2" width="106.3" height="106.5"/></clipPath><g clip-path="url(#cp2)">
<ellipse cx="623.5" cy="52.5" rx="34.3" ry="3.3" transform="rotate(-53.3 623.5 52.5)" fill="#3F62CC"/>
<ellipse cx="625.1" cy="50.3" rx="28.1" ry="2.5" transform="rotate(-53.3 625.1 50.3)" fill="#46B4E2"/>
<ellipse cx="624.7" cy="50.9" rx="22.0" ry="1.9" transform="rotate(-53.3 624.7 50.9)" fill="#74D36C"/>
<ellipse cx="624.3" cy="51.4" rx="15.8" ry="1.4" transform="rotate(-53.3 624.3 51.4)" fill="#E6DE3E"/>
<ellipse cx="624.3" cy="51.4" rx="12.3" ry="1.1" transform="rotate(-53.3 624.3 51.4)" fill="#F28A2A"/>
<ellipse cx="624.3" cy="51.4" rx="9.6" ry="0.8" transform="rotate(-53.3 624.3 51.4)" fill="#E02A1E"/>
</g>
<rect x="548.4" y="26.2" width="106.3" height="106.5" fill="none" stroke="#111" stroke-width="1.3"/>
<polygon points="557.2,34.3 614.5,34.3 582.2,114.5 557.2,114.5" fill="none" stroke="#111" stroke-width="1.2"/>
<text x="601.5" y="22.2" font-size="12" text-anchor="middle" stroke="#111">shRRN3#1</text>
<text x="558.0" y="43.5" font-size="9.3" fill="#222" stroke="#222">TRT(-)</text>
<text x="558.0" y="54.2" font-size="9.3" fill="#222" stroke="#222">4.58</text>
<line x1="547.2" y1="130.5" x2="548.4" y2="130.5" stroke="#111" stroke-width="0.8"/>
<line x1="547.2" y1="126.0" x2="548.4" y2="126.0" stroke="#111" stroke-width="0.8"/>
<line x1="547.2" y1="122.5" x2="548.4" y2="122.5" stroke="#111" stroke-width="0.8"/>
<line x1="547.2" y1="119.7" x2="548.4" y2="119.7" stroke="#111" stroke-width="0.8"/>
<line x1="547.2" y1="117.3" x2="548.4" y2="117.3" stroke="#111" stroke-width="0.8"/>
<line x1="547.2" y1="115.2" x2="548.4" y2="115.2" stroke="#111" stroke-width="0.8"/>
<line x1="547.2" y1="113.3" x2="548.4" y2="113.3" stroke="#111" stroke-width="0.8"/>
<line x1="546.2" y1="111.7" x2="548.4" y2="111.7" stroke="#111" stroke-width="0.8"/>
<line x1="547.2" y1="100.9" x2="548.4" y2="100.9" stroke="#111" stroke-width="0.8"/>
<line x1="547.2" y1="94.6" x2="548.4" y2="94.6" stroke="#111" stroke-width="0.8"/>
<line x1="547.2" y1="90.1" x2="548.4" y2="90.1" stroke="#111" stroke-width="0.8"/>
<line x1="547.2" y1="86.6" x2="548.4" y2="86.6" stroke="#111" stroke-width="0.8"/>
<line x1="547.2" y1="83.8" x2="548.4" y2="83.8" stroke="#111" stroke-width="0.8"/>
<line x1="547.2" y1="81.4" x2="548.4" y2="81.4" stroke="#111" stroke-width="0.8"/>
<line x1="547.2" y1="79.3" x2="548.4" y2="79.3" stroke="#111" stroke-width="0.8"/>
<line x1="547.2" y1="77.4" x2="548.4" y2="77.4" stroke="#111" stroke-width="0.8"/>
<line x1="546.2" y1="75.8" x2="548.4" y2="75.8" stroke="#111" stroke-width="0.8"/>
<line x1="547.2" y1="65.0" x2="548.4" y2="65.0" stroke="#111" stroke-width="0.8"/>
<line x1="547.2" y1="58.7" x2="548.4" y2="58.7" stroke="#111" stroke-width="0.8"/>
<line x1="547.2" y1="54.2" x2="548.4" y2="54.2" stroke="#111" stroke-width="0.8"/>
<line x1="547.2" y1="50.7" x2="548.4" y2="50.7" stroke="#111" stroke-width="0.8"/>
<line x1="547.2" y1="47.9" x2="548.4" y2="47.9" stroke="#111" stroke-width="0.8"/>
<line x1="547.2" y1="45.5" x2="548.4" y2="45.5" stroke="#111" stroke-width="0.8"/>
<line x1="547.2" y1="43.4" x2="548.4" y2="43.4" stroke="#111" stroke-width="0.8"/>
<line x1="547.2" y1="41.5" x2="548.4" y2="41.5" stroke="#111" stroke-width="0.8"/>
<line x1="546.2" y1="39.9" x2="548.4" y2="39.9" stroke="#111" stroke-width="0.8"/>
<line x1="547.2" y1="29.1" x2="548.4" y2="29.1" stroke="#111" stroke-width="0.8"/>
<line x1="550.0" y1="132.7" x2="550.0" y2="133.9" stroke="#111" stroke-width="0.8"/>
<line x1="553.5" y1="132.7" x2="553.5" y2="133.9" stroke="#111" stroke-width="0.8"/>
<line x1="556.2" y1="132.7" x2="556.2" y2="133.9" stroke="#111" stroke-width="0.8"/>
<line x1="558.5" y1="132.7" x2="558.5" y2="133.9" stroke="#111" stroke-width="0.8"/>
<line x1="560.3" y1="132.7" x2="560.3" y2="133.9" stroke="#111" stroke-width="0.8"/>
<line x1="562.0" y1="132.7" x2="562.0" y2="133.9" stroke="#111" stroke-width="0.8"/>
<line x1="563.4" y1="132.7" x2="563.4" y2="133.9" stroke="#111" stroke-width="0.8"/>
<line x1="564.7" y1="132.7" x2="564.7" y2="134.9" stroke="#111" stroke-width="0.8"/>
<line x1="573.2" y1="132.7" x2="573.2" y2="133.9" stroke="#111" stroke-width="0.8"/>
<line x1="578.1" y1="132.7" x2="578.1" y2="133.9" stroke="#111" stroke-width="0.8"/>
<line x1="581.6" y1="132.7" x2="581.6" y2="133.9" stroke="#111" stroke-width="0.8"/>
<line x1="584.3" y1="132.7" x2="584.3" y2="133.9" stroke="#111" stroke-width="0.8"/>
<line x1="586.6" y1="132.7" x2="586.6" y2="133.9" stroke="#111" stroke-width="0.8"/>
<line x1="588.4" y1="132.7" x2="588.4" y2="133.9" stroke="#111" stroke-width="0.8"/>
<line x1="590.1" y1="132.7" x2="590.1" y2="133.9" stroke="#111" stroke-width="0.8"/>
<line x1="591.5" y1="132.7" x2="591.5" y2="133.9" stroke="#111" stroke-width="0.8"/>
<line x1="592.8" y1="132.7" x2="592.8" y2="134.9" stroke="#111" stroke-width="0.8"/>
<line x1="601.3" y1="132.7" x2="601.3" y2="133.9" stroke="#111" stroke-width="0.8"/>
<line x1="606.2" y1="132.7" x2="606.2" y2="133.9" stroke="#111" stroke-width="0.8"/>
<line x1="609.7" y1="132.7" x2="609.7" y2="133.9" stroke="#111" stroke-width="0.8"/>
<line x1="612.4" y1="132.7" x2="612.4" y2="133.9" stroke="#111" stroke-width="0.8"/>
<line x1="614.7" y1="132.7" x2="614.7" y2="133.9" stroke="#111" stroke-width="0.8"/>
<line x1="616.5" y1="132.7" x2="616.5" y2="133.9" stroke="#111" stroke-width="0.8"/>
<line x1="618.2" y1="132.7" x2="618.2" y2="133.9" stroke="#111" stroke-width="0.8"/>
<line x1="619.6" y1="132.7" x2="619.6" y2="133.9" stroke="#111" stroke-width="0.8"/>
<line x1="620.9" y1="132.7" x2="620.9" y2="134.9" stroke="#111" stroke-width="0.8"/>
<line x1="629.4" y1="132.7" x2="629.4" y2="133.9" stroke="#111" stroke-width="0.8"/>
<line x1="634.3" y1="132.7" x2="634.3" y2="133.9" stroke="#111" stroke-width="0.8"/>
<line x1="637.8" y1="132.7" x2="637.8" y2="133.9" stroke="#111" stroke-width="0.8"/>
<line x1="640.5" y1="132.7" x2="640.5" y2="133.9" stroke="#111" stroke-width="0.8"/>
<line x1="642.8" y1="132.7" x2="642.8" y2="133.9" stroke="#111" stroke-width="0.8"/>
<line x1="644.6" y1="132.7" x2="644.6" y2="133.9" stroke="#111" stroke-width="0.8"/>
<line x1="646.3" y1="132.7" x2="646.3" y2="133.9" stroke="#111" stroke-width="0.8"/>
<line x1="647.7" y1="132.7" x2="647.7" y2="133.9" stroke="#111" stroke-width="0.8"/>
<line x1="649.0" y1="132.7" x2="649.0" y2="134.9" stroke="#111" stroke-width="0.8"/>
<text x="540.1" y="43.8" font-size="10.8" text-anchor="end" stroke="#111">10</text><text x="540.3" y="39.3" font-size="7.2" stroke="#111">5</text>
<text x="540.1" y="79.7" font-size="10.8" text-anchor="end" stroke="#111">10</text><text x="540.3" y="75.2" font-size="7.2" stroke="#111">4</text>
<text x="540.1" y="115.6" font-size="10.8" text-anchor="end" stroke="#111">10</text><text x="540.3" y="111.1" font-size="7.2" stroke="#111">3</text>
<text x="567.1" y="145.6" font-size="10.8" text-anchor="end" stroke="#111">10</text><text x="567.3" y="141.1" font-size="7.2" stroke="#111">2</text>
<text x="595.2" y="145.6" font-size="10.8" text-anchor="end" stroke="#111">10</text><text x="595.4" y="141.1" font-size="7.2" stroke="#111">3</text>
<text x="623.3" y="145.6" font-size="10.8" text-anchor="end" stroke="#111">10</text><text x="623.5" y="141.1" font-size="7.2" stroke="#111">4</text>
<text x="651.4" y="145.6" font-size="10.8" text-anchor="end" stroke="#111">10</text><text x="651.6" y="141.1" font-size="7.2" stroke="#111">5</text>
<line x1="396.4" y1="151.0" x2="396.4" y2="100.5" stroke="#111" stroke-width="1.3"/>
<line x1="396.4" y1="151.0" x2="452.5" y2="151.0" stroke="#111" stroke-width="1.3"/>
<polyline points="392.6,105 396.4,100 400.2,105" fill="none" stroke="#111" stroke-width="1.3"/>
<polyline points="448,147.2 453,151 448,154.8" fill="none" stroke="#111" stroke-width="1.3"/>
<text transform="translate(388.6,129.5) rotate(-90)" font-size="11.6" text-anchor="middle" stroke="#111">mCherry</text>
<text x="407.4" y="162.8" font-size="11.6" stroke="#111">EGFP</text>
<line x1="41.3" y1="214.3" x2="41.3" y2="322.8" stroke="#111" stroke-width="1.5"/>
<line x1="40.6" y1="322.1" x2="185.6" y2="322.1" stroke="#111" stroke-width="1.5"/>
<line x1="37.3" y1="214.9" x2="41.3" y2="214.9" stroke="#111" stroke-width="1.4"/>
<text x="35.6" y="219.0" font-size="11.5" text-anchor="end" stroke="#111">40</text>
<line x1="37.3" y1="241.7" x2="41.3" y2="241.7" stroke="#111" stroke-width="1.4"/>
<text x="35.6" y="245.8" font-size="11.5" text-anchor="end" stroke="#111">30</text>
<line x1="37.3" y1="268.5" x2="41.3" y2="268.5" stroke="#111" stroke-width="1.4"/>
<text x="35.6" y="272.6" font-size="11.5" text-anchor="end" stroke="#111">20</text>
<line x1="37.3" y1="295.3" x2="41.3" y2="295.3" stroke="#111" stroke-width="1.4"/>
<text x="35.6" y="299.4" font-size="11.5" text-anchor="end" stroke="#111">10</text>
<line x1="37.3" y1="322.1" x2="41.3" y2="322.1" stroke="#111" stroke-width="1.4"/>
<text x="35.6" y="326.2" font-size="11.5" text-anchor="end" stroke="#111">0</text>
<text transform="translate(17.6,272.5) rotate(-90)" font-size="11.7" text-anchor="middle" stroke="#111">% of RNA Pol II coverage</text>
<rect x="48.20" y="217.60" width="5.80" height="5.60" fill="#3B54A5"/>
<text x="57.2" y="223.8" font-size="10.9" stroke="#111">shLacZ</text>
<rect x="48.20" y="232.50" width="5.80" height="5.60" fill="#E23A2D"/>
<text x="57.2" y="238.5" font-size="10.9" stroke="#111">shRRN3</text>
<rect x="47.10" y="269.84" width="10.95" height="52.26" fill="#3B54A5"/>
<rect x="58.05" y="267.96" width="10.50" height="54.14" fill="#E23A2D"/>
<rect x="75.12" y="288.87" width="10.95" height="33.23" fill="#3B54A5"/>
<rect x="86.07" y="295.57" width="10.50" height="26.53" fill="#E23A2D"/>
<rect x="103.14" y="257.78" width="10.95" height="64.32" fill="#3B54A5"/>
<rect x="114.09" y="243.04" width="10.50" height="79.06" fill="#E23A2D"/>
<rect x="131.16" y="300.39" width="10.95" height="21.71" fill="#3B54A5"/>
<rect x="142.11" y="302.80" width="10.50" height="19.30" fill="#E23A2D"/>
<rect x="159.18" y="226.96" width="10.95" height="95.14" fill="#3B54A5"/>
<rect x="170.13" y="233.93" width="10.50" height="88.17" fill="#E23A2D"/>
<text transform="translate(66.5,330.5) rotate(-45)" font-size="11.5" text-anchor="end" stroke="#111">up2k</text>
<text transform="translate(94.5,330.5) rotate(-45)" font-size="11.5" text-anchor="end" stroke="#111">exon</text>
<text transform="translate(122.5,330.5) rotate(-45)" font-size="11.5" text-anchor="end" stroke="#111">intron</text>
<text transform="translate(150.6,330.5) rotate(-45)" font-size="11.5" text-anchor="end" stroke="#111">down2k</text>
<text transform="translate(178.6,330.5) rotate(-45)" font-size="11.5" text-anchor="end" stroke="#111">intergenic</text>
<line x1="37.3" y1="396.3" x2="37.3" y2="496.3" stroke="#111" stroke-width="1.5"/>
<line x1="36.6" y1="495.6" x2="186.0" y2="495.6" stroke="#111" stroke-width="1.5"/>
<line x1="33.3" y1="397.0" x2="37.3" y2="397.0" stroke="#111" stroke-width="1.4"/>
<text x="32.3" y="401.1" font-size="11.5" text-anchor="end" stroke="#111">5</text>
<line x1="33.3" y1="416.7" x2="37.3" y2="416.7" stroke="#111" stroke-width="1.4"/>
<text x="32.3" y="420.8" font-size="11.5" text-anchor="end" stroke="#111">4</text>
<line x1="33.3" y1="436.4" x2="37.3" y2="436.4" stroke="#111" stroke-width="1.4"/>
<text x="32.3" y="440.5" font-size="11.5" text-anchor="end" stroke="#111">3</text>
<line x1="33.3" y1="456.2" x2="37.3" y2="456.2" stroke="#111" stroke-width="1.4"/>
<text x="32.3" y="460.3" font-size="11.5" text-anchor="end" stroke="#111">2</text>
<line x1="33.3" y1="475.9" x2="37.3" y2="475.9" stroke="#111" stroke-width="1.4"/>
<text x="32.3" y="480.0" font-size="11.5" text-anchor="end" stroke="#111">1</text>
<line x1="33.3" y1="495.6" x2="37.3" y2="495.6" stroke="#111" stroke-width="1.4"/>
<text x="32.3" y="499.7" font-size="11.5" text-anchor="end" stroke="#111">0</text>
<text transform="translate(19.3,447.0) rotate(-90)" font-size="11.5" text-anchor="middle" stroke="#111">Gene numbers (x1000)</text>
<rect x="40.30" y="425.00" width="6.20" height="70.60" fill="#3B54A5"/>
<rect x="46.50" y="420.66" width="6.20" height="74.94" fill="#E23A2D"/>
<rect x="52.70" y="421.06" width="6.20" height="74.54" fill="#EF9B3C"/>
<rect x="65.02" y="455.77" width="6.20" height="39.83" fill="#3B54A5"/>
<rect x="71.22" y="455.77" width="6.20" height="39.83" fill="#E23A2D"/>
<rect x="77.42" y="458.33" width="6.20" height="37.27" fill="#EF9B3C"/>
<rect x="89.74" y="473.32" width="6.20" height="22.28" fill="#3B54A5"/>
<rect x="95.94" y="475.09" width="6.20" height="20.51" fill="#E23A2D"/>
<rect x="102.14" y="476.27" width="6.20" height="19.33" fill="#EF9B3C"/>
<rect x="114.46" y="482.98" width="6.20" height="12.62" fill="#3B54A5"/>
<rect x="120.66" y="483.77" width="6.20" height="11.83" fill="#E23A2D"/>
<rect x="126.86" y="486.13" width="6.20" height="9.47" fill="#EF9B3C"/>
<rect x="139.18" y="488.30" width="6.20" height="7.30" fill="#3B54A5"/>
<rect x="145.38" y="488.30" width="6.20" height="7.30" fill="#E23A2D"/>
<rect x="151.58" y="490.47" width="6.20" height="5.13" fill="#EF9B3C"/>
<rect x="163.90" y="482.98" width="6.20" height="12.62" fill="#3B54A5"/>
<rect x="170.10" y="484.95" width="6.20" height="10.65" fill="#E23A2D"/>
<rect x="176.30" y="486.33" width="6.20" height="9.27" fill="#EF9B3C"/>
<text x="49.4" y="506.8" font-size="11.5" text-anchor="middle" stroke="#111">1</text>
<text x="74.1" y="506.8" font-size="11.5" text-anchor="middle" stroke="#111">2</text>
<text x="98.8" y="506.8" font-size="11.5" text-anchor="middle" stroke="#111">3</text>
<text x="123.6" y="506.8" font-size="11.5" text-anchor="middle" stroke="#111">4</text>
<text x="148.3" y="506.8" font-size="11.5" text-anchor="middle" stroke="#111">5</text>
<text x="173.0" y="506.8" font-size="11.5" text-anchor="middle" stroke="#111">&gt;5</text>
<text x="108.7" y="521.3" font-size="11.5" text-anchor="middle" stroke="#111">APA site numbers</text>
<rect x="188.00" y="439.10" width="11.00" height="5.30" fill="#3B54A5"/>
<text x="204.6" y="444.7" font-size="11" stroke="#111">shLacZ</text>
<rect x="188.00" y="452.10" width="11.00" height="5.30" fill="#E23A2D"/>
<text x="204.6" y="457.7" font-size="11" stroke="#111">shRRN3, #1</text>
<rect x="188.00" y="465.10" width="11.00" height="5.30" fill="#EF9B3C"/>
<text x="204.6" y="470.7" font-size="11" stroke="#111">shRRN3, #2</text>
<g stroke="#111" stroke-width="1.4" fill="none">
<rect x="20.5" y="586.8" width="287.5" height="269.1"/>
</g>
<line x1="51.6" y1="586.8" x2="51.6" y2="855.9" stroke="#111" stroke-width="1.4"/>
<line x1="20.5" y1="608.8" x2="308.0" y2="608.8" stroke="#111" stroke-width="1.6"/>
<line x1="20.5" y1="717.2" x2="308.0" y2="717.2" stroke="#111" stroke-width="1.4"/>
<text x="127.3" y="601.8" font-size="11.3" text-anchor="middle" stroke="#111">GO term</text>
<text x="273.2" y="601.6" font-size="11" text-anchor="middle" font-style="italic" stroke="#111">P</text>
<text x="57.9" y="618.6" font-size="10.15" stroke="#111">nuclear division</text>
<text x="294.8" y="618.6" font-size="10.15" text-anchor="end" stroke="#111">1.30E-05</text>
<text x="57.9" y="629.3" font-size="10.15" stroke="#111">nuclear chromosome segregation</text>
<text x="294.8" y="629.3" font-size="10.15" text-anchor="end" stroke="#111">1.02E-04</text>
<text x="57.9" y="639.4" font-size="10.15" stroke="#111">regulation of cell cycle process</text>
<text x="294.8" y="639.4" font-size="10.15" text-anchor="end" stroke="#111">1.30E-04</text>
<text x="57.9" y="649.8" font-size="10.15" stroke="#111">positive regulation of cell cycle</text>
<text x="294.8" y="649.8" font-size="10.15" text-anchor="end" stroke="#111">7.61E-03</text>
<text x="57.9" y="660.5" font-size="10.15" stroke="#111">negative regulation of cell migration</text>
<text x="294.8" y="660.5" font-size="10.15" text-anchor="end" stroke="#111">9.68E-03</text>
<text x="57.9" y="670.7" font-size="10.15" stroke="#111">acute inflammatory response</text>
<text x="294.8" y="670.7" font-size="10.15" text-anchor="end" stroke="#111">1.06E-02</text>
<text x="57.9" y="681.0" font-size="10.15" stroke="#111">viral life cycle</text>
<text x="294.8" y="681.0" font-size="10.15" text-anchor="end" stroke="#111">1.40E-02</text>
<text x="57.9" y="691.2" font-size="10.15" stroke="#111">autophagosome maturation</text>
<text x="294.8" y="691.2" font-size="10.15" text-anchor="end" stroke="#111">2.05E-02</text>
<text x="57.9" y="701.3" font-size="10.15" stroke="#111">vacuole fusion</text>
<text x="294.8" y="701.3" font-size="10.15" text-anchor="end" stroke="#111">2.05E-02</text>
<text x="57.9" y="711.9" font-size="10.15" stroke="#111">complement activation</text>
<text x="294.8" y="711.9" font-size="10.15" text-anchor="end" stroke="#111">2.42E-02</text>
<text x="57.9" y="730.0" font-size="10.15" stroke="#111">skin development</text>
<text x="294.8" y="730.0" font-size="10.15" text-anchor="end" stroke="#111">3.72E-04</text>
<text x="57.9" y="740.1" font-size="10.15" stroke="#111">nucleoside triphosphate metabolic process</text>
<text x="294.8" y="740.1" font-size="10.15" text-anchor="end" stroke="#111">4.30E-03</text>
<text x="57.9" y="750.8" font-size="10.15" stroke="#111">regulation of extent of cell growth</text>
<text x="294.8" y="750.8" font-size="10.15" text-anchor="end" stroke="#111">4.80E-03</text>
<text x="57.9" y="762.1" font-size="10.15" stroke="#111">positive regulation of cell migration</text>
<text x="294.8" y="762.1" font-size="10.15" text-anchor="end" stroke="#111">9.13E-03</text>
<text x="57.9" y="772.6" font-size="10.15" stroke="#111">cell surface receptor signaling pathway</text>
<text x="294.8" y="772.6" font-size="10.15" text-anchor="end" stroke="#111">9.34E-03</text>
<text x="57.9" y="783.2" font-size="10.15" stroke="#111">receptor tyrosine kinase signaling pathway</text>
<text x="294.8" y="783.2" font-size="10.15" text-anchor="end" stroke="#111">1.16E-02</text>
<text x="57.9" y="794.5" font-size="10.15" stroke="#111">keratinocyte differentiation</text>
<text x="294.8" y="794.5" font-size="10.15" text-anchor="end" stroke="#111">1.42E-02</text>
<text x="57.9" y="804.4" font-size="10.15" stroke="#111">mesenchyme development</text>
<text x="294.8" y="804.4" font-size="10.15" text-anchor="end" stroke="#111">2.01E-02</text>
<text x="57.9" y="814.4" font-size="10.15" stroke="#111">regulation of cell size</text>
<text x="294.8" y="814.4" font-size="10.15" text-anchor="end" stroke="#111">2.12E-02</text>
<text x="57.9" y="824.3" font-size="10.15" stroke="#111">stem cell development</text>
<text x="294.8" y="824.3" font-size="10.15" text-anchor="end" stroke="#111">2.89E-02</text>
<text x="57.9" y="834.1" font-size="10.15" stroke="#111">glycolytic process</text>
<text x="294.8" y="834.1" font-size="10.15" text-anchor="end" stroke="#111">3.02E-02</text>
<text x="57.9" y="843.9" font-size="10.15" stroke="#111">epidermal cell differentiation</text>
<text x="294.8" y="843.9" font-size="10.15" text-anchor="end" stroke="#111">3.99E-02</text>
<text x="57.9" y="853.7" font-size="10.15" stroke="#111">vasculature development</text>
<text x="294.8" y="853.7" font-size="10.15" text-anchor="end" stroke="#111">4.40E-02</text>
<text transform="translate(39.3,663.0) rotate(-90)" font-size="10.2" text-anchor="middle" stroke="#111">Upegulated genes</text>
<text transform="translate(39.3,782.0) rotate(-90)" font-size="10.2" text-anchor="middle" stroke="#111">Downregulated genes</text>
<defs><linearGradient id="c1" x1="0" y1="0" x2="0" y2="1"><stop offset="0.00" stop-color="#333d96"/><stop offset="0.10" stop-color="#4570b3"/><stop offset="0.20" stop-color="#6ea4ce"/><stop offset="0.30" stop-color="#a2d0e5"/><stop offset="0.40" stop-color="#d4edf2"/><stop offset="0.50" stop-color="#f6f7ce"/><stop offset="0.60" stop-color="#fde49c"/><stop offset="0.70" stop-color="#fab569"/><stop offset="0.80" stop-color="#f27c47"/><stop offset="0.90" stop-color="#dc4832"/><stop offset="1.00" stop-color="#b92a28"/></linearGradient><linearGradient id="c2" x1="0" y1="0" x2="0" y2="1"><stop offset="0.00" stop-color="#333d96"/><stop offset="0.10" stop-color="#4570b3"/><stop offset="0.20" stop-color="#6ea4ce"/><stop offset="0.30" stop-color="#a2d0e5"/><stop offset="0.40" stop-color="#d4edf2"/><stop offset="0.50" stop-color="#f6f7ce"/><stop offset="0.60" stop-color="#fde49c"/><stop offset="0.70" stop-color="#fab569"/><stop offset="0.80" stop-color="#f27c47"/><stop offset="0.90" stop-color="#dc4832"/><stop offset="1.00" stop-color="#b92a28"/></linearGradient><linearGradient id="c3" x1="0" y1="0" x2="0" y2="1"><stop offset="0.00" stop-color="#333d96"/><stop offset="0.10" stop-color="#4570b3"/><stop offset="0.20" stop-color="#6ea4ce"/><stop offset="0.30" stop-color="#a2d0e5"/><stop offset="0.40" stop-color="#d4edf2"/><stop offset="0.50" stop-color="#f6f7ce"/><stop offset="0.60" stop-color="#fde49c"/><stop offset="0.70" stop-color="#fab569"/><stop offset="0.80" stop-color="#f27c47"/><stop offset="0.90" stop-color="#dc4832"/><stop offset="1.00" stop-color="#b92a28"/></linearGradient><linearGradient id="c4" x1="0" y1="0" x2="0" y2="1"><stop offset="0.00" stop-color="#333d96"/><stop offset="0.10" stop-color="#4570b3"/><stop offset="0.20" stop-color="#6ea4ce"/><stop offset="0.30" stop-color="#a2d0e5"/><stop offset="0.40" stop-color="#d4edf2"/><stop offset="0.50" stop-color="#f6f7ce"/><stop offset="0.60" stop-color="#fde49c"/><stop offset="0.70" stop-color="#fab569"/><stop offset="0.80" stop-color="#f27c47"/><stop offset="0.90" stop-color="#dc4832"/><stop offset="1.00" stop-color="#b92a28"/></linearGradient><linearGradient id="c5" x1="0" y1="0" x2="0" y2="1"><stop offset="0.00" stop-color="#333d96"/><stop offset="0.10" stop-color="#4570b3"/><stop offset="0.20" stop-color="#6ea4ce"/><stop offset="0.30" stop-color="#a2d0e5"/><stop offset="0.40" stop-color="#d4edf2"/><stop offset="0.50" stop-color="#f6f7ce"/><stop offset="0.60" stop-color="#fde49c"/><stop offset="0.70" stop-color="#fab569"/><stop offset="0.80" stop-color="#f27c47"/><stop offset="0.90" stop-color="#dc4832"/><stop offset="1.00" stop-color="#b92a28"/></linearGradient><linearGradient id="c6" x1="0" y1="0" x2="0" y2="1"><stop offset="0.00" stop-color="#333d96"/><stop offset="0.10" stop-color="#4570b3"/><stop offset="0.20" stop-color="#6ea4ce"/><stop offset="0.30" stop-color="#a2d0e5"/><stop offset="0.40" stop-color="#d4edf2"/><stop offset="0.50" stop-color="#f6f7ce"/><stop offset="0.60" stop-color="#fde49c"/><stop offset="0.70" stop-color="#fab569"/><stop offset="0.80" stop-color="#f27c47"/><stop offset="0.90" stop-color="#dc4832"/><stop offset="1.00" stop-color="#b92a28"/></linearGradient></defs>
<text x="237.8" y="204.8" font-size="11.6" text-anchor="middle" stroke="#111">shLacZ</text>
<text x="314.3" y="204.8" font-size="11.6" text-anchor="middle" stroke="#111">shRRN3</text>
<text x="397.1" y="204.7" font-size="11.6" text-anchor="middle" stroke="#111">shLacZ</text>
<text x="474.9" y="204.7" font-size="11.6" text-anchor="middle" stroke="#111">shRRN3</text>
<text x="564.5" y="206.3" font-size="11.6" text-anchor="middle" stroke="#111">shLacZ</text>
<text x="641.8" y="206.3" font-size="11.6" text-anchor="middle" stroke="#111">shRRN3</text>
<rect x="214.2" y="207.7" width="47.0" height="44.1" fill="#fff"/>
<line x1="237.7" y1="207.7" x2="237.7" y2="251.8" stroke="#222" stroke-width="0.8" stroke-dasharray="1.4,1.3"/>
<polyline points="214.9,248.6 219.0,247.5 223.0,244.2 226.0,239.5 228.8,234.0 231.5,228.0 233.9,222.3 236.0,215.0 237.6,210.7 239.5,211.8 241.2,215.0 242.7,220.5 244.1,226.7 246.0,233.0 247.8,238.4 250.5,242.2 253.6,245.0 257.0,247.8 260.6,249.8" fill="none" stroke="#4663C2" stroke-width="2.2" stroke-linejoin="round"/>
<rect x="214.2" y="207.7" width="47.0" height="44.1" fill="none" stroke="#111" stroke-width="1.3"/>
<line x1="212.6" y1="211.1" x2="214.2" y2="211.1" stroke="#111" stroke-width="0.8"/>
<text x="212.6" y="213.8" font-size="7.6" text-anchor="end" stroke="#111">60</text>
<line x1="212.6" y1="224.7" x2="214.2" y2="224.7" stroke="#111" stroke-width="0.8"/>
<text x="212.6" y="227.4" font-size="7.6" text-anchor="end" stroke="#111">40</text>
<line x1="212.6" y1="238.3" x2="214.2" y2="238.3" stroke="#111" stroke-width="0.8"/>
<text x="212.6" y="241.0" font-size="7.6" text-anchor="end" stroke="#111">20</text>
<line x1="213.2" y1="217.9" x2="214.2" y2="217.9" stroke="#111" stroke-width="0.8"/>
<line x1="213.2" y1="231.5" x2="214.2" y2="231.5" stroke="#111" stroke-width="0.8"/>
<line x1="213.2" y1="245.1" x2="214.2" y2="245.1" stroke="#111" stroke-width="0.8"/>
<line x1="237.9" y1="254.6" x2="237.9" y2="327.7" stroke="#111" stroke-width="1.0" stroke-dasharray="1.5,1.3"/>
<rect x="214.4" y="254.6" width="46.9" height="73.1" fill="none" stroke="#111" stroke-width="1.2"/>
<line x1="214.4" y1="327.7" x2="214.4" y2="329.2" stroke="#111" stroke-width="0.8"/>
<line x1="237.9" y1="327.7" x2="237.9" y2="329.2" stroke="#111" stroke-width="0.8"/>
<line x1="261.3" y1="327.7" x2="261.3" y2="329.2" stroke="#111" stroke-width="0.8"/>
<rect x="264.8" y="254.7" width="3.4" height="73.0" fill="url(#c1)" stroke="#333" stroke-width="0.6"/>
<line x1="268.2" y1="269.7" x2="269.8" y2="269.7" stroke="#111" stroke-width="0.8"/>
<text x="270.0" y="272.4" font-size="7.6" stroke="#111">120</text>
<line x1="268.2" y1="290.1" x2="269.8" y2="290.1" stroke="#111" stroke-width="0.8"/>
<text x="270.0" y="292.8" font-size="7.6" stroke="#111">80</text>
<line x1="268.2" y1="308.4" x2="269.8" y2="308.4" stroke="#111" stroke-width="0.8"/>
<text x="270.0" y="311.1" font-size="7.6" stroke="#111">40</text>
<line x1="268.2" y1="326.6" x2="269.8" y2="326.6" stroke="#111" stroke-width="0.8"/>
<text x="270.0" y="329.3" font-size="7.6" stroke="#111">0</text>
<line x1="268.2" y1="259.5" x2="269.2" y2="259.5" stroke="#111" stroke-width="0.8"/>
<line x1="268.2" y1="279.9" x2="269.2" y2="279.9" stroke="#111" stroke-width="0.8"/>
<line x1="268.2" y1="299.2" x2="269.2" y2="299.2" stroke="#111" stroke-width="0.8"/>
<line x1="268.2" y1="317.5" x2="269.2" y2="317.5" stroke="#111" stroke-width="0.8"/>
<text x="217.5" y="336.1" font-size="8.4" text-anchor="middle" stroke="#111">-1.0</text>
<text x="237.2" y="336.1" font-size="8.4" text-anchor="middle" stroke="#111">TSS</text>
<text x="256.8" y="336.1" font-size="8.4" text-anchor="middle" stroke="#111">1.0</text>
<text x="266.3" y="336.1" font-size="8.4" stroke="#111">(kb)</text>
<text transform="translate(210.3,289) rotate(-90)" font-size="8.4" text-anchor="middle" stroke="#111">RNA Pol II coverage</text>
<rect x="291.7" y="207.7" width="45.6" height="44.1" fill="#fff"/>
<line x1="314.5" y1="207.7" x2="314.5" y2="251.8" stroke="#222" stroke-width="0.8" stroke-dasharray="1.4,1.3"/>
<polyline points="292.4,249.8 296.0,246.8 300.0,242.8 303.0,237.5 305.9,231.1 308.3,224.5 310.3,218.0 312.5,212.3 314.6,209.9 316.8,211.2 319.0,215.0 321.0,222.0 322.7,229.6 324.8,235.0 327.0,239.9 330.0,243.5 333.0,246.0 336.5,248.3" fill="none" stroke="#4663C2" stroke-width="2.2" stroke-linejoin="round"/>
<rect x="291.7" y="207.7" width="45.6" height="44.1" fill="none" stroke="#111" stroke-width="1.3"/>
<line x1="290.1" y1="208.6" x2="291.7" y2="208.6" stroke="#111" stroke-width="0.8"/>
<text x="290.1" y="211.3" font-size="7.6" text-anchor="end" stroke="#111">100</text>
<line x1="290.1" y1="218.2" x2="291.7" y2="218.2" stroke="#111" stroke-width="0.8"/>
<text x="290.1" y="220.9" font-size="7.6" text-anchor="end" stroke="#111">80</text>
<line x1="290.1" y1="227.6" x2="291.7" y2="227.6" stroke="#111" stroke-width="0.8"/>
<text x="290.1" y="230.3" font-size="7.6" text-anchor="end" stroke="#111">60</text>
<line x1="290.1" y1="237.2" x2="291.7" y2="237.2" stroke="#111" stroke-width="0.8"/>
<text x="290.1" y="239.9" font-size="7.6" text-anchor="end" stroke="#111">40</text>
<line x1="290.1" y1="246.8" x2="291.7" y2="246.8" stroke="#111" stroke-width="0.8"/>
<text x="290.1" y="249.5" font-size="7.6" text-anchor="end" stroke="#111">20</text>
<line x1="314.5" y1="254.7" x2="314.5" y2="327.7" stroke="#111" stroke-width="1.0" stroke-dasharray="1.5,1.3"/>
<rect x="291.7" y="254.7" width="45.6" height="73.0" fill="none" stroke="#111" stroke-width="1.2"/>
<line x1="291.7" y1="327.7" x2="291.7" y2="329.2" stroke="#111" stroke-width="0.8"/>
<line x1="314.5" y1="327.7" x2="314.5" y2="329.2" stroke="#111" stroke-width="0.8"/>
<line x1="337.3" y1="327.7" x2="337.3" y2="329.2" stroke="#111" stroke-width="0.8"/>
<rect x="340.9" y="254.7" width="2.9" height="73.0" fill="url(#c2)" stroke="#333" stroke-width="0.6"/>
<line x1="343.8" y1="266.2" x2="345.4" y2="266.2" stroke="#111" stroke-width="0.8"/>
<text x="345.6" y="268.9" font-size="7.6" stroke="#111">250</text>
<line x1="343.8" y1="290.8" x2="345.4" y2="290.8" stroke="#111" stroke-width="0.8"/>
<text x="345.6" y="293.5" font-size="7.6" stroke="#111">150</text>
<line x1="343.8" y1="314.8" x2="345.4" y2="314.8" stroke="#111" stroke-width="0.8"/>
<text x="345.6" y="317.5" font-size="7.6" stroke="#111">50</text>
<line x1="343.8" y1="278.5" x2="344.8" y2="278.5" stroke="#111" stroke-width="0.8"/>
<line x1="343.8" y1="302.8" x2="344.8" y2="302.8" stroke="#111" stroke-width="0.8"/>
<line x1="343.8" y1="326.6" x2="344.8" y2="326.6" stroke="#111" stroke-width="0.8"/>
<text x="295.0" y="336.1" font-size="8.4" text-anchor="middle" stroke="#111">-1.0</text>
<text x="313.8" y="336.1" font-size="8.4" text-anchor="middle" stroke="#111">TSS</text>
<text x="332.5" y="336.1" font-size="8.4" text-anchor="middle" stroke="#111">1.0</text>
<text x="342.2" y="336.1" font-size="8.4" stroke="#111">(kb)</text>
<rect x="373.4" y="207.8" width="47.3" height="43.4" fill="#fff"/>
<line x1="397.0" y1="207.8" x2="397.0" y2="251.2" stroke="#222" stroke-width="0.8" stroke-dasharray="1.4,1.3"/>
<polyline points="373.4,247.9 376.5,243.0 379.5,238.0 382.8,232.6 385.5,229.5 388.3,227.0 391.0,222.5 393.8,217.2 395.5,213.5 397.1,210.7 400.0,211.2 402.6,212.8 405.5,217.5 408.0,223.8 410.8,231.0 413.5,238.0 416.5,244.0 420.0,249.6" fill="none" stroke="#4663C2" stroke-width="2.2" stroke-linejoin="round"/>
<rect x="373.4" y="207.8" width="47.3" height="43.4" fill="none" stroke="#111" stroke-width="1.3"/>
<line x1="371.8" y1="216.8" x2="373.4" y2="216.8" stroke="#111" stroke-width="0.8"/>
<text x="371.8" y="219.5" font-size="7.6" text-anchor="end" stroke="#111">60</text>
<line x1="371.8" y1="231.9" x2="373.4" y2="231.9" stroke="#111" stroke-width="0.8"/>
<text x="371.8" y="234.6" font-size="7.6" text-anchor="end" stroke="#111">40</text>
<line x1="371.8" y1="247.9" x2="373.4" y2="247.9" stroke="#111" stroke-width="0.8"/>
<text x="371.8" y="250.6" font-size="7.6" text-anchor="end" stroke="#111">20</text>
<line x1="372.4" y1="209.3" x2="373.4" y2="209.3" stroke="#111" stroke-width="0.8"/>
<line x1="372.4" y1="224.4" x2="373.4" y2="224.4" stroke="#111" stroke-width="0.8"/>
<line x1="372.4" y1="239.9" x2="373.4" y2="239.9" stroke="#111" stroke-width="0.8"/>
<line x1="397.1" y1="254.4" x2="397.1" y2="327.5" stroke="#111" stroke-width="1.0" stroke-dasharray="1.5,1.3"/>
<rect x="373.6" y="254.4" width="47.1" height="73.1" fill="none" stroke="#111" stroke-width="1.2"/>
<line x1="373.6" y1="327.5" x2="373.6" y2="329.0" stroke="#111" stroke-width="0.8"/>
<line x1="397.1" y1="327.5" x2="397.1" y2="329.0" stroke="#111" stroke-width="0.8"/>
<line x1="420.7" y1="327.5" x2="420.7" y2="329.0" stroke="#111" stroke-width="0.8"/>
<rect x="424.4" y="254.4" width="3.3" height="73.1" fill="url(#c3)" stroke="#333" stroke-width="0.6"/>
<line x1="427.7" y1="256.6" x2="429.3" y2="256.6" stroke="#111" stroke-width="0.8"/>
<text x="429.5" y="259.3" font-size="7.6" stroke="#111">200</text>
<line x1="427.7" y1="292.0" x2="429.3" y2="292.0" stroke="#111" stroke-width="0.8"/>
<text x="429.5" y="294.7" font-size="7.6" stroke="#111">100</text>
<line x1="427.7" y1="325.3" x2="429.3" y2="325.3" stroke="#111" stroke-width="0.8"/>
<text x="429.5" y="328.0" font-size="7.6" stroke="#111">0</text>
<line x1="427.7" y1="274.3" x2="428.7" y2="274.3" stroke="#111" stroke-width="0.8"/>
<line x1="427.7" y1="308.7" x2="428.7" y2="308.7" stroke="#111" stroke-width="0.8"/>
<text x="375.5" y="336.1" font-size="8.4" text-anchor="middle" stroke="#111">-0.5</text>
<text x="396.9" y="336.1" font-size="8.4" text-anchor="middle" stroke="#111">TSS</text>
<text x="418.3" y="336.1" font-size="8.4" text-anchor="middle" stroke="#111">0.5</text>
<text x="426.2" y="336.1" font-size="8.4" stroke="#111">(kb)</text>
<rect x="452.3" y="207.8" width="45.5" height="42.2" fill="#fff"/>
<line x1="475.1" y1="207.8" x2="475.1" y2="250.0" stroke="#222" stroke-width="0.8" stroke-dasharray="1.4,1.3"/>
<polyline points="452.3,243.5 455.5,235.5 459.5,226.0 463.0,219.0 467.1,212.8 470.5,209.8 473.7,208.5 476.5,209.0 479.2,210.7 482.5,216.0 485.8,223.8 488.5,231.5 491.2,239.1 494.0,244.5 497.1,249.0" fill="none" stroke="#4663C2" stroke-width="2.2" stroke-linejoin="round"/>
<rect x="452.3" y="207.8" width="45.5" height="42.2" fill="none" stroke="#111" stroke-width="1.3"/>
<line x1="450.7" y1="210.1" x2="452.3" y2="210.1" stroke="#111" stroke-width="0.8"/>
<text x="450.7" y="212.8" font-size="7.6" text-anchor="end" stroke="#111">100</text>
<line x1="450.7" y1="222.8" x2="452.3" y2="222.8" stroke="#111" stroke-width="0.8"/>
<text x="450.7" y="225.5" font-size="7.6" text-anchor="end" stroke="#111">80</text>
<line x1="450.7" y1="236.3" x2="452.3" y2="236.3" stroke="#111" stroke-width="0.8"/>
<text x="450.7" y="239.0" font-size="7.6" text-anchor="end" stroke="#111">60</text>
<line x1="450.7" y1="248.5" x2="452.3" y2="248.5" stroke="#111" stroke-width="0.8"/>
<text x="450.7" y="251.2" font-size="7.6" text-anchor="end" stroke="#111">40</text>
<line x1="451.3" y1="216.4" x2="452.3" y2="216.4" stroke="#111" stroke-width="0.8"/>
<line x1="451.3" y1="229.5" x2="452.3" y2="229.5" stroke="#111" stroke-width="0.8"/>
<line x1="451.3" y1="242.4" x2="452.3" y2="242.4" stroke="#111" stroke-width="0.8"/>
<line x1="474.9" y1="253.4" x2="474.9" y2="327.2" stroke="#111" stroke-width="1.0" stroke-dasharray="1.5,1.3"/>
<rect x="452.4" y="253.4" width="45.0" height="73.8" fill="none" stroke="#111" stroke-width="1.2"/>
<line x1="452.4" y1="327.2" x2="452.4" y2="328.7" stroke="#111" stroke-width="0.8"/>
<line x1="474.9" y1="327.2" x2="474.9" y2="328.7" stroke="#111" stroke-width="0.8"/>
<line x1="497.4" y1="327.2" x2="497.4" y2="328.7" stroke="#111" stroke-width="0.8"/>
<rect x="501.3" y="253.4" width="3.4" height="73.8" fill="url(#c4)" stroke="#333" stroke-width="0.6"/>
<line x1="504.7" y1="259.7" x2="506.3" y2="259.7" stroke="#111" stroke-width="0.8"/>
<text x="506.5" y="262.4" font-size="7.6" stroke="#111">300</text>
<line x1="504.7" y1="283.0" x2="506.3" y2="283.0" stroke="#111" stroke-width="0.8"/>
<text x="506.5" y="285.7" font-size="7.6" stroke="#111">200</text>
<line x1="504.7" y1="305.0" x2="506.3" y2="305.0" stroke="#111" stroke-width="0.8"/>
<text x="506.5" y="307.7" font-size="7.6" stroke="#111">100</text>
<line x1="504.7" y1="325.4" x2="506.3" y2="325.4" stroke="#111" stroke-width="0.8"/>
<text x="506.5" y="328.1" font-size="7.6" stroke="#111">0</text>
<line x1="504.7" y1="271.3" x2="505.7" y2="271.3" stroke="#111" stroke-width="0.8"/>
<line x1="504.7" y1="294.0" x2="505.7" y2="294.0" stroke="#111" stroke-width="0.8"/>
<line x1="504.7" y1="315.2" x2="505.7" y2="315.2" stroke="#111" stroke-width="0.8"/>
<text x="455.4" y="336.3" font-size="8.4" text-anchor="middle" stroke="#111">-0.5</text>
<text x="474.9" y="336.3" font-size="8.4" text-anchor="middle" stroke="#111">TSS</text>
<text x="494.3" y="336.3" font-size="8.4" text-anchor="middle" stroke="#111">0.5</text>
<text x="505.0" y="336.3" font-size="8.4" stroke="#111">(kb)</text>
<rect x="541.7" y="210.7" width="45.7" height="42.3" fill="#fff"/>
<line x1="564.5" y1="210.7" x2="564.5" y2="253.0" stroke="#222" stroke-width="0.8" stroke-dasharray="1.4,1.3"/>
<polyline points="542.0,234.7 542.6,244.2 542.8,247.9 543.4,242.8 543.9,241.3 544.6,248.6 545.3,242.8 546.4,246.4 547.2,239.9 548.2,239.1 549.3,241.3 550.4,241.3 551.9,243.1 553.4,244.2 554.8,245.4 556.3,246.4 557.7,248.6 558.5,251.5 559.5,251.2 560.7,248.6 561.8,241.3 562.8,234.0 563.9,229.6 564.7,233.3 565.8,232.3 566.8,231.1 568.0,228.2 569.1,226.7 570.6,225.3 571.8,223.1 572.6,222.0 573.8,223.8 574.7,226.0 575.5,229.6 576.4,232.8 577.4,232.6 578.5,230.4 579.2,220.9 580.1,216.5 581.1,212.8 581.8,219.4 582.6,230.4 583.3,231.1 584.0,223.8 584.9,220.1 585.8,221.6 586.5,223.8 587.2,222.3" fill="none" stroke="#4663C2" stroke-width="1.6" stroke-linejoin="round"/>
<rect x="541.7" y="210.7" width="45.7" height="42.3" fill="none" stroke="#111" stroke-width="1.3"/>
<line x1="540.1" y1="214.3" x2="541.7" y2="214.3" stroke="#111" stroke-width="0.8"/>
<text x="540.1" y="217.0" font-size="7.6" text-anchor="end" stroke="#111">55</text>
<line x1="540.1" y1="232.6" x2="541.7" y2="232.6" stroke="#111" stroke-width="0.8"/>
<text x="540.1" y="235.3" font-size="7.6" text-anchor="end" stroke="#111">45</text>
<line x1="540.1" y1="251.2" x2="541.7" y2="251.2" stroke="#111" stroke-width="0.8"/>
<text x="540.1" y="253.9" font-size="7.6" text-anchor="end" stroke="#111">35</text>
<line x1="540.7" y1="223.4" x2="541.7" y2="223.4" stroke="#111" stroke-width="0.8"/>
<line x1="540.7" y1="241.9" x2="541.7" y2="241.9" stroke="#111" stroke-width="0.8"/>
<rect x="541.7" y="253.2" width="45.7" height="2.8" fill="#a8a8a8"/>
<line x1="564.4" y1="256.0" x2="564.4" y2="327.0" stroke="#111" stroke-width="1.0" stroke-dasharray="1.5,1.3"/>
<rect x="541.5" y="256.0" width="45.7" height="71.0" fill="none" stroke="#111" stroke-width="1.2"/>
<line x1="541.5" y1="327.0" x2="541.5" y2="328.5" stroke="#111" stroke-width="0.8"/>
<line x1="564.4" y1="327.0" x2="564.4" y2="328.5" stroke="#111" stroke-width="0.8"/>
<line x1="587.2" y1="327.0" x2="587.2" y2="328.5" stroke="#111" stroke-width="0.8"/>
<rect x="590.4" y="256.0" width="3.9" height="71.0" fill="url(#c5)" stroke="#333" stroke-width="0.6"/>
<line x1="594.3" y1="258.0" x2="595.9" y2="258.0" stroke="#111" stroke-width="0.8"/>
<text x="596.1" y="260.7" font-size="7.6" stroke="#111">350</text>
<line x1="594.3" y1="277.6" x2="595.9" y2="277.6" stroke="#111" stroke-width="0.8"/>
<text x="596.1" y="280.3" font-size="7.6" stroke="#111">250</text>
<line x1="594.3" y1="297.5" x2="595.9" y2="297.5" stroke="#111" stroke-width="0.8"/>
<text x="596.1" y="300.2" font-size="7.6" stroke="#111">150</text>
<line x1="594.3" y1="317.2" x2="595.9" y2="317.2" stroke="#111" stroke-width="0.8"/>
<text x="596.1" y="319.9" font-size="7.6" stroke="#111">50</text>
<line x1="594.3" y1="267.8" x2="595.3" y2="267.8" stroke="#111" stroke-width="0.8"/>
<line x1="594.3" y1="287.5" x2="595.3" y2="287.5" stroke="#111" stroke-width="0.8"/>
<line x1="594.3" y1="307.3" x2="595.3" y2="307.3" stroke="#111" stroke-width="0.8"/>
<text x="544.8" y="336.0" font-size="8.4" text-anchor="middle" stroke="#111">-0.5</text>
<text x="563.1" y="336.0" font-size="8.4" text-anchor="middle" stroke="#111">TTS</text>
<text x="581.5" y="336.0" font-size="8.4" text-anchor="middle" stroke="#111">0.5</text>
<text x="590.8" y="336.0" font-size="8.4" stroke="#111">(kb)</text>
<rect x="619.7" y="210.7" width="44.1" height="42.3" fill="#fff"/>
<line x1="641.8" y1="210.7" x2="641.8" y2="253.0" stroke="#222" stroke-width="0.8" stroke-dasharray="1.4,1.3"/>
<polyline points="620.0,245.0 620.8,244.2 621.5,244.2 622.4,241.3 623.2,239.9 624.1,240.1 625.1,241.3 625.9,246.4 626.6,251.5 627.6,251.2 628.8,251.1 630.0,250.1 631.0,248.6 632.0,247.4 633.2,245.7 634.3,246.4 635.4,246.4 636.4,246.0 637.6,246.4 638.6,246.4 639.7,245.7 640.5,243.1 641.2,242.5 642.2,242.0 643.4,241.3 644.9,242.5 646.3,243.1 647.8,242.0 649.2,241.0 650.7,241.3 652.2,239.9 653.3,237.7 654.3,236.2 655.1,235.2 655.8,235.5 656.5,237.7 657.3,238.4 658.0,235.5 658.7,229.6 659.5,223.8 660.2,218.0 660.9,216.2 661.6,215.0 662.4,214.3 663.1,213.6" fill="none" stroke="#4663C2" stroke-width="1.6" stroke-linejoin="round"/>
<rect x="619.7" y="210.7" width="44.1" height="42.3" fill="none" stroke="#111" stroke-width="1.3"/>
<line x1="618.1" y1="212.1" x2="619.7" y2="212.1" stroke="#111" stroke-width="0.8"/>
<text x="618.1" y="214.8" font-size="7.6" text-anchor="end" stroke="#111">100</text>
<line x1="618.1" y1="222.3" x2="619.7" y2="222.3" stroke="#111" stroke-width="0.8"/>
<text x="618.1" y="225.0" font-size="7.6" text-anchor="end" stroke="#111">90</text>
<line x1="618.1" y1="233.3" x2="619.7" y2="233.3" stroke="#111" stroke-width="0.8"/>
<text x="618.1" y="236.0" font-size="7.6" text-anchor="end" stroke="#111">80</text>
<line x1="618.1" y1="244.2" x2="619.7" y2="244.2" stroke="#111" stroke-width="0.8"/>
<text x="618.1" y="246.9" font-size="7.6" text-anchor="end" stroke="#111">70</text>
<rect x="619.7" y="253.2" width="44.1" height="2.0" fill="#a8a8a8"/>
<line x1="641.6" y1="255.2" x2="641.6" y2="325.8" stroke="#111" stroke-width="1.0" stroke-dasharray="1.5,1.3"/>
<rect x="619.8" y="255.2" width="43.7" height="70.6" fill="none" stroke="#111" stroke-width="1.2"/>
<line x1="619.8" y1="325.8" x2="619.8" y2="327.3" stroke="#111" stroke-width="0.8"/>
<line x1="641.6" y1="325.8" x2="641.6" y2="327.3" stroke="#111" stroke-width="0.8"/>
<line x1="663.5" y1="325.8" x2="663.5" y2="327.3" stroke="#111" stroke-width="0.8"/>
<rect x="667.0" y="255.2" width="3.6" height="70.6" fill="url(#c6)" stroke="#333" stroke-width="0.6"/>
<line x1="670.6" y1="263.6" x2="672.2" y2="263.6" stroke="#111" stroke-width="0.8"/>
<text x="672.4" y="266.3" font-size="7.6" stroke="#111">600</text>
<line x1="670.6" y1="284.0" x2="672.2" y2="284.0" stroke="#111" stroke-width="0.8"/>
<text x="672.4" y="286.7" font-size="7.6" stroke="#111">400</text>
<line x1="670.6" y1="305.4" x2="672.2" y2="305.4" stroke="#111" stroke-width="0.8"/>
<text x="672.4" y="308.1" font-size="7.6" stroke="#111">200</text>
<line x1="670.6" y1="324.7" x2="672.2" y2="324.7" stroke="#111" stroke-width="0.8"/>
<text x="672.4" y="327.4" font-size="7.6" stroke="#111">0</text>
<line x1="670.6" y1="273.8" x2="671.6" y2="273.8" stroke="#111" stroke-width="0.8"/>
<line x1="670.6" y1="294.7" x2="671.6" y2="294.7" stroke="#111" stroke-width="0.8"/>
<line x1="670.6" y1="315.0" x2="671.6" y2="315.0" stroke="#111" stroke-width="0.8"/>
<text x="623.0" y="336.0" font-size="8.4" text-anchor="middle" stroke="#111">-0.5</text>
<text x="641.1" y="336.0" font-size="8.4" text-anchor="middle" stroke="#111">TTS</text>
<text x="659.3" y="336.0" font-size="8.4" text-anchor="middle" stroke="#111">0.5</text>
<text x="668.2" y="336.0" font-size="8.4" stroke="#111">(kb)</text>
<path d="M357 442.5h0M364.5 433h0M364.5 452h0M370 427.5h0M370 442.5h0M370 457.5h0M374.5 424h0M374.5 437h0M374.5 448h0M374.5 461h0M376 411.5h0M376 473.5h0M378 421h0M378 433h0M378 442.5h0M378 452h0M378 464h0M379.5 409h0M379.5 476h0M381 418.5h0M381 430h0M381 438.5h0M381 446.5h0M381 455h0M381 466.5h0M382 407h0M382 478h0M383.5 416.5h0M383.5 427.5h0M383.5 435.5h0M383.5 442.5h0M383.5 449.5h0M383.5 457.5h0M383.5 468.5h0M384.5 405h0M384.5 480h0M385.5 414.5h0M385.5 425.5h0M385.5 433h0M385.5 439.5h0M385.5 445.5h0M385.5 452h0M385.5 459.5h0M385.5 470.5h0M386.5 403.5h0M386.5 481.5h0M387.5 413h0M387.5 424h0M387.5 431h0M387.5 437h0M387.5 442.5h0M387.5 448h0M387.5 454h0M387.5 461h0M387.5 472h0M388.5 402h0M388.5 483h0M389.5 411.5h0M389.5 422.5h0M389.5 429.5h0M389.5 435h0M389.5 440h0M389.5 445h0M389.5 450h0M389.5 455.5h0M389.5 463h0M389.5 473.5h0M390 401h0M390 484h0M391 410h0M391 421h0M391 427.5h0M391 433h0M391 438h0M391 442.5h0M391 447h0M391 452h0M391 457.5h0M391 464h0M391 475h0M392 399.5h0M392.5 409h0M392.5 419.5h0M392.5 426.5h0M392.5 431.5h0M392.5 436h0M392.5 440.5h0M392.5 444.5h0M392.5 449h0M392.5 453.5h0M392.5 458.5h0M392.5 465.5h0M392.5 476h0M394 408h0M394 418.5h0M394 425h0M394 430h0M394 434.5h0M394 438.5h0M394 442.5h0M394 446.5h0M394 450.5h0M394 455h0M394 460h0M394 466.5h0M394 477h0M395.5 407h0M395.5 417.5h0M395.5 424h0M395.5 429h0M395.5 433h0M395.5 437h0M395.5 440.5h0M395.5 444.5h0M395.5 448h0M395.5 452h0M395.5 456h0M395.5 461h0M395.5 467.5h0M396.5 406h0M396.5 416.5h0M396.5 423h0M396.5 427.5h0M396.5 432h0M396.5 435.5h0M396.5 439h0M396.5 442.5h0M396.5 446h0M396.5 449.5h0M396.5 453h0M396.5 457.5h0M396.5 462.5h0M396.5 468.5h0M397.5 415.5h0M397.5 422h0M397.5 426.5h0M397.5 430.5h0M397.5 434.5h0M397.5 437.5h0M397.5 441h0M397.5 444h0M397.5 447.5h0M397.5 450.5h0M397.5 454.5h0M397.5 458.5h0M397.5 463.5h0M397.5 469.5h0M399 414.5h0M399 421h0M399 425.5h0M399 429.5h0M399 433h0M399 436.5h0M399 439.5h0M399 442.5h0M399 445.5h0M399 448.5h0M399 452h0M399 455.5h0M399 459.5h0M399 464h0M399 470.5h0M400 413.5h0M400 420h0M400 424.5h0M400 428.5h0M400 432h0M400 435.5h0M400 438h0M400 441h0M400 444h0M400 447h0M400 450h0M400 453h0M400 456.5h0M400 460.5h0M400 465h0M401 413h0M401 419h0M401 424h0M401 427.5h0M401 431h0M401 434h0M401 437h0M401 440h0M401 442.5h0M401 445h0M401 448h0M401 451h0M401 454h0M401 457.5h0M401 461h0M401 466h0M401.5 412h0M401.5 418.5h0M401.5 423h0M401.5 427h0M401.5 430h0M401.5 433h0M401.5 436h0M401.5 438.5h0M401.5 441h0M401.5 444h0M401.5 446.5h0M401.5 449h0M401.5 452h0M401.5 455h0M401.5 458h0M401.5 462h0M401.5 466.5h0M402.5 417.5h0M402.5 422.5h0M402.5 426h0M402.5 429.5h0M402.5 432.5h0M402.5 435h0M402.5 437.5h0M402.5 440h0M402.5 442.5h0M402.5 445h0M402.5 447.5h0M402.5 450h0M402.5 453h0M402.5 455.5h0M402.5 459h0M402.5 463h0M403.5 417h0M403.5 421.5h0M403.5 425.5h0M403.5 428.5h0M403.5 431.5h0M403.5 434h0M403.5 436.5h0M403.5 439h0M403.5 441.5h0M403.5 443.5h0M403.5 446h0M403.5 448.5h0M403.5 451h0M403.5 453.5h0M403.5 456.5h0M403.5 460h0M403.5 463.5h0M404 416.5h0M404 421h0M404 424.5h0M404 427.5h0M404 430.5h0M404 433h0M404 435.5h0M404 438h0M404 440.5h0M404 442.5h0M404 445h0M404 447h0M404 449.5h0M404 452h0M404 454.5h0M404 457.5h0M404 460.5h0M404 464h0M405 415.5h0M405 420h0M405 424h0M405 427h0M405 430h0M405 432.5h0M405 435h0M405 437h0M405 439.5h0M405 441.5h0M405 443.5h0M405 446h0M405 448h0M405 450.5h0M405 452.5h0M405 455h0M405 458h0M405 461h0M406 426.5h0M406 429h0M406 431.5h0M406 434h0M406 436h0M406 438.5h0M406 440.5h0M406 442.5h0M406 444.5h0M406 446.5h0M406.5 419h0M406.5 425.5h0M406.5 428.5h0M406.5 431h0M406.5 433h0M406.5 435.5h0M406.5 437.5h0M406.5 439.5h0M406.5 441.5h0M406.5 443.5h0M406.5 445.5h0M406.5 447.5h0M406.5 449.5h0M407 425h0M407 427.5h0M407 430h0M407 432.5h0M407 434.5h0M407 436.5h0M407 438.5h0M407 440.5h0M407 442.5h0M407 444.5h0M407 446.5h0M407 448.5h0M407 450.5h0M407 457.5h0M408 427h0M408 429.5h0M408 432h0M408 434h0M408 436h0M408 438h0M408 439.5h0M408 441.5h0M408 443.5h0M408 445.5h0M408 449h0M408 451h0M408 455.5h0M408.5 426.5h0M408.5 429h0M408.5 431h0M408.5 433h0M408.5 435h0M408.5 437h0M408.5 439h0M408.5 440.5h0M408.5 442.5h0M408.5 444.5h0M408.5 446h0M408.5 448h0M408.5 450h0M408.5 452h0M409 423.5h0M409 426h0M409 430.5h0M409 432.5h0M409 434.5h0M409 436.5h0M409 438h0M409 440h0M409 441.5h0M409 443.5h0M409 445h0M409 447h0M409 448.5h0M409 452.5h0M409.5 425.5h0M409.5 427.5h0M409.5 430h0M409.5 432h0M409.5 434h0M409.5 435.5h0M409.5 437.5h0M409.5 439h0M409.5 441h0M409.5 442.5h0M409.5 444h0M409.5 446h0M409.5 447.5h0M409.5 449.5h0M410.5 422.5h0M410.5 425h0M410.5 427h0M410.5 429.5h0M410.5 431.5h0M410.5 433h0M410.5 435h0M410.5 436.5h0M410.5 438.5h0M410.5 440h0M410.5 441.5h0M410.5 443.5h0M410.5 445h0M410.5 446.5h0M410.5 448.5h0M410.5 450h0M410.5 452h0M410.5 453.5h0M411 424.5h0M411 429h0M411 430.5h0M411 432.5h0M411 434.5h0M411 436h0M411 437.5h0M411 439.5h0M411 441h0M411 442.5h0M411 444h0M411 445.5h0M411 447.5h0M411 452.5h0M411.5 426h0M411.5 428h0M411.5 430h0M411.5 432h0M411.5 434h0M411.5 435.5h0M411.5 437h0M411.5 438.5h0M411.5 440h0M411.5 441.5h0M411.5 443.5h0M411.5 445h0M411.5 446.5h0M411.5 448h0M411.5 449.5h0M411.5 451.5h0M412 423.5h0M412 425.5h0M412 427.5h0M412 429.5h0M412 431.5h0M412 433h0M412 435h0M412 436.5h0M412 438h0M412 439.5h0M412 441h0M412 442.5h0M412 444h0M412 445.5h0M412 447h0M412 448.5h0M412 450h0M412.5 425h0M412.5 429h0M412.5 431h0M412.5 432.5h0M412.5 434.5h0M412.5 436h0M412.5 437.5h0M412.5 439h0M412.5 440.5h0M412.5 442h0M412.5 443h0M412.5 444.5h0M412.5 446h0M412.5 447.5h0M412.5 452.5h0M413 422.5h0M413 427h0M413 428.5h0M413 430.5h0M413 432h0M413 433.5h0M413 435.5h0M413 437h0M413 438h0M413 439.5h0M413 441h0M413 442.5h0M413 444h0M413 445.5h0M413 447h0M413 448.5h0M413 450h0M413 451.5h0M413 453h0M413.5 424.5h0M413.5 430h0M413.5 431.5h0M413.5 433h0M413.5 434.5h0M413.5 436h0M413.5 437.5h0M413.5 439h0M413.5 440.5h0M413.5 443h0M413.5 444.5h0M413.5 446h0M413.5 447.5h0M413.5 449h0M414 427.5h0M414 429.5h0M414 431h0M414 432.5h0M414 434h0M414 435.5h0M414 437h0M414 438.5h0M414 440h0M414 441h0M414 442.5h0M414 444h0M414 445h0M414 446.5h0M414.5 425.5h0M414.5 427.5h0M414.5 430.5h0M414.5 432h0M414.5 433.5h0M414.5 435h0M414.5 436.5h0M414.5 438h0M414.5 439h0M414.5 440.5h0M414.5 442h0M414.5 443h0M414.5 444.5h0M414.5 446h0M414.5 448.5h0M414.5 450h0M415 425h0M415 427h0M415 428.5h0M415 430h0M415 431.5h0M415 433h0M415 434.5h0M415 436h0M415 437.5h0M415 438.5h0M415 440h0M415 441h0M415 442.5h0M415 444h0M415 445h0M415 446.5h0M415 447.5h0M415 449h0M415.5 424.5h0M415.5 428h0M415.5 429.5h0M415.5 431.5h0M415.5 432.5h0M415.5 434h0M415.5 435.5h0M415.5 437h0M415.5 438h0M415.5 439.5h0M415.5 440.5h0M415.5 442h0M415.5 443h0M415.5 444.5h0M415.5 445.5h0M415.5 447h0M415.5 449.5h0M415.5 451h0M416 426h0M416 427.5h0M416 429h0M416 430.5h0M416 431h0M416 432h0M416 432.5h0M416 433h0M416 433.5h0M416 434.5h0M416 435h0M416 436h0M416 436.5h0M416 437h0M416 437.5h0M416 438.5h0M416 439h0M416 439.5h0M416 440h0M416 440.5h0M416 441.5h0M416 442h0M416 442.5h0M416 443h0M416 444.5h0M416 445h0M416 445.5h0M416 446h0M416 446.5h0M416 448h0M416 449h0M416 450.5h0M416 451.5h0M416.5 428.5h0M416.5 431.5h0M416.5 432.5h0M416.5 434h0M416.5 435.5h0M416.5 436.5h0M416.5 438h0M416.5 439h0M416.5 440h0M416.5 441.5h0M416.5 442.5h0M416.5 443.5h0M416.5 445h0M416.5 446h0M416.5 447h0M416.5 448.5h0M416.5 449.5h0M417 428h0M417 431h0M417 432.5h0M417 433.5h0M417 435h0M417 436h0M417 437.5h0M417 438.5h0M417 439.5h0M417 441h0M417 442h0M417 443h0M417 444h0M417 445.5h0M417 446.5h0M417 447.5h0M417 452.5h0M417.5 429h0M417.5 430.5h0M417.5 432h0M417.5 433h0M417.5 434.5h0M417.5 435.5h0M417.5 437h0M417.5 438h0M417.5 439h0M417.5 440.5h0M417.5 441.5h0M417.5 442.5h0M417.5 443.5h0M417.5 445h0M417.5 446h0M417.5 447h0M417.5 450.5h0M418 427h0M418 428.5h0M418 429h0M418 430h0M418 431h0M418 431.5h0M418 432.5h0M418 433.5h0M418 434h0M418 435h0M418 436h0M418 436.5h0M418 437h0M418 437.5h0M418 438h0M418 438.5h0M418 439.5h0M418 440h0M418 440.5h0M418 441h0M418 441.5h0M418 442h0M418 442.5h0M418 443h0M418 443.5h0M418 444h0M418 444.5h0M418 445.5h0M418 446h0M418 448.5h0M418 450h0M418.5 429.5h0M418.5 432h0M418.5 433h0M418.5 434.5h0M418.5 435.5h0M418.5 436.5h0M418.5 437.5h0M418.5 439h0M418.5 440h0M418.5 441h0M418.5 442h0M418.5 443h0M418.5 444h0M418.5 445h0M418.5 446h0M418.5 447.5h0M418.5 448.5h0M418.5 449.5h0M419 429h0M419 431.5h0M419 433h0M419 434h0M419 435h0M419 436h0M419 437.5h0M419 438.5h0M419 439.5h0M419 440.5h0M419 441.5h0M419 442.5h0M419 443.5h0M419 444.5h0M419 445.5h0M419 446.5h0M419 448h0M419 449h0M419 450h0M419.5 422.5h0M419.5 427.5h0M419.5 428.5h0M419.5 429.5h0M419.5 430h0M419.5 432h0M419.5 432.5h0M419.5 433h0M419.5 433.5h0M419.5 434.5h0M419.5 435.5h0M419.5 436h0M419.5 436.5h0M419.5 437h0M419.5 437.5h0M419.5 438h0M419.5 438.5h0M419.5 439h0M419.5 439.5h0M419.5 440h0M419.5 440.5h0M419.5 441h0M419.5 441.5h0M419.5 442h0M419.5 442.5h0M419.5 443h0M419.5 443.5h0M419.5 444h0M419.5 444.5h0M419.5 445.5h0M419.5 447h0M419.5 450.5h0M420 430.5h0M420 431.5h0M420 433h0M420 434h0M420 435h0M420 436h0M420 437h0M420 438h0M420 439h0M420 440h0M420 441h0M420 442h0M420 443h0M420 444h0M420 445h0M420 446h0M420 447h0M420 448h0M420.5 426.5h0M420.5 428.5h0M420.5 429h0M420.5 430h0M420.5 431.5h0M420.5 432h0M420.5 432.5h0M420.5 433h0M420.5 433.5h0M420.5 434h0M420.5 434.5h0M420.5 435.5h0M420.5 436.5h0M420.5 437.5h0M420.5 438h0M420.5 438.5h0M420.5 439h0M420.5 439.5h0M420.5 440h0M420.5 440.5h0M420.5 441h0M420.5 441.5h0M420.5 442h0M420.5 442.5h0M420.5 443h0M420.5 443.5h0M420.5 444h0M420.5 444.5h0M420.5 445h0M420.5 445.5h0M420.5 446.5h0M420.5 447h0M421 427h0M421 429.5h0M421 432h0M421 433h0M421 434h0M421 435h0M421 436h0M421 437h0M421 438h0M421 439h0M421 439.5h0M421 440.5h0M421 441.5h0M421 442.5h0M421 443.5h0M421 444.5h0M421 447h0M421.5 422.5h0M421.5 424h0M421.5 425h0M421.5 429h0M421.5 430h0M421.5 430.5h0M421.5 431h0M421.5 431.5h0M421.5 432.5h0M421.5 433h0M421.5 433.5h0M421.5 434h0M421.5 434.5h0M421.5 435h0M421.5 435.5h0M421.5 436h0M421.5 436.5h0M421.5 437h0M421.5 437.5h0M421.5 438h0M421.5 438.5h0M421.5 439h0M421.5 439.5h0M421.5 440h0M421.5 440.5h0M421.5 441h0M421.5 441.5h0M421.5 442h0M421.5 442.5h0M421.5 443h0M421.5 443.5h0M421.5 444h0M421.5 444.5h0M421.5 445h0M421.5 445.5h0M421.5 446h0M421.5 447h0M421.5 448h0M422 427.5h0M422 431h0M422 432h0M422 433h0M422 434h0M422 435h0M422 436h0M422 436.5h0M422 437.5h0M422 438.5h0M422 439.5h0M422 440.5h0M422 441h0M422 442h0M422 443h0M422 444h0M422 444.5h0M422 445.5h0M422 446.5h0M422 447.5h0M422.5 428.5h0M422.5 430h0M422.5 431h0M422.5 431.5h0M422.5 432h0M422.5 432.5h0M422.5 433h0M422.5 433.5h0M422.5 434h0M422.5 434.5h0M422.5 435h0M422.5 435.5h0M422.5 436h0M422.5 436.5h0M422.5 437h0M422.5 438h0M422.5 438.5h0M422.5 439h0M422.5 440h0M422.5 440.5h0M422.5 441h0M422.5 441.5h0M422.5 442h0M422.5 442.5h0M422.5 443.5h0M422.5 444h0M422.5 444.5h0M422.5 445h0M422.5 445.5h0M422.5 446h0M422.5 447h0M422.5 447.5h0M422.5 448.5h0M423 425h0M423 426.5h0M423 427.5h0M423 430h0M423 431h0M423 432h0M423 432.5h0M423 433h0M423 434h0M423 434.5h0M423 435.5h0M423 436h0M423 436.5h0M423 437h0M423 437.5h0M423 438h0M423 438.5h0M423 439h0M423 439.5h0M423 440h0M423 440.5h0M423 441h0M423 441.5h0M423 442h0M423 442.5h0M423 443h0M423 443.5h0M423 444h0M423 444.5h0M423 447h0M423 448h0M423 449h0M423.5 430.5h0M423.5 432.5h0M423.5 433h0M423.5 434h0M423.5 435h0M423.5 436h0M423.5 436.5h0M423.5 437.5h0M423.5 438.5h0M423.5 439h0M423.5 440h0M423.5 441h0M423.5 441.5h0M423.5 442.5h0M423.5 443.5h0M423.5 444h0M423.5 445h0M423.5 446h0M423.5 446.5h0M423.5 451h0M424 430h0M424 431h0M424 431.5h0M424 432h0M424 432.5h0M424 433.5h0M424 434h0M424 434.5h0M424 435h0M424 435.5h0M424 436h0M424 436.5h0M424 437h0M424 437.5h0M424 438h0M424 438.5h0M424 439h0M424 439.5h0M424 440h0M424 440.5h0M424 441h0M424 441.5h0M424 442h0M424 442.5h0M424 443h0M424 443.5h0M424 444h0M424 444.5h0M424 445.5h0M424 447h0M424 449h0M424.5 430h0M424.5 430.5h0M424.5 431h0M424.5 432.5h0M424.5 433h0M424.5 434h0M424.5 434.5h0M424.5 435h0M424.5 435.5h0M424.5 436.5h0M424.5 437h0M424.5 437.5h0M424.5 438h0M424.5 438.5h0M424.5 439h0M424.5 439.5h0M424.5 440h0M424.5 440.5h0M424.5 441h0M424.5 441.5h0M424.5 442h0M424.5 442.5h0M424.5 443h0M424.5 444h0M424.5 445h0M424.5 452h0M425 430.5h0M425 431h0M425 431.5h0M425 432.5h0M425 433h0M425 433.5h0M425 434h0M425 434.5h0M425 435h0M425 435.5h0M425 436h0M425 436.5h0M425 437h0M425 437.5h0M425 438h0M425 438.5h0M425 439h0M425 439.5h0M425 440h0M425 440.5h0M425 441h0M425 441.5h0M425 442h0M425 442.5h0M425 443h0M425 443.5h0M425 444.5h0M425 445h0M425 446.5h0M425 447h0M425 448.5h0M425.5 431h0M425.5 432h0M425.5 433h0M425.5 433.5h0M425.5 434.5h0M425.5 435h0M425.5 435.5h0M425.5 436h0M425.5 436.5h0M425.5 437h0M425.5 437.5h0M425.5 438h0M425.5 438.5h0M425.5 439h0M425.5 439.5h0M425.5 440h0M425.5 440.5h0M425.5 441h0M425.5 441.5h0M425.5 442h0M425.5 442.5h0M425.5 443h0M425.5 443.5h0M425.5 444h0M425.5 444.5h0M425.5 445h0M425.5 445.5h0M425.5 447h0M425.5 448h0M425.5 450h0M426 430h0M426 430.5h0M426 432h0M426 432.5h0M426 433h0M426 433.5h0M426 434h0M426 434.5h0M426 435h0M426 435.5h0M426 436h0M426 436.5h0M426 437h0M426 437.5h0M426 438h0M426 438.5h0M426 439h0M426 439.5h0M426 440h0M426 440.5h0M426 441h0M426 442h0M426 442.5h0M426 443h0M426 443.5h0M426 444.5h0M426 445h0M426 446h0M426.5 429.5h0M426.5 431h0M426.5 432.5h0M426.5 433h0M426.5 433.5h0M426.5 434h0M426.5 434.5h0M426.5 435h0M426.5 435.5h0M426.5 436h0M426.5 436.5h0M426.5 437h0M426.5 437.5h0M426.5 438h0M426.5 438.5h0M426.5 439h0M426.5 439.5h0M426.5 440h0M426.5 440.5h0M426.5 441h0M426.5 441.5h0M426.5 442h0M426.5 442.5h0M426.5 443h0M426.5 444h0M426.5 444.5h0M426.5 445.5h0M426.5 446h0M426.5 446.5h0M426.5 447.5h0M427 429.5h0M427 431.5h0M427 432h0M427 432.5h0M427 433.5h0M427 434h0M427 434.5h0M427 435h0M427 435.5h0M427 436h0M427 436.5h0M427 437h0M427 437.5h0M427 438h0M427 438.5h0M427 439.5h0M427 440h0M427 440.5h0M427 441h0M427 441.5h0M427 442h0M427 443h0M427 443.5h0M427 444h0M427 444.5h0M427 445h0M427 445.5h0M427 446.5h0M427 447.5h0M427 451h0M427.5 429h0M427.5 431h0M427.5 432h0M427.5 433h0M427.5 433.5h0M427.5 434h0M427.5 434.5h0M427.5 435h0M427.5 435.5h0M427.5 436h0M427.5 436.5h0M427.5 437h0M427.5 437.5h0M427.5 438h0M427.5 438.5h0M427.5 439h0M427.5 439.5h0M427.5 440h0M427.5 440.5h0M427.5 441h0M427.5 441.5h0M427.5 442h0M427.5 442.5h0M427.5 443h0M427.5 443.5h0M427.5 444h0M427.5 446h0M428 430.5h0M428 431h0M428 431.5h0M428 432.5h0M428 433.5h0M428 434h0M428 434.5h0M428 435h0M428 435.5h0M428 436h0M428 436.5h0M428 437h0M428 437.5h0M428 438h0M428 438.5h0M428 439h0M428 439.5h0M428 440h0M428 440.5h0M428 441h0M428 441.5h0M428 442h0M428 442.5h0M428 443h0M428 443.5h0M428 444h0M428 445h0M428 445.5h0M428 446.5h0M428 447h0M428 448.5h0M428.5 429h0M428.5 429.5h0M428.5 430.5h0M428.5 432h0M428.5 432.5h0M428.5 433h0M428.5 434h0M428.5 434.5h0M428.5 435h0M428.5 435.5h0M428.5 436h0M428.5 436.5h0M428.5 437h0M428.5 437.5h0M428.5 438h0M428.5 438.5h0M428.5 439h0M428.5 439.5h0M428.5 440h0M428.5 440.5h0M428.5 441h0M428.5 441.5h0M428.5 442h0M428.5 442.5h0M428.5 443h0M428.5 443.5h0M428.5 444h0M428.5 444.5h0M428.5 446h0M428.5 448h0M429 430h0M429 431.5h0M429 432.5h0M429 433h0M429 433.5h0M429 434h0M429 434.5h0M429 435h0M429 435.5h0M429 436h0M429 436.5h0M429 437h0M429 437.5h0M429 438h0M429 438.5h0M429 439h0M429 439.5h0M429 440h0M429 440.5h0M429 441h0M429 441.5h0M429 442h0M429 442.5h0M429 443h0M429 443.5h0M429 444h0M429 444.5h0M429 445h0M429 445.5h0M429 446h0M429.5 431.5h0M429.5 432h0M429.5 432.5h0M429.5 433h0M429.5 433.5h0M429.5 434h0M429.5 434.5h0M429.5 435h0M429.5 435.5h0M429.5 436h0M429.5 436.5h0M429.5 437h0M429.5 437.5h0M429.5 438h0M429.5 438.5h0M429.5 439h0M429.5 439.5h0M429.5 440h0M429.5 440.5h0M429.5 441h0M429.5 441.5h0M429.5 442h0M429.5 443h0M429.5 443.5h0M429.5 444h0M429.5 444.5h0M429.5 445h0M429.5 445.5h0M429.5 446h0M429.5 446.5h0M430 429h0M430 431h0M430 431.5h0M430 432h0M430 432.5h0M430 433h0M430 433.5h0M430 434h0M430 434.5h0M430 435h0M430 435.5h0M430 436h0M430 436.5h0M430 437h0M430 437.5h0M430 438h0M430 438.5h0M430 439h0M430 439.5h0M430 440h0M430 440.5h0M430 441h0M430 441.5h0M430 442h0M430 442.5h0M430 443h0M430 443.5h0M430 444h0M430 444.5h0M430 445.5h0M430 446h0M430 446.5h0M430.5 431h0M430.5 432h0M430.5 433h0M430.5 433.5h0M430.5 434h0M430.5 435h0M430.5 435.5h0M430.5 436h0M430.5 436.5h0M430.5 437h0M430.5 437.5h0M430.5 438h0M430.5 438.5h0M430.5 439h0M430.5 439.5h0M430.5 440h0M430.5 440.5h0M430.5 441h0M430.5 441.5h0M430.5 442h0M430.5 442.5h0M430.5 443h0M430.5 443.5h0M430.5 444h0M430.5 444.5h0M430.5 445.5h0M430.5 446h0M430.5 446.5h0M430.5 449h0M430.5 451h0M431 427.5h0M431 428.5h0M431 431.5h0M431 432h0M431 432.5h0M431 433h0M431 433.5h0M431 434h0M431 434.5h0M431 435h0M431 435.5h0M431 436h0M431 436.5h0M431 437h0M431 437.5h0M431 438h0M431 438.5h0M431 439h0M431 439.5h0M431 440h0M431 440.5h0M431 441h0M431 441.5h0M431 442h0M431 442.5h0M431 443h0M431 443.5h0M431 444h0M431 444.5h0M431 446h0M431.5 428.5h0M431.5 429h0M431.5 431h0M431.5 432h0M431.5 432.5h0M431.5 433h0M431.5 433.5h0M431.5 434h0M431.5 434.5h0M431.5 435h0M431.5 435.5h0M431.5 436h0M431.5 436.5h0M431.5 437h0M431.5 437.5h0M431.5 438h0M431.5 438.5h0M431.5 439h0M431.5 439.5h0M431.5 440h0M431.5 440.5h0M431.5 441h0M431.5 441.5h0M431.5 442h0M431.5 442.5h0M431.5 443h0M431.5 443.5h0M431.5 444h0M431.5 445.5h0M431.5 446.5h0M431.5 447h0M431.5 448h0M431.5 449h0M432 427h0M432 430h0M432 431.5h0M432 432h0M432 432.5h0M432 433h0M432 433.5h0M432 434h0M432 434.5h0M432 435.5h0M432 436h0M432 436.5h0M432 437h0M432 437.5h0M432 438h0M432 438.5h0M432 439h0M432 439.5h0M432 440h0M432 440.5h0M432 441h0M432 441.5h0M432 442h0M432 442.5h0M432 443.5h0M432 444h0M432 444.5h0M432 445h0M432 445.5h0M432 446h0M432.5 431h0M432.5 431.5h0M432.5 432h0M432.5 432.5h0M432.5 433h0M432.5 433.5h0M432.5 434h0M432.5 434.5h0M432.5 435h0M432.5 435.5h0M432.5 436h0M432.5 436.5h0M432.5 437h0M432.5 437.5h0M432.5 438h0M432.5 438.5h0M432.5 439h0M432.5 439.5h0M432.5 440h0M432.5 440.5h0M432.5 441h0M432.5 441.5h0M432.5 442h0M432.5 442.5h0M432.5 443h0M432.5 443.5h0M432.5 444h0M432.5 444.5h0M432.5 446.5h0M432.5 447.5h0M432.5 449h0M433 428h0M433 429.5h0M433 430.5h0M433 431.5h0M433 432h0M433 433h0M433 433.5h0M433 434h0M433 434.5h0M433 435h0M433 435.5h0M433 436h0M433 436.5h0M433 437h0M433 437.5h0M433 438h0M433 438.5h0M433 439h0M433 439.5h0M433 440h0M433 440.5h0M433 441h0M433 441.5h0M433 442h0M433 442.5h0M433 443h0M433 443.5h0M433 444h0M433 444.5h0M433 446h0M433 447.5h0M433.5 430h0M433.5 431h0M433.5 432h0M433.5 433h0M433.5 433.5h0M433.5 434h0M433.5 434.5h0M433.5 435h0M433.5 435.5h0M433.5 436h0M433.5 436.5h0M433.5 437h0M433.5 437.5h0M433.5 438h0M433.5 438.5h0M433.5 439h0M433.5 439.5h0M433.5 440h0M433.5 440.5h0M433.5 441h0M433.5 441.5h0M433.5 442h0M433.5 442.5h0M433.5 443h0M433.5 443.5h0M433.5 444h0M433.5 444.5h0M433.5 445h0M433.5 448.5h0M434 431h0M434 432h0M434 432.5h0M434 433h0M434 434h0M434 434.5h0M434 435h0M434 435.5h0M434 436h0M434 436.5h0M434 437h0M434 437.5h0M434 438h0M434 438.5h0M434 439h0M434 439.5h0M434 440h0M434 440.5h0M434 441h0M434 441.5h0M434 442h0M434 442.5h0M434 443h0M434 443.5h0M434 444h0M434 444.5h0M434 445h0M434 445.5h0M434 446h0M434 446.5h0M434.5 432h0M434.5 432.5h0M434.5 433h0M434.5 434h0M434.5 434.5h0M434.5 435h0M434.5 435.5h0M434.5 436h0M434.5 436.5h0M434.5 437h0M434.5 437.5h0M434.5 438h0M434.5 438.5h0M434.5 439h0M434.5 439.5h0M434.5 440h0M434.5 440.5h0M434.5 441h0M434.5 441.5h0M434.5 442h0M434.5 442.5h0M434.5 443h0M434.5 443.5h0M434.5 444h0M434.5 445h0M434.5 446.5h0M434.5 448h0M435 430.5h0M435 431.5h0M435 432h0M435 432.5h0M435 433h0M435 433.5h0M435 434h0M435 434.5h0M435 435h0M435 435.5h0M435 436h0M435 436.5h0M435 437h0M435 437.5h0M435 438h0M435 438.5h0M435 439h0M435 439.5h0M435 440h0M435 440.5h0M435 441h0M435 441.5h0M435 442h0M435 442.5h0M435 443h0M435 444h0M435 444.5h0M435 445h0M435 445.5h0M435 450.5h0M435.5 430h0M435.5 431h0M435.5 431.5h0M435.5 433h0M435.5 433.5h0M435.5 434.5h0M435.5 435h0M435.5 435.5h0M435.5 436h0M435.5 436.5h0M435.5 437h0M435.5 437.5h0M435.5 438h0M435.5 438.5h0M435.5 439h0M435.5 439.5h0M435.5 440h0M435.5 440.5h0M435.5 441h0M435.5 441.5h0M435.5 442h0M435.5 442.5h0M435.5 443h0M435.5 443.5h0M435.5 444.5h0M435.5 445.5h0M436 430h0M436 431.5h0M436 432h0M436 433.5h0M436 434h0M436 434.5h0M436 435h0M436 435.5h0M436 436h0M436 436.5h0M436 437h0M436 437.5h0M436 438h0M436 438.5h0M436 439h0M436 439.5h0M436 440h0M436 440.5h0M436 441h0M436 441.5h0M436 442h0M436 442.5h0M436 443h0M436 443.5h0M436 444h0M436 444.5h0M436 445h0M436 445.5h0M436 446h0M436 448h0M436.5 427.5h0M436.5 429.5h0M436.5 432h0M436.5 432.5h0M436.5 433h0M436.5 433.5h0M436.5 434h0M436.5 434.5h0M436.5 435h0M436.5 436h0M436.5 436.5h0M436.5 437h0M436.5 437.5h0M436.5 438h0M436.5 438.5h0M436.5 439h0M436.5 439.5h0M436.5 440h0M436.5 440.5h0M436.5 441h0M436.5 441.5h0M436.5 442h0M436.5 442.5h0M436.5 443.5h0M436.5 446h0M437 428h0M437 430.5h0M437 432h0M437 433h0M437 433.5h0M437 434h0M437 434.5h0M437 435h0M437 435.5h0M437 436h0M437 436.5h0M437 437h0M437 437.5h0M437 438h0M437 438.5h0M437 439h0M437 439.5h0M437 440h0M437 440.5h0M437 441h0M437 441.5h0M437 442h0M437 442.5h0M437 443h0M437 443.5h0M437 444h0M437 444.5h0M437 445h0M437 445.5h0M437 447h0M437.5 426.5h0M437.5 430h0M437.5 432.5h0M437.5 433h0M437.5 433.5h0M437.5 434h0M437.5 434.5h0M437.5 435h0M437.5 435.5h0M437.5 436h0M437.5 436.5h0M437.5 437h0M437.5 437.5h0M437.5 438h0M437.5 438.5h0M437.5 439h0M437.5 439.5h0M437.5 440h0M437.5 440.5h0M437.5 441h0M437.5 441.5h0M437.5 442h0M437.5 442.5h0M437.5 443h0M437.5 443.5h0M437.5 444h0M437.5 444.5h0M437.5 446.5h0M437.5 448.5h0M438 427h0M438 430.5h0M438 431.5h0M438 432h0M438 432.5h0M438 433h0M438 433.5h0M438 434h0M438 434.5h0M438 435h0M438 435.5h0M438 436h0M438 436.5h0M438 437h0M438 437.5h0M438 438h0M438 438.5h0M438 439h0M438 439.5h0M438 440h0M438 440.5h0M438 441h0M438 441.5h0M438 442h0M438 442.5h0M438 443h0M438 443.5h0M438 444h0M438 444.5h0M438 445h0M438 445.5h0M438 446.5h0M438 447h0M438.5 429.5h0M438.5 432h0M438.5 433h0M438.5 433.5h0M438.5 434h0M438.5 434.5h0M438.5 435h0M438.5 435.5h0M438.5 436h0M438.5 436.5h0M438.5 437h0M438.5 437.5h0M438.5 438h0M438.5 438.5h0M438.5 439h0M438.5 439.5h0M438.5 440h0M438.5 440.5h0M438.5 441h0M438.5 441.5h0M438.5 442h0M438.5 442.5h0M438.5 443h0M438.5 443.5h0M438.5 444h0M438.5 444.5h0M438.5 445.5h0M438.5 446h0M438.5 446.5h0M439 432h0M439 433h0M439 433.5h0M439 434h0M439 434.5h0M439 435h0M439 435.5h0M439 436h0M439 436.5h0M439 437h0M439 437.5h0M439 438h0M439 438.5h0M439 439h0M439 439.5h0M439 440h0M439 440.5h0M439 441h0M439 441.5h0M439 442h0M439 442.5h0M439 443h0M439 443.5h0M439 444h0M439 444.5h0M439 445.5h0M439.5 430h0M439.5 432.5h0M439.5 433h0M439.5 433.5h0M439.5 434h0M439.5 434.5h0M439.5 435h0M439.5 435.5h0M439.5 436h0M439.5 436.5h0M439.5 437h0M439.5 437.5h0M439.5 438h0M439.5 438.5h0M439.5 439h0M439.5 439.5h0M439.5 440h0M439.5 440.5h0M439.5 441h0M439.5 441.5h0M439.5 442h0M439.5 442.5h0M439.5 443h0M439.5 444h0M439.5 444.5h0M439.5 446h0M439.5 448.5h0M440 430h0M440 431.5h0M440 432h0M440 433h0M440 433.5h0M440 434h0M440 434.5h0M440 435h0M440 435.5h0M440 436h0M440 436.5h0M440 437h0M440 437.5h0M440 438h0M440 438.5h0M440 439h0M440 439.5h0M440 440h0M440 440.5h0M440 441h0M440 441.5h0M440 442h0M440 442.5h0M440 443h0M440 444h0M440 445.5h0M440 446h0M440.5 431.5h0M440.5 432.5h0M440.5 434h0M440.5 434.5h0M440.5 435h0M440.5 435.5h0M440.5 436h0M440.5 436.5h0M440.5 437h0M440.5 437.5h0M440.5 438h0M440.5 438.5h0M440.5 439h0M440.5 439.5h0M440.5 440h0M440.5 440.5h0M440.5 441h0M440.5 441.5h0M440.5 442h0M440.5 443h0M440.5 443.5h0M440.5 444h0M440.5 445h0M441 430h0M441 430.5h0M441 431h0M441 431.5h0M441 432.5h0M441 433h0M441 433.5h0M441 434h0M441 434.5h0M441 435h0M441 435.5h0M441 436h0M441 436.5h0M441 437h0M441 437.5h0M441 438h0M441 438.5h0M441 439h0M441 439.5h0M441 440h0M441 440.5h0M441 441h0M441 441.5h0M441 442h0M441 442.5h0M441 443h0M441 443.5h0M441 444h0M441 444.5h0M441 446h0M441 447.5h0M441.5 433h0M441.5 434h0M441.5 434.5h0M441.5 435h0M441.5 435.5h0M441.5 436h0M441.5 436.5h0M441.5 437h0M441.5 437.5h0M441.5 438h0M441.5 438.5h0M441.5 439h0M441.5 439.5h0M441.5 440h0M441.5 440.5h0M441.5 441.5h0M441.5 442h0M441.5 442.5h0M441.5 443h0M441.5 443.5h0M441.5 444h0M441.5 444.5h0M441.5 447h0M442 430.5h0M442 431h0M442 431.5h0M442 432h0M442 432.5h0M442 433h0M442 433.5h0M442 434h0M442 434.5h0M442 435h0M442 435.5h0M442 436h0M442 436.5h0M442 437h0M442 437.5h0M442 438h0M442 438.5h0M442 439h0M442 439.5h0M442 440h0M442 440.5h0M442 441h0M442 441.5h0M442 442h0M442 443h0M442 443.5h0M442 444h0M442 445h0M442 446.5h0M442 448.5h0M442.5 433h0M442.5 433.5h0M442.5 434h0M442.5 434.5h0M442.5 435h0M442.5 435.5h0M442.5 436h0M442.5 436.5h0M442.5 437h0M442.5 437.5h0M442.5 438h0M442.5 438.5h0M442.5 439h0M442.5 439.5h0M442.5 440h0M442.5 440.5h0M442.5 441h0M442.5 441.5h0M442.5 442h0M442.5 442.5h0M442.5 443h0M442.5 444h0M442.5 444.5h0M442.5 446h0M443 430h0M443 432h0M443 433h0M443 433.5h0M443 434h0M443 434.5h0M443 435h0M443 435.5h0M443 436h0M443 436.5h0M443 437h0M443 437.5h0M443 438h0M443 438.5h0M443 439h0M443 439.5h0M443 440h0M443 440.5h0M443 441h0M443 441.5h0M443 442h0M443 442.5h0M443 443h0M443 443.5h0M443 444h0M443 447h0M443.5 430.5h0M443.5 431h0M443.5 431.5h0M443.5 432h0M443.5 433h0M443.5 434h0M443.5 434.5h0M443.5 435h0M443.5 435.5h0M443.5 436h0M443.5 436.5h0M443.5 437h0M443.5 437.5h0M443.5 438h0M443.5 438.5h0M443.5 439h0M443.5 439.5h0M443.5 440h0M443.5 440.5h0M443.5 441h0M443.5 441.5h0M443.5 442h0M443.5 442.5h0M443.5 443h0M443.5 443.5h0M443.5 445h0M443.5 445.5h0M444 432.5h0M444 433.5h0M444 434.5h0M444 435h0M444 435.5h0M444 436h0M444 436.5h0M444 437h0M444 437.5h0M444 438h0M444 438.5h0M444 439h0M444 439.5h0M444 440h0M444 440.5h0M444 441h0M444 441.5h0M444 442h0M444 442.5h0M444 444h0M444 444.5h0M444.5 428.5h0M444.5 432h0M444.5 432.5h0M444.5 433.5h0M444.5 434h0M444.5 434.5h0M444.5 435h0M444.5 435.5h0M444.5 436h0M444.5 436.5h0M444.5 437h0M444.5 437.5h0M444.5 438h0M444.5 438.5h0M444.5 439h0M444.5 439.5h0M444.5 440h0M444.5 440.5h0M444.5 441h0M444.5 441.5h0M444.5 442h0M444.5 442.5h0M444.5 443h0M444.5 443.5h0M444.5 444h0M444.5 444.5h0M444.5 447h0M445 427.5h0M445 432h0M445 432.5h0M445 433.5h0M445 434h0M445 434.5h0M445 435h0M445 435.5h0M445 436h0M445 436.5h0M445 437h0M445 437.5h0M445 438h0M445 438.5h0M445 439h0M445 439.5h0M445 440h0M445 440.5h0M445 441h0M445 441.5h0M445 442.5h0M445 443.5h0M445 444h0M445 445h0M445.5 432.5h0M445.5 433h0M445.5 433.5h0M445.5 434.5h0M445.5 435h0M445.5 435.5h0M445.5 436h0M445.5 436.5h0M445.5 437h0M445.5 437.5h0M445.5 438h0M445.5 438.5h0M445.5 439h0M445.5 439.5h0M445.5 440h0M445.5 440.5h0M445.5 441h0M445.5 441.5h0M445.5 442.5h0M445.5 443h0M445.5 443.5h0M445.5 444h0M445.5 444.5h0M445.5 445h0M446 432h0M446 433h0M446 433.5h0M446 434h0M446 434.5h0M446 435h0M446 435.5h0M446 436h0M446 436.5h0M446 437.5h0M446 438h0M446 438.5h0M446 439h0M446 439.5h0M446 440h0M446 440.5h0M446 441h0M446 441.5h0M446 442h0M446 442.5h0M446 443h0M446 444h0M446 446h0M446 447h0M446.5 432h0M446.5 433h0M446.5 433.5h0M446.5 434h0M446.5 434.5h0M446.5 435h0M446.5 435.5h0M446.5 436h0M446.5 436.5h0M446.5 437h0M446.5 437.5h0M446.5 438h0M446.5 438.5h0M446.5 439h0M446.5 439.5h0M446.5 440h0M446.5 440.5h0M446.5 441h0M446.5 441.5h0M446.5 442h0M446.5 442.5h0M446.5 443h0M446.5 443.5h0M446.5 445.5h0M447 433h0M447 434h0M447 434.5h0M447 435h0M447 435.5h0M447 436h0M447 436.5h0M447 437h0M447 437.5h0M447 438h0M447 438.5h0M447 439h0M447 439.5h0M447 440h0M447 440.5h0M447 441h0M447 442h0M447 442.5h0M447 443h0M447 443.5h0M447 444h0M447 444.5h0M447 445h0M447.5 431h0M447.5 431.5h0M447.5 433h0M447.5 433.5h0M447.5 434h0M447.5 434.5h0M447.5 435h0M447.5 435.5h0M447.5 436h0M447.5 436.5h0M447.5 437h0M447.5 437.5h0M447.5 438h0M447.5 438.5h0M447.5 439h0M447.5 439.5h0M447.5 440h0M447.5 440.5h0M447.5 441h0M447.5 441.5h0M447.5 442h0M447.5 442.5h0M447.5 443h0M447.5 443.5h0M447.5 444h0M447.5 444.5h0M447.5 446.5h0M448 430h0M448 432.5h0M448 433.5h0M448 434h0M448 434.5h0M448 435h0M448 435.5h0M448 436h0M448 436.5h0M448 437h0M448 437.5h0M448 438h0M448 438.5h0M448 439h0M448 439.5h0M448 440h0M448 440.5h0M448 441h0M448 441.5h0M448 442h0M448 443h0M448 443.5h0M448 444h0M448 444.5h0M448.5 432.5h0M448.5 433h0M448.5 433.5h0M448.5 434h0M448.5 435.5h0M448.5 436h0M448.5 436.5h0M448.5 437h0M448.5 437.5h0M448.5 438h0M448.5 438.5h0M448.5 439h0M448.5 439.5h0M448.5 440h0M448.5 440.5h0M448.5 441h0M448.5 441.5h0M448.5 442h0M448.5 442.5h0M448.5 443h0M448.5 445h0M448.5 446.5h0M449 431.5h0M449 432.5h0M449 433h0M449 434h0M449 434.5h0M449 435h0M449 435.5h0M449 436h0M449 436.5h0M449 437h0M449 437.5h0M449 438h0M449 438.5h0M449 439h0M449 439.5h0M449 440h0M449 440.5h0M449 441h0M449 441.5h0M449 442h0M449 442.5h0M449 443h0M449 443.5h0M449 444h0M449 444.5h0M449 445h0M449 445.5h0M449 446.5h0M449.5 433.5h0M449.5 434h0M449.5 434.5h0M449.5 435h0M449.5 435.5h0M449.5 436h0M449.5 436.5h0M449.5 437h0M449.5 437.5h0M449.5 438h0M449.5 438.5h0M449.5 439h0M449.5 439.5h0M449.5 440h0M449.5 441h0M449.5 441.5h0M449.5 442h0M449.5 442.5h0M449.5 443h0M449.5 443.5h0M449.5 444h0M449.5 444.5h0M449.5 445h0M450 429.5h0M450 432.5h0M450 433.5h0M450 434.5h0M450 435h0M450 435.5h0M450 436h0M450 436.5h0M450 437h0M450 437.5h0M450 438h0M450 438.5h0M450 439h0M450 439.5h0M450 440h0M450 440.5h0M450 441h0M450 441.5h0M450 442h0M450 442.5h0M450 444h0M450 444.5h0M450 445h0M450.5 430h0M450.5 433h0M450.5 433.5h0M450.5 434h0M450.5 434.5h0M450.5 435h0M450.5 435.5h0M450.5 436h0M450.5 436.5h0M450.5 437h0M450.5 437.5h0M450.5 438h0M450.5 438.5h0M450.5 439h0M450.5 439.5h0M450.5 440h0M450.5 440.5h0M450.5 441h0M450.5 441.5h0M450.5 442h0M450.5 443h0M450.5 443.5h0M450.5 444.5h0M450.5 446h0M451 434.5h0M451 435h0M451 435.5h0M451 436h0M451 436.5h0M451 437h0M451 437.5h0M451 438h0M451 438.5h0M451 439h0M451 439.5h0M451 440h0M451 440.5h0M451 441h0M451 441.5h0M451 442h0M451 442.5h0M451 443h0M451 445h0M451.5 431h0M451.5 434.5h0M451.5 435h0M451.5 435.5h0M451.5 436h0M451.5 436.5h0M451.5 437h0M451.5 437.5h0M451.5 438h0M451.5 438.5h0M451.5 439h0M451.5 439.5h0M451.5 440h0M451.5 440.5h0M451.5 441h0M451.5 441.5h0M451.5 442h0M451.5 443h0M452 432h0M452 434h0M452 434.5h0M452 435h0M452 436h0M452 436.5h0M452 437.5h0M452 438h0M452 438.5h0M452 439h0M452 439.5h0M452 440h0M452 440.5h0M452 441h0M452 441.5h0M452 442h0M452 442.5h0M452 443.5h0M452 444.5h0M452.5 431.5h0M452.5 432h0M452.5 432.5h0M452.5 433h0M452.5 434h0M452.5 434.5h0M452.5 435h0M452.5 436h0M452.5 436.5h0M452.5 437h0M452.5 437.5h0M452.5 438h0M452.5 438.5h0M452.5 439h0M452.5 439.5h0M452.5 440h0M452.5 440.5h0M452.5 441h0M452.5 442h0M452.5 442.5h0M452.5 444h0M453 433.5h0M453 434h0M453 434.5h0M453 435h0M453 435.5h0M453 436h0M453 436.5h0M453 437.5h0M453 438h0M453 438.5h0M453 439h0M453 439.5h0M453 440h0M453 440.5h0M453 441h0M453 441.5h0M453 442h0M453 442.5h0M453 445.5h0M453.5 433h0M453.5 433.5h0M453.5 434h0M453.5 435h0M453.5 435.5h0M453.5 436h0M453.5 437h0M453.5 437.5h0M453.5 438h0M453.5 438.5h0M453.5 439h0M453.5 439.5h0M453.5 440h0M453.5 440.5h0M453.5 441h0M453.5 441.5h0M453.5 442h0M453.5 442.5h0M453.5 443h0M454 433h0M454 433.5h0M454 434h0M454 435h0M454 435.5h0M454 436h0M454 436.5h0M454 437h0M454 437.5h0M454 438h0M454 438.5h0M454 439h0M454 439.5h0M454 440h0M454 440.5h0M454 441h0M454 442h0M454 442.5h0M454 443h0M454 444.5h0M454.5 433h0M454.5 434.5h0M454.5 435.5h0M454.5 436h0M454.5 436.5h0M454.5 437h0M454.5 437.5h0M454.5 438h0M454.5 438.5h0M454.5 439h0M454.5 439.5h0M454.5 440h0M454.5 440.5h0M454.5 441h0M454.5 441.5h0M454.5 442h0M454.5 443h0M454.5 443.5h0M454.5 444.5h0M454.5 445h0M455 433.5h0M455 434.5h0M455 435h0M455 435.5h0M455 436h0M455 436.5h0M455 437h0M455 437.5h0M455 438h0M455 438.5h0M455 439h0M455 439.5h0M455 440h0M455 440.5h0M455 441h0M455 441.5h0M455 442.5h0M455 443h0M455 443.5h0M455 444.5h0M455.5 434h0M455.5 435h0M455.5 435.5h0M455.5 436h0M455.5 436.5h0M455.5 437h0M455.5 437.5h0M455.5 438h0M455.5 438.5h0M455.5 439h0M455.5 439.5h0M455.5 440h0M455.5 440.5h0M455.5 441h0M455.5 441.5h0M455.5 442.5h0M455.5 443.5h0M456 431.5h0M456 434h0M456 434.5h0M456 435h0M456 435.5h0M456 436h0M456 436.5h0M456 437h0M456 437.5h0M456 438h0M456 438.5h0M456 439h0M456 439.5h0M456 440h0M456 440.5h0M456 441h0M456 442h0M456 442.5h0M456 443.5h0M456 444.5h0M456 446h0M456.5 433h0M456.5 435.5h0M456.5 436h0M456.5 436.5h0M456.5 437h0M456.5 437.5h0M456.5 438h0M456.5 438.5h0M456.5 439h0M456.5 439.5h0M456.5 440h0M456.5 441h0M456.5 441.5h0M456.5 442h0M456.5 443h0M456.5 445h0M457 433.5h0M457 434h0M457 434.5h0M457 435h0M457 435.5h0M457 436h0M457 436.5h0M457 437h0M457 437.5h0M457 438h0M457 438.5h0M457 439h0M457 439.5h0M457 440h0M457 440.5h0M457 441h0M457 441.5h0M457 442h0M457 442.5h0M457 443h0M457 446.5h0M457.5 432h0M457.5 433.5h0M457.5 434.5h0M457.5 435h0M457.5 436h0M457.5 436.5h0M457.5 437.5h0M457.5 438h0M457.5 438.5h0M457.5 439h0M457.5 439.5h0M457.5 440h0M457.5 440.5h0M457.5 441h0M457.5 441.5h0M457.5 442h0M457.5 443h0M458 434h0M458 434.5h0M458 435h0M458 436h0M458 436.5h0M458 437h0M458 437.5h0M458 438h0M458 438.5h0M458 439h0M458 440h0M458 440.5h0M458 441h0M458 441.5h0M458 442h0M458 442.5h0M458 443.5h0M458.5 431.5h0M458.5 433.5h0M458.5 434.5h0M458.5 435h0M458.5 435.5h0M458.5 436h0M458.5 436.5h0M458.5 437.5h0M458.5 438h0M458.5 438.5h0M458.5 439h0M458.5 439.5h0M458.5 440h0M458.5 440.5h0M458.5 441h0M458.5 441.5h0M458.5 442h0M458.5 442.5h0M459 433.5h0M459 434h0M459 434.5h0M459 436.5h0M459 437h0M459 437.5h0M459 438h0M459 438.5h0M459 439h0M459 439.5h0M459 440h0M459 440.5h0M459 441h0M459 441.5h0M459 442h0M459 442.5h0M459 443.5h0M459 444.5h0M459 445h0M459 447.5h0M459.5 432h0M459.5 436h0M459.5 436.5h0M459.5 437h0M459.5 437.5h0M459.5 438h0M459.5 438.5h0M459.5 439h0M459.5 439.5h0M459.5 440h0M459.5 440.5h0M459.5 441h0M459.5 441.5h0M459.5 442.5h0M459.5 444h0M460 435.5h0M460 436h0M460 436.5h0M460 437h0M460 437.5h0M460 438h0M460 438.5h0M460 439h0M460 439.5h0M460 440h0M460 440.5h0M460 441h0M460 442.5h0M460 443h0M460 443.5h0M460 445h0M460.5 435h0M460.5 435.5h0M460.5 436h0M460.5 436.5h0M460.5 437h0M460.5 437.5h0M460.5 438h0M460.5 438.5h0M460.5 439h0M460.5 439.5h0M460.5 440h0M460.5 440.5h0M460.5 441h0M460.5 442h0M460.5 442.5h0M461 432.5h0M461 433.5h0M461 434h0M461 434.5h0M461 435h0M461 436h0M461 436.5h0M461 437h0M461 437.5h0M461 438h0M461 438.5h0M461 439h0M461 439.5h0M461 440h0M461 440.5h0M461 441h0M461 441.5h0M461 442h0M461 442.5h0M461 443.5h0M461 444h0M461 445.5h0M461.5 435h0M461.5 435.5h0M461.5 436h0M461.5 436.5h0M461.5 437h0M461.5 437.5h0M461.5 438h0M461.5 438.5h0M461.5 439h0M461.5 439.5h0M461.5 440h0M461.5 440.5h0M461.5 441h0M461.5 441.5h0M461.5 442h0M461.5 443h0M461.5 444.5h0M462 433h0M462 434.5h0M462 435h0M462 435.5h0M462 436h0M462 436.5h0M462 437h0M462 437.5h0M462 438h0M462 438.5h0M462 439h0M462 439.5h0M462 440h0M462 440.5h0M462 442h0M462 443h0M462 443.5h0M462.5 434h0M462.5 434.5h0M462.5 435h0M462.5 435.5h0M462.5 436.5h0M462.5 437h0M462.5 437.5h0M462.5 438h0M462.5 438.5h0M462.5 439h0M462.5 439.5h0M462.5 440h0M462.5 440.5h0M462.5 441h0M462.5 441.5h0M462.5 442h0M463 434h0M463 434.5h0M463 435.5h0M463 436h0M463 436.5h0M463 437.5h0M463 438h0M463 438.5h0M463 439h0M463 439.5h0M463 440h0M463 440.5h0M463 441h0M463 441.5h0M463 442.5h0M463.5 431.5h0M463.5 434.5h0M463.5 435h0M463.5 436.5h0M463.5 437h0M463.5 437.5h0M463.5 438h0M463.5 438.5h0M463.5 439h0M463.5 439.5h0M463.5 440h0M463.5 441h0M463.5 442h0M463.5 442.5h0M463.5 443h0M463.5 444h0M464 434h0M464 435h0M464 435.5h0M464 436h0M464 436.5h0M464 437h0M464 437.5h0M464 438.5h0M464 439h0M464 439.5h0M464 440h0M464 440.5h0M464 441h0M464 441.5h0M464 443h0M464 445h0M464.5 433h0M464.5 433.5h0M464.5 434h0M464.5 435.5h0M464.5 436h0M464.5 436.5h0M464.5 437h0M464.5 437.5h0M464.5 438.5h0M464.5 439h0M464.5 439.5h0M464.5 440h0M464.5 440.5h0M464.5 441.5h0M464.5 442h0M464.5 443h0M464.5 443.5h0M465 433.5h0M465 435.5h0M465 436.5h0M465 437h0M465 437.5h0M465 438h0M465 438.5h0M465 439h0M465 440h0M465 440.5h0M465 443h0M465.5 434h0M465.5 434.5h0M465.5 436h0M465.5 436.5h0M465.5 437h0M465.5 437.5h0M465.5 438.5h0M465.5 439h0M465.5 439.5h0M465.5 440h0M465.5 441h0M465.5 441.5h0M465.5 442h0M465.5 442.5h0M466 432h0M466 433h0M466 433.5h0M466 434h0M466 434.5h0M466 435.5h0M466 437h0M466 437.5h0M466 438h0M466 438.5h0M466 439h0M466 439.5h0M466 440h0M466 440.5h0M466 441.5h0M466 442h0M466 443h0M466 444.5h0M466.5 433.5h0M466.5 434.5h0M466.5 436h0M466.5 436.5h0M466.5 437.5h0M466.5 438h0M466.5 438.5h0M466.5 439h0M466.5 439.5h0M466.5 440h0M466.5 440.5h0M466.5 442.5h0M466.5 444h0M467 432.5h0M467 433.5h0M467 435h0M467 436h0M467 436.5h0M467 437h0M467 437.5h0M467 438h0M467 438.5h0M467 439h0M467 440h0M467 441h0M467 442.5h0M467.5 433h0M467.5 434h0M467.5 435h0M467.5 436h0M467.5 436.5h0M467.5 437h0M467.5 437.5h0M467.5 438.5h0M467.5 439h0M467.5 439.5h0M467.5 440h0M467.5 440.5h0M467.5 441h0M467.5 442h0M467.5 442.5h0M467.5 444.5h0M467.5 445h0M468 434.5h0M468 435h0M468 435.5h0M468 436.5h0M468 437h0M468 438h0M468 438.5h0M468 439h0M468 439.5h0M468 440h0M468 440.5h0M468 441h0M468 441.5h0M468 442h0M468 442.5h0M468 443.5h0M468 444h0M468.5 433.5h0M468.5 434.5h0M468.5 436h0M468.5 437h0M468.5 439h0M468.5 439.5h0M468.5 440h0M468.5 440.5h0M468.5 441h0M468.5 441.5h0M468.5 443.5h0M469 432.5h0M469 434.5h0M469 436h0M469 436.5h0M469 437h0M469 437.5h0M469 438h0M469 438.5h0M469 439h0M469 439.5h0M469 440h0M469 440.5h0M469 441h0M469 441.5h0M469 443h0M469.5 433h0M469.5 435.5h0M469.5 436.5h0M469.5 437h0M469.5 437.5h0M469.5 438.5h0M469.5 439.5h0M469.5 440h0M470 435h0M470 436.5h0M470 438h0M470 438.5h0M470 439h0M470 439.5h0M470 440.5h0M470 441h0M470 441.5h0M470 442h0M470.5 434h0M470.5 435.5h0M470.5 436h0M470.5 437h0M470.5 437.5h0M470.5 438h0M470.5 438.5h0M470.5 440h0M470.5 440.5h0M471 433h0M471 434.5h0M471 435h0M471 435.5h0M471 436.5h0M471 437h0M471 437.5h0M471 438h0M471 439h0M471 439.5h0M471 440h0M471 440.5h0M471 441h0M471 441.5h0M471 442h0M471 443.5h0M471.5 434h0M471.5 435h0M471.5 437h0M471.5 437.5h0M471.5 438.5h0M471.5 439h0M471.5 439.5h0M471.5 440h0M471.5 442h0M471.5 444h0M472 435h0M472 435.5h0M472 437h0M472 437.5h0M472 438h0M472 438.5h0M472 439h0M472 440h0M472 440.5h0M472 441h0M472.5 435.5h0M472.5 436.5h0M472.5 437h0M472.5 439h0M472.5 439.5h0M472.5 440.5h0M472.5 441h0M472.5 444h0M473 438h0M473 438.5h0M473 440.5h0M473 441h0M473 442h0M473.5 437h0M473.5 438h0M473.5 438.5h0M473.5 439.5h0M473.5 441h0M473.5 442.5h0M473.5 443h0M474 434.5h0M474 435.5h0M474 436.5h0M474 437.5h0M474 439h0M474 440h0M474 441.5h0M474 442h0M474.5 435h0M474.5 437h0M474.5 438.5h0M474.5 439h0M474.5 439.5h0M474.5 441.5h0M474.5 443h0M475 437h0M475 437.5h0M475 439h0M475 440.5h0M475 441h0M475.5 437.5h0M475.5 438.5h0M475.5 440h0M475.5 440.5h0M475.5 441h0M475.5 441.5h0M475.5 443h0M476 436.5h0M476 437h0M476 438.5h0M476 440h0M476 441h0M476 441.5h0M476.5 437h0M476.5 439.5h0M476.5 440h0M476.5 440.5h0M476.5 444h0M477 434h0M477 436h0M477 436.5h0M477 437.5h0M477 443h0M477.5 437h0M477.5 437.5h0M477.5 438.5h0M478 435h0M478 436h0M478 437h0M478 437.5h0M478 438h0M478 438.5h0M478 439h0M478 440h0M478 441h0M478 444.5h0M478 446.5h0M478.5 441h0M478.5 443.5h0M479 435.5h0M479 436h0M479 437h0M479 442h0M479.5 433h0M479.5 438h0M479.5 438.5h0M479.5 439h0M479.5 441.5h0M480 438h0M480 439h0M480 440.5h0M480 442.5h0M480.5 439h0M480.5 440h0M480.5 441.5h0M481 438h0M481 439h0M481 442h0M481.5 436h0M481.5 436.5h0M481.5 442h0M482 438.5h0M482 440h0M482 440.5h0M482 442.5h0M482.5 436h0M482.5 437.5h0M482.5 439h0M483 434.5h0M483 442.5h0M483 444.5h0M483.5 441.5h0M484 437h0M484 443.5h0M484.5 436.5h0M485 433.5h0M485.5 435h0M485.5 436.5h0M486 437.5h0M486 441.5h0M486.5 435h0M486.5 440.5h0M486.5 441.5h0M487 435h0M487 440h0M487.5 438.5h0M488 436.5h0M488.5 437h0M488.5 439.5h0M491 438h0M491 439.5h0M491.5 437.5h0M492 439h0M494 434h0M496 435h0M496.5 436h0M497.5 436h0M498.5 439.5h0M500 440h0M502 438h0M507.5 435.5h0M510.5 435h0" stroke="#555" stroke-width="1.45" stroke-linecap="round" fill="none"/>
<g fill="#E0392B"><circle cx="391.0" cy="399.6" r="1.3"/><circle cx="399.0" cy="394.0" r="1.3"/><circle cx="415.0" cy="392.0" r="1.3"/><circle cx="405.5" cy="399.3" r="1.3"/><circle cx="406.6" cy="398.6" r="1.3"/><circle cx="395.3" cy="406.9" r="1.3"/><circle cx="411.8" cy="404.0" r="1.3"/><circle cx="400.4" cy="413.0" r="1.3"/><circle cx="401.9" cy="411.7" r="1.3"/><circle cx="404.5" cy="415.7" r="1.3"/><circle cx="406.0" cy="414.9" r="1.3"/><circle cx="407.0" cy="417.8" r="1.3"/><circle cx="409.2" cy="412.0" r="1.3"/><circle cx="411.4" cy="410.5" r="1.3"/><circle cx="410.4" cy="416.0" r="1.3"/><circle cx="408.5" cy="420.0" r="1.3"/><circle cx="411.4" cy="421.5" r="1.3"/><circle cx="414.3" cy="423.2" r="1.3"/><circle cx="416.5" cy="419.3" r="1.3"/><circle cx="418.0" cy="412.7" r="1.3"/><circle cx="418.7" cy="415.4" r="1.3"/><circle cx="417.2" cy="423.2" r="1.3"/><circle cx="420.1" cy="420.0" r="1.3"/><circle cx="421.6" cy="424.4" r="1.3"/><circle cx="423.8" cy="425.9" r="1.3"/><circle cx="425.2" cy="426.5" r="1.3"/><circle cx="426.7" cy="425.1" r="1.3"/><circle cx="428.2" cy="416.4" r="1.3"/><circle cx="428.5" cy="421.5" r="1.3"/><circle cx="429.6" cy="427.3" r="1.3"/><circle cx="432.6" cy="422.2" r="1.3"/><circle cx="434.0" cy="423.7" r="1.3"/><circle cx="435.5" cy="422.7" r="1.3"/><circle cx="433.3" cy="428.8" r="1.3"/><circle cx="436.9" cy="428.0" r="1.3"/><circle cx="439.9" cy="428.5" r="1.3"/><circle cx="442.8" cy="425.9" r="1.3"/><circle cx="443.5" cy="428.8" r="1.3"/><circle cx="456.6" cy="428.0" r="1.3"/><circle cx="460.7" cy="426.6" r="1.3"/><circle cx="419.0" cy="424.0" r="1.3"/><circle cx="422.0" cy="426.0" r="1.3"/><circle cx="427.0" cy="427.0" r="1.3"/><circle cx="431.0" cy="427.5" r="1.3"/><circle cx="403.0" cy="413.5" r="1.3"/><circle cx="402.2" cy="412.4" r="1.3"/></g>
<g fill="#3446A8"><circle cx="394.0" cy="466.7" r="1.3"/><circle cx="396.6" cy="468.9" r="1.3"/><circle cx="389.6" cy="473.6" r="1.3"/><circle cx="391.0" cy="475.0" r="1.3"/><circle cx="392.8" cy="476.2" r="1.3"/><circle cx="386.0" cy="481.6" r="1.3"/><circle cx="388.1" cy="483.5" r="1.3"/><circle cx="390.3" cy="484.5" r="1.3"/><circle cx="391.4" cy="485.5" r="1.3"/><circle cx="400.1" cy="465.1" r="1.3"/><circle cx="401.6" cy="461.9" r="1.3"/><circle cx="402.7" cy="467.4" r="1.3"/><circle cx="405.7" cy="458.2" r="1.3"/><circle cx="406.8" cy="457.5" r="1.3"/><circle cx="410.0" cy="461.9" r="1.3"/><circle cx="411.5" cy="460.4" r="1.3"/><circle cx="413.2" cy="458.7" r="1.3"/><circle cx="413.7" cy="468.5" r="1.3"/><circle cx="413.2" cy="454.6" r="1.3"/><circle cx="415.9" cy="453.1" r="1.3"/><circle cx="418.8" cy="454.6" r="1.3"/><circle cx="421.7" cy="455.3" r="1.3"/><circle cx="421.7" cy="451.4" r="1.3"/><circle cx="424.6" cy="453.1" r="1.3"/><circle cx="425.4" cy="449.9" r="1.3"/><circle cx="423.5" cy="460.1" r="1.3"/><circle cx="428.3" cy="455.3" r="1.3"/><circle cx="429.7" cy="451.4" r="1.3"/><circle cx="433.1" cy="455.8" r="1.3"/><circle cx="433.7" cy="451.0" r="1.3"/><circle cx="437.0" cy="455.8" r="1.3"/><circle cx="439.0" cy="453.1" r="1.3"/><circle cx="438.1" cy="448.8" r="1.3"/><circle cx="439.2" cy="465.5" r="1.3"/><circle cx="448.7" cy="465.5" r="1.3"/><circle cx="449.2" cy="472.8" r="1.3"/><circle cx="450.9" cy="452.4" r="1.3"/><circle cx="452.4" cy="450.2" r="1.3"/><circle cx="454.6" cy="450.2" r="1.3"/><circle cx="465.5" cy="454.9" r="1.3"/><circle cx="408.3" cy="487.9" r="1.3"/><circle cx="410.8" cy="499.6" r="1.3"/><circle cx="409.0" cy="460.5" r="1.3"/><circle cx="403.5" cy="463.0" r="1.3"/></g>
<rect x="343.8" y="381.7" width="183.3" height="122.1" fill="none" stroke="#111" stroke-width="1.2"/>
<line x1="341.4" y1="494.6" x2="343.8" y2="494.6" stroke="#111" stroke-width="0.9"/>
<line x1="339.8" y1="485.2" x2="343.8" y2="485.2" stroke="#111" stroke-width="0.9"/>
<line x1="341.4" y1="475.9" x2="343.8" y2="475.9" stroke="#111" stroke-width="0.9"/>
<line x1="341.4" y1="466.6" x2="343.8" y2="466.6" stroke="#111" stroke-width="0.9"/>
<line x1="341.4" y1="457.3" x2="343.8" y2="457.3" stroke="#111" stroke-width="0.9"/>
<line x1="341.4" y1="447.9" x2="343.8" y2="447.9" stroke="#111" stroke-width="0.9"/>
<line x1="339.8" y1="438.6" x2="343.8" y2="438.6" stroke="#111" stroke-width="0.9"/>
<line x1="341.4" y1="429.3" x2="343.8" y2="429.3" stroke="#111" stroke-width="0.9"/>
<line x1="341.4" y1="419.9" x2="343.8" y2="419.9" stroke="#111" stroke-width="0.9"/>
<line x1="341.4" y1="410.6" x2="343.8" y2="410.6" stroke="#111" stroke-width="0.9"/>
<line x1="341.4" y1="401.3" x2="343.8" y2="401.3" stroke="#111" stroke-width="0.9"/>
<line x1="339.8" y1="392.0" x2="343.8" y2="392.0" stroke="#111" stroke-width="0.9"/>
<line x1="341.4" y1="382.6" x2="343.8" y2="382.6" stroke="#111" stroke-width="0.9"/>
<line x1="343.8" y1="503.8" x2="343.8" y2="508.0" stroke="#111" stroke-width="0.9"/>
<line x1="357.0" y1="503.8" x2="357.0" y2="506.4" stroke="#111" stroke-width="0.9"/>
<line x1="370.2" y1="503.8" x2="370.2" y2="506.4" stroke="#111" stroke-width="0.9"/>
<line x1="383.3" y1="503.8" x2="383.3" y2="506.4" stroke="#111" stroke-width="0.9"/>
<line x1="396.5" y1="503.8" x2="396.5" y2="506.4" stroke="#111" stroke-width="0.9"/>
<line x1="409.7" y1="503.8" x2="409.7" y2="508.0" stroke="#111" stroke-width="0.9"/>
<line x1="422.9" y1="503.8" x2="422.9" y2="506.4" stroke="#111" stroke-width="0.9"/>
<line x1="436.1" y1="503.8" x2="436.1" y2="506.4" stroke="#111" stroke-width="0.9"/>
<line x1="449.2" y1="503.8" x2="449.2" y2="506.4" stroke="#111" stroke-width="0.9"/>
<line x1="462.4" y1="503.8" x2="462.4" y2="506.4" stroke="#111" stroke-width="0.9"/>
<line x1="475.6" y1="503.8" x2="475.6" y2="508.0" stroke="#111" stroke-width="0.9"/>
<line x1="488.8" y1="503.8" x2="488.8" y2="506.4" stroke="#111" stroke-width="0.9"/>
<line x1="502.0" y1="503.8" x2="502.0" y2="506.4" stroke="#111" stroke-width="0.9"/>
<line x1="515.1" y1="503.8" x2="515.1" y2="506.4" stroke="#111" stroke-width="0.9"/>
<text x="336.6" y="396.1" font-size="11.5" text-anchor="end" stroke="#111">5</text>
<text x="336.6" y="442.7" font-size="11.5" text-anchor="end" stroke="#111">0</text>
<text x="336.6" y="489.4" font-size="11.5" text-anchor="end" stroke="#111">-5</text>
<text x="343.8" y="519.4" font-size="11.5" text-anchor="middle" stroke="#111">0</text>
<text x="409.7" y="519.4" font-size="11.5" text-anchor="middle" stroke="#111">5</text>
<text x="475.6" y="519.4" font-size="11.5" text-anchor="middle" stroke="#111">10</text>
<text transform="translate(322.8,439.5) rotate(-90)" font-size="11.5" text-anchor="middle" stroke="#111">log<tspan font-size="7.5" dy="2">2</tspan><tspan dy="-2">(shRRN3/shLacZ)</tspan></text>
<text x="443.5" y="530.9" font-size="11.2" text-anchor="middle" stroke="#111">Expression level (TPM, log<tspan font-size="7.5" dy="2">2</tspan><tspan dy="-2">)</tspan></text>
<text x="482.6" y="422.6" font-size="11.5" fill="#E23A2D" stroke="#E23A2D">UP: 73</text>
<text x="483.3" y="460.2" font-size="11.5" fill="#3446A8" stroke="#3446A8">DN: 64</text>
<text x="476.3" y="498.3" font-size="11.5" stroke="#111">n=11,276</text>
<circle cx="334.6" cy="541.2" r="1.5" fill="#E23A2D"/><circle cx="410.6" cy="541.2" r="1.5" fill="#3446A8"/><circle cx="496.4" cy="541.2" r="1.5" fill="#777"/>
<text x="337.6" y="544.2" font-size="8.1" stroke="#111">Upregulated (UP)</text>
<text x="412.6" y="544.2" font-size="8.1" stroke="#111">Downregulated (DN)</text>
<text x="498.4" y="544.2" font-size="8.1" stroke="#111">Not regulated</text>
<text x="433.8" y="557.9" font-size="8.5" text-anchor="middle" stroke="#111">q&lt;0.05, Fold change &gt;2</text>
</svg>
</body></html>
